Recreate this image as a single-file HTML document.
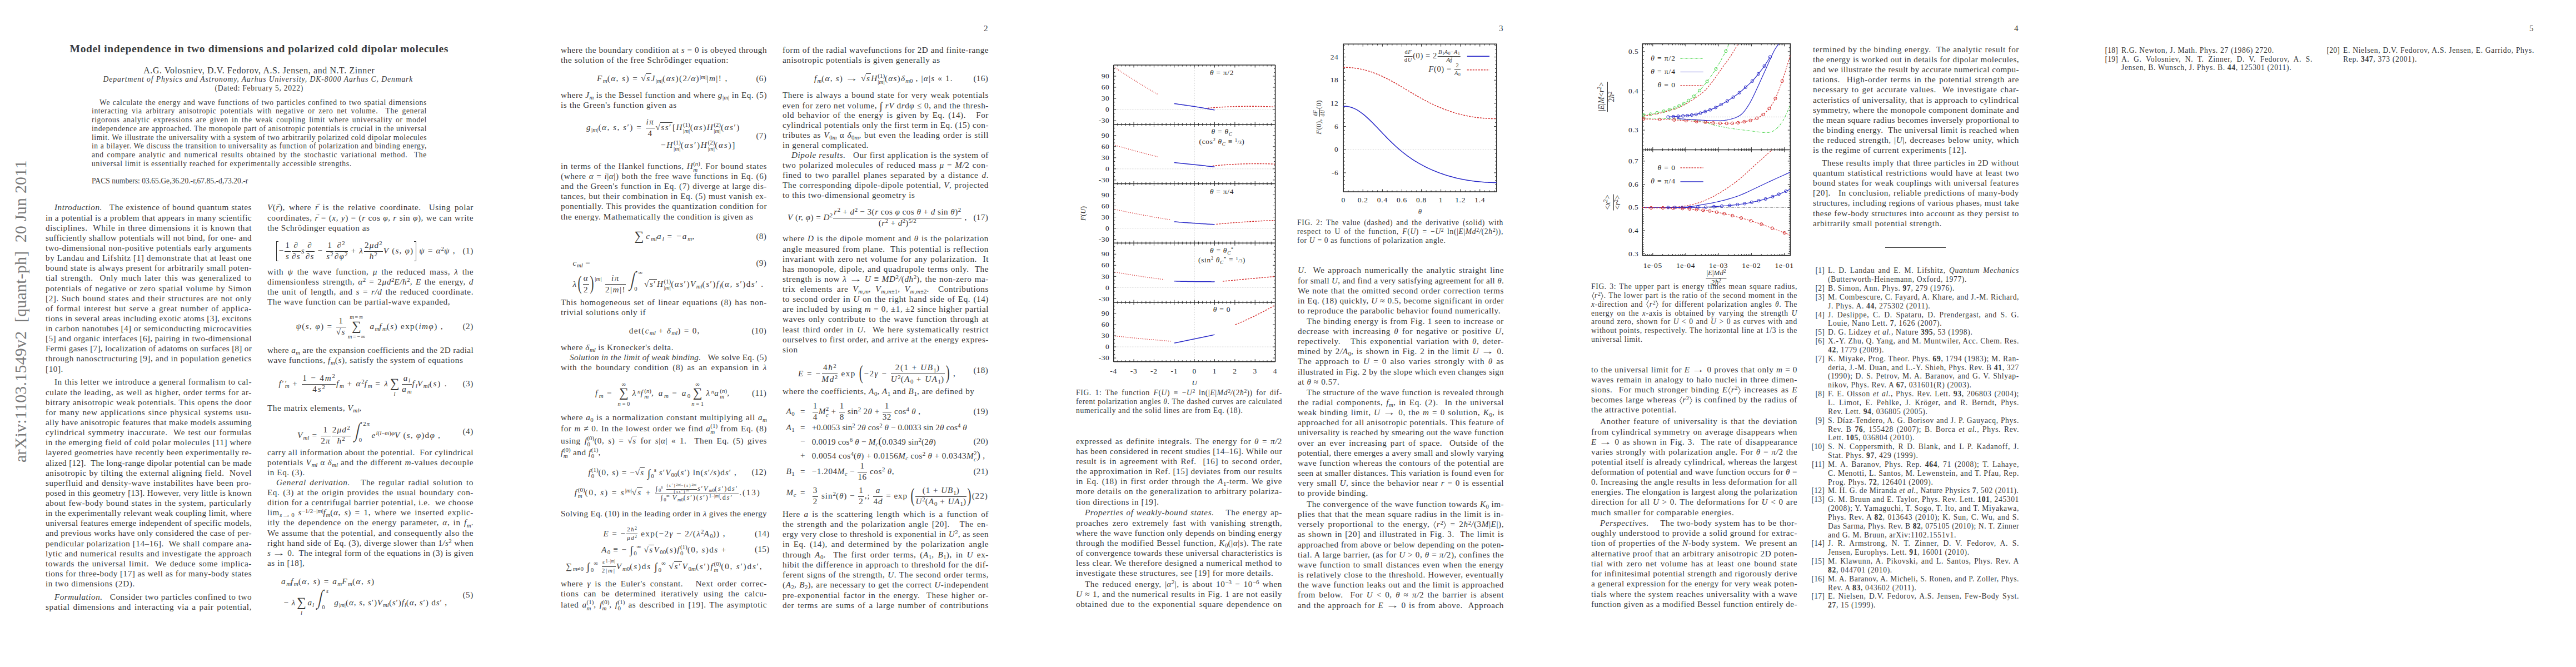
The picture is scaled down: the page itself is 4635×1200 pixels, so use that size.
<!DOCTYPE html><html><head><meta charset='utf-8'><style>*{margin:0;padding:0}
html,body{width:4635px;height:1200px;background:#fff;overflow:hidden}
body{position:relative;font-family:"Liberation Serif",serif;color:#383838}
.t{position:absolute;line-height:0;white-space:nowrap;font-size:15.2px}
.s{font-size:13.6px}
.j{text-align:justify;text-align-last:justify}
sub,sup{font-size:72%;line-height:0;position:relative;vertical-align:baseline;letter-spacing:0}
sub{top:0.28em}
sup{top:-0.42em}
svg{position:absolute;overflow:visible}
.fr{display:inline-block;vertical-align:calc(-0.6375em - 0.5px);text-align:center;line-height:0.92;margin:-40px 1px}
.fr>span{display:block}
.fr>span.n{border-bottom:1px solid #333;padding:0 1px 0.26em 1px}
.fr>span.d{padding-top:0.09em}
.op{display:inline-block;line-height:0;margin:0 2px;text-align:center;vertical-align:baseline}
.op .lt,.op .lb{display:block;position:relative;font-size:70%;line-height:0;text-align:center;white-space:nowrap}
.op .lt{top:-1.69em}.op .lb{top:1.64em}
.op .sy{display:block;font-size:155%;position:relative;top:-0.143em;line-height:0}
.brk{display:inline-block;vertical-align:25.8px;width:4px;height:36px;border:1.2px solid #333;margin-top:-40px;margin-bottom:-40px;box-sizing:border-box}
.brk.l{border-right:none;margin-right:1px}
.brk.r{border-left:none;margin-left:1px}
.vec{position:relative;display:inline-block;line-height:0}
.vec::after{content:'→';position:absolute;left:1px;top:-7px;font-size:9px;font-style:normal}
.side{position:absolute;font-size:30px;color:#7a7a7a;transform:rotate(-90deg);transform-origin:0 0;white-space:nowrap;line-height:30px;letter-spacing:0.2px}
.ov{display:inline-block;border-top:1px solid #333;line-height:1.02;margin:-40px 0 -40px -1px;padding:0 1px 0 1px}
.ss{display:inline-block;vertical-align:middle;line-height:1;font-size:72%;margin:-40px 0;position:relative;top:-0.05em;letter-spacing:0}
.ss>span{display:block;text-align:left}
.tf{font-size:72%;vertical-align:calc(-0.54em - 0.5px)}
.bigp{display:inline-block;font-size:230%;line-height:0;position:relative;top:0.165em;transform:scaleX(0.6);margin:0 -2px}
.sm2{font-size:125%;font-style:italic;position:relative;top:0.12em}
.tf2{font-size:60%;vertical-align:calc(-0.47em - 0.5px)}
.sm13{font-size:80%}
.rot{transform:translate(-50%,0) rotate(-90deg);transform-origin:50% 0}
.up2{font-style:normal}

.bi{display:inline-block;position:relative;line-height:0;margin-right:1.0em;margin-left:0.55em}
.bi .bs{display:inline-block;font-size:2.43em;position:relative;top:-0.055em;transform:skewX(-12deg) scaleX(0.62);margin:0 -2px 0 -1px}
.bi .bt,.bi .bb{position:absolute;font-size:70%;line-height:0;white-space:nowrap}
.bi .bt{left:1.25em;top:-1.21em}
.bi .bb{left:0.55em;top:1.55em}

.abw{display:inline-block;position:relative;width:6px;height:0;vertical-align:baseline}
svg.ab{position:absolute;left:0.5px;top:-11.5px}

.ar{display:inline-block;transform:scaleX(1.55);margin:0 3px;line-height:0}
</style></head><body><div class="side" style="left:22px;top:832px">arXiv:1103.1549v2&nbsp; [quant-ph]&nbsp; 20 Jun 2011</div>
<div class="t" style="left:125.6px;top:88.39px;font-size:19.6px;letter-spacing:0.578px;color:#3c3c3c;"><span><b>Model independence in two dimensions and polarized cold dipolar molecules</b></span></div>
<div class="t" style="left:258.3px;top:126.67px;font-size:15.8px;letter-spacing:0.657px;"><span>A.G. Volosniev, D.V. Fedorov, A.S. Jensen, and N.T. Zinner</span></div>
<div class="t s" style="left:185.5px;top:143.41px;letter-spacing:0.927px;"><span><i>Department of Physics and Astronomy, Aarhus University, DK-8000 Aarhus C, Denmark</i></span></div>
<div class="t s" style="left:386.5px;top:158.91px;letter-spacing:0.702px;"><span>(Dated: February 5, 2022)</span></div>
<div class="t s j" style="left:179.0px;top:184.61px;width:589.0px;letter-spacing:0.650px;"><span>We calculate the energy and wave functions of two particles confined to two spatial dimensions</span></div>
<div class="t s j" style="left:165.0px;top:200.35px;width:603.0px;letter-spacing:0.650px;"><span>interacting via arbitrary anisotropic potentials with negative or zero net volume.&nbsp; The general</span></div>
<div class="t s j" style="left:165.0px;top:216.09px;width:603.0px;letter-spacing:0.650px;"><span>rigorous analytic expressions are given in the weak coupling limit where universality or model</span></div>
<div class="t s j" style="left:165.0px;top:231.83px;width:603.0px;letter-spacing:0.564px;"><span>independence are approached. The monopole part of anisotropic potentials is crucial in the universal</span></div>
<div class="t s j" style="left:165.0px;top:247.57px;width:603.0px;letter-spacing:0.562px;"><span>limit. We illustrate the universality with a system of two arbitrarily polarized cold dipolar molecules</span></div>
<div class="t s j" style="left:165.0px;top:263.31px;width:603.0px;letter-spacing:0.594px;"><span>in a bilayer. We discuss the transition to universality as function of polarization and binding energy,</span></div>
<div class="t s j" style="left:165.0px;top:279.05px;width:603.0px;letter-spacing:0.650px;"><span>and compare analytic and numerical results obtained by the stochastic variational method.&nbsp; The</span></div>
<div class="t s" style="left:165.0px;top:294.79px;letter-spacing:0.650px;"><span>universal limit is essentially reached for experimentally accessible strengths.</span></div>
<div class="t s" style="left:165.0px;top:326.41px;letter-spacing:0.008px;"><span>PACS numbers: 03.65.Ge,36.20.-r,67.85.-d,73.20.-r</span></div>
<div class="t j" style="left:98.0px;top:373.47px;width:355.0px;letter-spacing:0.511px;"><span><i>Introduction.</i>&nbsp;&nbsp; The existence of bound quantum states</span></div>
<div class="t j" style="left:82.0px;top:391.60px;width:371.0px;letter-spacing:0.381px;"><span>in a potential is a problem that appears in many scientific</span></div>
<div class="t j" style="left:82.0px;top:409.73px;width:371.0px;letter-spacing:0.570px;"><span>disciplines.&nbsp; While in three dimensions it is known that</span></div>
<div class="t j" style="left:82.0px;top:427.86px;width:371.0px;letter-spacing:0.406px;"><span>sufficiently shallow potentials will not bind, for one- and</span></div>
<div class="t j" style="left:82.0px;top:445.99px;width:371.0px;letter-spacing:0.444px;"><span>two-dimensional non-positive potentials early arguments</span></div>
<div class="t j" style="left:82.0px;top:464.12px;width:371.0px;letter-spacing:0.545px;"><span>by Landau and Lifshitz [1] demonstrate that at least one</span></div>
<div class="t j" style="left:82.0px;top:482.25px;width:371.0px;letter-spacing:0.475px;"><span>bound state is always present for arbitrarily small poten-</span></div>
<div class="t j" style="left:82.0px;top:500.38px;width:371.0px;letter-spacing:0.570px;"><span>tial strength.&nbsp; Only much later this was generalized to</span></div>
<div class="t j" style="left:82.0px;top:518.51px;width:371.0px;letter-spacing:0.570px;"><span>potentials of negative or zero spatial volume by Simon</span></div>
<div class="t j" style="left:82.0px;top:536.64px;width:371.0px;letter-spacing:0.570px;"><span>[2]. Such bound states and their structures are not only</span></div>
<div class="t j" style="left:82.0px;top:554.77px;width:371.0px;letter-spacing:0.570px;"><span>of formal interest but serve a great number of applica-</span></div>
<div class="t j" style="left:82.0px;top:572.90px;width:371.0px;letter-spacing:0.359px;"><span>tions in several areas including exotic atoms [3], excitons</span></div>
<div class="t j" style="left:82.0px;top:591.03px;width:371.0px;letter-spacing:0.439px;"><span>in carbon nanotubes [4] or semiconducting microcavities</span></div>
<div class="t j" style="left:82.0px;top:609.16px;width:371.0px;letter-spacing:0.363px;"><span>[5] and organic interfaces [6], pairing in two-dimensional</span></div>
<div class="t j" style="left:82.0px;top:627.29px;width:371.0px;letter-spacing:0.267px;"><span>Fermi gases [7], localization of adatoms on surfaces [8] or</span></div>
<div class="t j" style="left:82.0px;top:645.42px;width:371.0px;letter-spacing:0.499px;"><span>through nanosctructuring [9], and in population genetics</span></div>
<div class="t" style="left:82.0px;top:663.55px;letter-spacing:0.570px;"><span>[10].</span></div>
<div class="t j" style="left:98.0px;top:687.47px;width:355.0px;letter-spacing:0.555px;"><span>In this letter we introduce a general formalism to cal-</span></div>
<div class="t j" style="left:82.0px;top:705.60px;width:371.0px;letter-spacing:0.570px;"><span>culate the leading, as well as higher, order terms for ar-</span></div>
<div class="t j" style="left:82.0px;top:723.73px;width:371.0px;letter-spacing:0.570px;"><span>bitrary anisotropic weak potentials. This opens the door</span></div>
<div class="t j" style="left:82.0px;top:741.86px;width:371.0px;letter-spacing:0.570px;"><span>for many new applications since physical systems usu-</span></div>
<div class="t j" style="left:82.0px;top:759.99px;width:371.0px;letter-spacing:0.348px;"><span>ally have anisotropic features that make models assuming</span></div>
<div class="t j" style="left:82.0px;top:778.12px;width:371.0px;letter-spacing:0.570px;"><span>cylindrical symmetry inaccurate.&nbsp; We test our formulas</span></div>
<div class="t j" style="left:82.0px;top:796.25px;width:371.0px;letter-spacing:0.484px;"><span>in the emerging field of cold polar molecules [11] where</span></div>
<div class="t j" style="left:82.0px;top:814.38px;width:371.0px;letter-spacing:0.388px;"><span>layered geometries have recently been experimentally re-</span></div>
<div class="t j" style="left:82.0px;top:832.51px;width:371.0px;letter-spacing:0.291px;"><span>alized [12].&nbsp; The long-range dipolar potential can be made</span></div>
<div class="t j" style="left:82.0px;top:850.64px;width:371.0px;letter-spacing:0.570px;"><span>anisotropic by tilting the external aligning field.&nbsp; Novel</span></div>
<div class="t j" style="left:82.0px;top:868.77px;width:371.0px;letter-spacing:0.570px;"><span>superfluid and density-wave instabilites have been pro-</span></div>
<div class="t j" style="left:82.0px;top:886.90px;width:371.0px;letter-spacing:0.259px;"><span>posed in this geometry [13]. However, very little is known</span></div>
<div class="t j" style="left:82.0px;top:905.03px;width:371.0px;letter-spacing:0.570px;"><span>about few-body bound states in the system, particularly</span></div>
<div class="t j" style="left:82.0px;top:923.16px;width:371.0px;letter-spacing:0.321px;"><span>in the experimentally relevant weak coupling limit, where</span></div>
<div class="t j" style="left:82.0px;top:941.29px;width:371.0px;letter-spacing:0.304px;"><span>universal features emerge independent of specific models,</span></div>
<div class="t j" style="left:82.0px;top:959.42px;width:371.0px;letter-spacing:0.384px;"><span>and previous works have only considered the case of per-</span></div>
<div class="t j" style="left:82.0px;top:977.55px;width:371.0px;letter-spacing:0.513px;"><span>pendicular polarization [14–16].&nbsp; We shall compare ana-</span></div>
<div class="t j" style="left:82.0px;top:995.68px;width:371.0px;letter-spacing:0.570px;"><span>lytic and numerical results and investigate the approach</span></div>
<div class="t j" style="left:82.0px;top:1013.81px;width:371.0px;letter-spacing:0.570px;"><span>towards the universal limit.&nbsp; We deduce some implica-</span></div>
<div class="t j" style="left:82.0px;top:1031.94px;width:371.0px;letter-spacing:0.446px;"><span>tions for three-body [17] as well as for many-body states</span></div>
<div class="t" style="left:82.0px;top:1050.07px;letter-spacing:0.570px;"><span>in two dimensions (2D).</span></div>
<div class="t j" style="left:98.0px;top:1073.87px;width:355.0px;letter-spacing:0.495px;"><span><i>Formulation.</i>&nbsp;&nbsp; Consider two particles confined to two</span></div>
<div class="t j" style="left:82.0px;top:1091.97px;width:371.0px;letter-spacing:0.570px;"><span>spatial dimensions and interacting via a pair potential,</span></div>
<div class="t j" style="left:481.0px;top:373.47px;width:371.0px;letter-spacing:0.570px;"><span><i>V</i>(<i class=vec>r</i>), where <i class=vec>r</i> is the relative coordinate.&nbsp; Using polar</span></div>
<div class="t j" style="left:481.0px;top:391.60px;width:371.0px;letter-spacing:0.570px;"><span>coordinates, <i class=vec>r</i> = (<i>x, y</i>) = (<i>r</i> cos <i>φ, r</i> sin <i>φ</i>), we can write</span></div>
<div class="t" style="left:481.0px;top:409.73px;letter-spacing:0.570px;"><span>the Schrödinger equation as</span></div>
<div class="t eq" style="left:496.5px;top:450.87px;letter-spacing:1.167px;"><span><span class="brk l" style="height:36px"></span>−<span class="fr "><span class="n">1</span><span class="d"><i>s</i></span></span><span class="fr "><span class="n">∂</span><span class="d">∂<i>s</i></span></span><i>s</i><span class="fr "><span class="n">∂</span><span class="d">∂<i>s</i></span></span> − <span class="fr "><span class="n">1</span><span class="d"><i>s</i><sup>2</sup></span></span><span class="fr "><span class="n">∂<sup>2</sup></span><span class="d">∂<i>φ</i><sup>2</sup></span></span> + <i>λ</i><span class="fr "><span class="n">2<i>μd</i><sup>2</sup></span><span class="d"><i>ħ</i><sup>2</sup></span></span><i>V</i> (<i>s, φ</i>)<span class="brk r" style="height:36px"></span> <i>ψ</i> = <i>α</i><sup>2</sup><i>ψ</i> ,</span></div>
<div class="t" style="left:832.4px;top:451.27px;letter-spacing:0.570px;"><span>(1)</span></div>
<div class="t j" style="left:481.0px;top:488.87px;width:371.0px;letter-spacing:0.570px;"><span>with <i>ψ</i> the wave function, <i>μ</i> the reduced mass, <i>λ</i> the</span></div>
<div class="t j" style="left:481.0px;top:507.00px;width:371.0px;letter-spacing:0.570px;"><span>dimensionless strength, <i>α</i><sup>2</sup> = 2<i>μd</i><sup>2</sup><i>E/ħ</i><sup>2</sup>, <i>E</i> the energy, <i>d</i></span></div>
<div class="t j" style="left:481.0px;top:525.13px;width:371.0px;letter-spacing:0.570px;"><span>the unit of length, and <i>s</i> = <i>r/d</i> the reduced coordinate.</span></div>
<div class="t" style="left:481.0px;top:543.26px;letter-spacing:0.570px;"><span>The wave function can be partial-wave expanded,</span></div>
<div class="t eq" style="left:532.5px;top:586.87px;letter-spacing:1.353px;"><span><i>ψ</i>(<i>s, φ</i>) = <span class="fr "><span class="n">1</span><span class="d">√<span class="ov"><i>s</i></span></span></span><span class="op "><span class="lt"><i>m</i>=∞</span><span class="sy">∑</span><span class="lb"><i>m</i>=−∞</span></span> <i>a<sub>m</sub>f<sub>m</sub></i>(<i>s</i>) exp(<i>imφ</i>) ,</span></div>
<div class="t" style="left:832.4px;top:586.87px;letter-spacing:0.570px;"><span>(2)</span></div>
<div class="t j" style="left:481.0px;top:629.87px;width:371.0px;letter-spacing:0.367px;"><span>where <i>a<sub>m</sub></i> are the expansion coefficients and the 2D radial</span></div>
<div class="t" style="left:481.0px;top:648.00px;letter-spacing:0.570px;"><span>wave functions, <i>f<sub>m</sub></i>(<i>s</i>), satisfy the system of equations</span></div>
<div class="t eq" style="left:501.5px;top:689.87px;letter-spacing:1.810px;"><span><i>f</i>′′<sub style="margin-left:-5px"><i>m</i></sub> + <span class="fr "><span class="n">1 − 4<i>m</i><sup>2</sup></span><span class="d">4<i>s</i><sup>2</sup></span></span><i>f<sub>m</sub></i> + <i>α</i><sup>2</sup><i>f<sub>m</sub></i> = <i>λ</i><span class="op "><span class="lt">&nbsp;</span><span class="sy">∑</span><span class="lb"><i>l</i></span></span><span class="fr "><span class="n"><i>a<sub>l</sub></i></span><span class="d"><i>a<sub>m</sub></i></span></span><i>f<sub>l</sub>V<sub>ml</sub></i>(<i>s</i>) .</span></div>
<div class="t" style="left:832.4px;top:689.87px;letter-spacing:0.570px;"><span>(3)</span></div>
<div class="t" style="left:481.0px;top:733.87px;letter-spacing:0.570px;"><span>The matrix elements, <i>V<sub>ml</sub></i>,</span></div>
<div class="t eq" style="left:535.0px;top:775.87px;letter-spacing:1.191px;"><span><i>V<sub>ml</sub></i> = <span class="fr "><span class="n">1</span><span class="d">2<i>π</i></span></span><span class="fr "><span class="n">2<i>μd</i><sup>2</sup></span><span class="d"><i>ħ</i><sup>2</sup></span></span><span class="bi"><span class="bs">∫</span><span class="bt">2<i>π</i></span><span class="bb">0</span></span> <i>e</i><sup><i>i</i>(<i>l</i>−<i>m</i>)<i>φ</i></sup><i>V</i> (<i>s, φ</i>)d<i>φ</i> ,</span></div>
<div class="t" style="left:832.4px;top:775.87px;letter-spacing:0.570px;"><span>(4)</span></div>
<div class="t j" style="left:481.0px;top:813.87px;width:371.0px;letter-spacing:0.445px;"><span>carry all information about the potential.&nbsp; For cylindrical</span></div>
<div class="t j" style="left:481.0px;top:832.00px;width:371.0px;letter-spacing:0.570px;"><span>potentials <i>V<sub>ml</sub></i> <span class=up2>α</span> <i>δ<sub>ml</sub></i> and the different <i>m</i>-values decouple</span></div>
<div class="t" style="left:481.0px;top:850.13px;letter-spacing:0.570px;"><span>in Eq. (3).</span></div>
<div class="t j" style="left:497.0px;top:867.87px;width:355.0px;letter-spacing:0.570px;"><span><i>General derivation.</i>&nbsp;&nbsp; The regular radial solution to</span></div>
<div class="t j" style="left:481.0px;top:885.87px;width:371.0px;letter-spacing:0.570px;"><span>Eq. (3) at the origin provides the usual boundary con-</span></div>
<div class="t j" style="left:481.0px;top:904.37px;width:371.0px;letter-spacing:0.570px;"><span>dition for a centrifugal barrier potential, i.e.&nbsp; we choose</span></div>
<div class="t j" style="left:481.0px;top:922.37px;width:371.0px;letter-spacing:0.570px;"><span>lim<sub><i>s</i><span class=ar>→</span>0</sub> <i>s</i><sup>−1/2−|<i>m</i>|</sup><i>f<sub>m</sub></i>(<i>α, s</i>) = 1, where we inserted explic-</span></div>
<div class="t j" style="left:481.0px;top:940.47px;width:371.0px;letter-spacing:0.570px;"><span>itly the dependence on the energy parameter, <i>α</i>, in <i>f<sub>m</sub></i>.</span></div>
<div class="t j" style="left:481.0px;top:958.57px;width:371.0px;letter-spacing:0.570px;"><span>We assume that the potential, and consequently also the</span></div>
<div class="t j" style="left:481.0px;top:976.67px;width:371.0px;letter-spacing:0.475px;"><span>right hand side of Eq. (3), diverge slower than 1<i>/s</i><sup>2</sup> when</span></div>
<div class="t j" style="left:481.0px;top:994.77px;width:371.0px;letter-spacing:0.346px;"><span><i>s</i> <span class=ar>→</span> 0.&nbsp; The integral form of the equations in (3) is given</span></div>
<div class="t" style="left:481.0px;top:1012.87px;letter-spacing:0.570px;"><span>as in [18],</span></div>
<div class="t eq" style="left:506.0px;top:1045.87px;letter-spacing:1.521px;"><span><i>a<sub>m</sub>f<sub>m</sub></i>(<i>α, s</i>) = <i>a<sub>m</sub>F<sub>m</sub></i>(<i>α, s</i>)</span></div>
<div class="t eq" style="left:510.5px;top:1076.87px;letter-spacing:0.841px;"><span>− <i>λ</i><span class="op "><span class="lt">&nbsp;</span><span class="sy">∑</span><span class="lb"><i>l</i></span></span><i>a<sub>l</sub></i><span class="bi"><span class="bs">∫</span><span class="bt"><i>s</i></span><span class="bb">0</span></span> <i>g</i><sub>|<i>m</i>|</sub>(<i>α, s, s</i>′)<i>V<sub>ml</sub></i>(<i>s</i>′)<i>f<sub>l</sub></i>(<i>α, s</i>′) d<i>s</i>′ ,</span></div>
<div class="t" style="left:832.4px;top:1069.87px;letter-spacing:0.570px;"><span>(5)</span></div>
<div class="t" style="left:1778.0px;top:50.87px;transform:translateX(-100%);letter-spacing:0.3px">2</div>
<div class="t j" style="left:1009.0px;top:89.87px;width:371.0px;letter-spacing:0.498px;"><span>where the boundary condition at <i>s</i> = 0 is obeyed through</span></div>
<div class="t" style="left:1009.0px;top:108.00px;letter-spacing:0.570px;"><span>the solution of the free Schrödinger equation:</span></div>
<div class="t eq" style="left:1074.0px;top:141.37px;letter-spacing:1.448px;"><span><i>F<sub>m</sub></i>(<i>α, s</i>) = √<span class="ov"><i>s</i></span><i>J</i><sub>|<i>m</i>|</sub>(<i>αs</i>)(2<i>/α</i>)<sup>|<i>m</i>|</sup>|<i>m</i>|! ,</span></div>
<div class="t" style="left:1379.0px;top:141.37px;transform:translateX(-100%);letter-spacing:0.3px">(6)</div>
<div class="t j" style="left:1009.0px;top:170.57px;width:371.0px;letter-spacing:0.538px;"><span>where <i>J<sub>m</sub></i> is the Bessel function and where <i>g</i><sub>|<i>m</i>|</sub> in Eq. (5)</span></div>
<div class="t" style="left:1009.0px;top:188.87px;letter-spacing:0.570px;"><span>is the Green's function given as</span></div>
<div class="t eq" style="left:1055.0px;top:229.37px;letter-spacing:1.502px;"><span><i>g</i><sub>|<i>m</i>|</sub>(<i>α, s, s</i>′) = <span class="fr "><span class="n"><i>iπ</i></span><span class="d">4</span></span>√<span class="ov"><i>ss</i>′</span>[<i>H</i><span class="ss"><span class="up">(1)</span><span class="dn">|<i>m</i>|</span></span>(<i>αs</i>)<i>H</i><span class="ss"><span class="up">(2)</span><span class="dn">|<i>m</i>|</span></span>(<i>αs</i>′)</span></div>
<div class="t eq" style="left:1189.0px;top:260.57px;letter-spacing:1.739px;"><span>−<i>H</i><span class="ss"><span class="up">(1)</span><span class="dn">|<i>m</i>|</span></span>(<i>αs</i>′)<i>H</i><span class="ss"><span class="up">(2)</span><span class="dn">|<i>m</i>|</span></span>(<i>αs</i>)]</span></div>
<div class="t" style="left:1379.0px;top:243.87px;transform:translateX(-100%);letter-spacing:0.3px">(7)</div>
<div class="t j" style="left:1009.0px;top:298.87px;width:371.0px;letter-spacing:0.570px;"><span>in terms of the Hankel functions, <i>H</i><span class='ss'><span class='up'>(<i>n</i>)</span><span class='dn'><i>m</i></span></span>. For bound states</span></div>
<div class="t j" style="left:1009.0px;top:317.00px;width:371.0px;letter-spacing:0.570px;"><span>(where <i>α</i> = <i>i</i>|<i>α</i>|) both the free wave functions in Eq. (6)</span></div>
<div class="t j" style="left:1009.0px;top:335.13px;width:371.0px;letter-spacing:0.570px;"><span>and the Green's function in Eq. (7) diverge at large dis-</span></div>
<div class="t j" style="left:1009.0px;top:353.26px;width:371.0px;letter-spacing:0.570px;"><span>tances, but their combination in Eq. (5) must vanish ex-</span></div>
<div class="t j" style="left:1009.0px;top:371.39px;width:371.0px;letter-spacing:0.497px;"><span>ponentially. This provides the quantization condition for</span></div>
<div class="t" style="left:1009.0px;top:389.52px;letter-spacing:0.570px;"><span>the energy. Mathematically the condition is given as</span></div>
<div class="t eq" style="left:1139.5px;top:424.87px;letter-spacing:2.045px;"><span><span class="op "><span class="lt">&nbsp;</span><span class="sy">∑</span><span class="lb">&nbsp;</span></span><i>c<sub>ml</sub>a<sub>l</sub></i> = −<i>a<sub>m</sub></i>,</span></div>
<div class="t" style="left:1379.0px;top:424.87px;transform:translateX(-100%);letter-spacing:0.3px">(8)</div>
<div class="t eq" style="left:1030.6px;top:473.37px;letter-spacing:0.570px;"><span><i>c<sub>ml</sub></i> =</span></div>
<div class="t" style="left:1379.0px;top:473.37px;transform:translateX(-100%);letter-spacing:0.3px">(9)</div>
<div class="t eq" style="left:1030.6px;top:503.57px;letter-spacing:1.465px;"><span><i>λ</i><span class="bigp">(</span><span class="fr "><span class="n"><i>α</i></span><span class="d">2</span></span><span class="bigp">)</span><sup style="top:-1.0em">|<i>m</i>|</sup> <span class="fr "><span class="n"><i>iπ</i></span><span class="d">2|<i>m</i>|!</span></span><span class="bi"><span class="bs">∫</span><span class="bt">∞</span><span class="bb">0</span></span>√<span class="ov"><i>s</i>′</span><i>H</i><span class="ss"><span class="up">(1)</span><span class="dn">|<i>m</i>|</span></span>(<i>αs</i>′)<i>V<sub>ml</sub></i>(<i>s</i>′)<i>f<sub>l</sub></i>(<i>α, s</i>′)d<i>s</i>′ .</span></div>
<div class="t j" style="left:1009.0px;top:543.87px;width:371.0px;letter-spacing:0.570px;"><span>This homogeneous set of linear equations (8) has non-</span></div>
<div class="t" style="left:1009.0px;top:562.00px;letter-spacing:0.570px;"><span>trivial solutions only if</span></div>
<div class="t eq" style="left:1131.8px;top:594.87px;letter-spacing:1.319px;"><span>det(<i>c<sub>ml</sub></i> + <i>δ<sub>ml</sub></i>) = 0,</span></div>
<div class="t" style="left:1379.0px;top:594.87px;transform:translateX(-100%);letter-spacing:0.3px">(10)</div>
<div class="t" style="left:1009.0px;top:624.87px;letter-spacing:0.570px;"><span>where <i>δ<sub>ml</sub></i> is Kronecker's delta.</span></div>
<div class="t j" style="left:1025.0px;top:642.87px;width:355.0px;letter-spacing:0.287px;"><span><i>Solution in the limit of weak binding.</i>&nbsp;&nbsp; We solve Eq. (5)</span></div>
<div class="t j" style="left:1009.0px;top:661.00px;width:371.0px;letter-spacing:0.570px;"><span>with the boundary condition (8) as an expansion in <i>λ</i></span></div>
<div class="t eq" style="left:1071.0px;top:707.47px;letter-spacing:2.559px;"><span><i>f<sub>m</sub></i> = <span class="op "><span class="lt">∞</span><span class="sy">∑</span><span class="lb"><i>n</i>=0</span></span><i>λ<sup>n</sup>f</i><span class="ss"><span class="up">(<i>n</i>)</span><span class="dn"><i>m</i></span></span>, <i>a<sub>m</sub></i> = <i>a</i><sub>0</sub><span class="op "><span class="lt">∞</span><span class="sy">∑</span><span class="lb"><i>n</i>=1</span></span><i>λ<sup>n</sup>a</i><span class="ss"><span class="up">(<i>n</i>)</span><span class="dn"><i>m</i></span></span>,</span></div>
<div class="t" style="left:1379.0px;top:707.47px;transform:translateX(-100%);letter-spacing:0.3px">(11)</div>
<div class="t j" style="left:1009.0px;top:751.07px;width:371.0px;letter-spacing:0.570px;"><span>where <i>a</i><sub>0</sub> is a normalization constant multiplying all <i>a<sub>m</sub></i></span></div>
<div class="t j" style="left:1009.0px;top:771.27px;width:371.0px;letter-spacing:0.570px;"><span>for <i>m</i> ≠ 0. In the lowest order we find <i>a</i><span class="ss"><span class="up">(1)</span><span class="dn"><i>m</i></span></span> from Eq. (8)</span></div>
<div class="t j" style="left:1009.0px;top:792.87px;width:371.0px;letter-spacing:0.570px;"><span>using <i>f</i><span class="ss"><span class="up">(0)</span><span class="dn">0</span></span>(0<i>, s</i>) = √<span class="ov"><i>s</i></span> for <i>s</i>|<i>α</i>| « 1.&nbsp; Then Eq. (5) gives</span></div>
<div class="t" style="left:1009.0px;top:814.07px;letter-spacing:0.570px;"><span><i>f</i><span class="ss"><span class="up">(0)</span><span class="dn"><i>m</i></span></span> and <i>f</i><span class="ss"><span class="up">(1)</span><span class="dn">0</span></span>,</span></div>
<div class="t eq" style="left:1058.5px;top:849.37px;letter-spacing:1.033px;"><span><i>f</i><span class="ss"><span class="up">(1)</span><span class="dn">0</span></span>(0<i>, s</i>) = −√<span class="ov"><i>s</i></span> <span class="sm2">∫</span><sub style="top:0.45em">0</sub><sup style="top:-0.6em">s</sup> <i>s</i>′<i>V</i><sub>00</sub>(<i>s</i>′) ln(<i>s</i>′<i>/s</i>)d<i>s</i>′ ,</span></div>
<div class="t" style="left:1379.0px;top:849.37px;transform:translateX(-100%);letter-spacing:0.3px">(12)</div>
<div class="t eq" style="left:1033.7px;top:885.87px;letter-spacing:1.877px;"><span><i>f</i><span class="ss"><span class="up">(0)</span><span class="dn"><i>m</i></span></span>(0<i>, s</i>) = <i>s</i><sup>|<i>m</i>|</sup>√<span class="ov"><i>s</i></span> + <span class="fr sm13"><span class="n">∫<sub>0</sub><sup><i>s</i></sup> <span class="fr tf2"><span class="n">(<i>s</i>′)<sup>2|<i>m</i>|</sup>−(<i>s</i>)<sup>2|<i>m</i>|</sup></span><span class="d">(<i>ss</i>′)<sup>|<i>m</i>|</sup></span></span><i>s</i>′<i>V</i><sub><i>m</i>0</sub>(<i>s</i>′)d<i>s</i>′</span><span class="d">∫<sub>0</sub><sup>∞</sup> <i>V</i><sub><i>m</i>0</sub>(<i>s</i>′)(<i>s</i>′)<sup>1−|<i>m</i>|</sup>.d<i>s</i>′</span></span>.(13)</span></div>
<div class="t j" style="left:1009.0px;top:923.57px;width:371.0px;letter-spacing:0.302px;"><span>Solving Eq. (10) in the leading order in <i>λ</i> gives the energy</span></div>
<div class="t eq" style="left:1085.5px;top:959.57px;letter-spacing:1.368px;"><span><i>E</i> = −<span class="fr tf"><span class="n">2<i>ħ</i><sup>2</sup></span><span class="d"><i>μd</i><sup>2</sup></span></span> exp(−2<i>γ</i> − 2<i>/</i>(<i>λ</i><sup>2</sup><i>A</i><sub>0</sub>)) ,</span></div>
<div class="t" style="left:1384.6px;top:959.57px;transform:translateX(-100%);letter-spacing:0.3px">(14)</div>
<div class="t eq" style="left:1082.0px;top:987.87px;letter-spacing:1.376px;"><span><i>A</i><sub>0</sub> ≡ − <span class="sm2">∫</span><sub style="top:0.45em">0</sub><sup style="top:-0.6em">∞</sup> √<span class="ov"><i>s</i></span><i>V</i><sub>00</sub>(<i>s</i>)<i>f</i><span class="ss"><span class="up">(1)</span><span class="dn">0</span></span>(0<i>, s</i>)d<i>s</i> +</span></div>
<div class="t" style="left:1384.6px;top:987.87px;transform:translateX(-100%);letter-spacing:0.3px">(15)</div>
<div class="t eq" style="left:1018.0px;top:1017.87px;letter-spacing:1.808px;"><span>∑<sub><i>m</i>≠0</sub> <span class="sm2">∫</span><sub style="top:0.45em">0</sub><sup style="top:-0.6em">∞</sup> <span class="fr tf"><span class="n"><i>s</i><sup>1−|<i>m</i>|</sup></span><span class="d">2|<i>m</i>|</span></span><i>V</i><sub><i>m</i>0</sub>(<i>s</i>)d<i>s</i> <span class="sm2">∫</span><sub style="top:0.45em">0</sub><sup style="top:-0.6em">∞</sup> √<span class="ov"><i>s</i>′</span><i>V</i><sub>0<i>m</i></sub>(<i>s</i>′)<i>f</i><span class="ss"><span class="up">(0)</span><span class="dn"><i>m</i></span></span>(0<i>, s</i>′)d<i>s</i>′,</span></div>
<div class="t j" style="left:1009.0px;top:1049.57px;width:371.0px;letter-spacing:0.570px;"><span>where <i>γ</i> is the Euler's constant.&nbsp;&nbsp; Next order correc-</span></div>
<div class="t j" style="left:1009.0px;top:1067.87px;width:371.0px;letter-spacing:0.570px;"><span>tions can be determined iteratively using the calcu-</span></div>
<div class="t j" style="left:1009.0px;top:1087.87px;width:371.0px;letter-spacing:0.570px;"><span>lated <i>a</i><span class="ss"><span class="up">(1)</span><span class="dn"><i>m</i></span></span>, <i>f</i><span class="ss"><span class="up">(0)</span><span class="dn"><i>m</i></span></span>, <i>f</i><span class="ss"><span class="up">(1)</span><span class="dn">0</span></span> as described in [19]. The asymptotic</span></div>
<div class="t j" style="left:1408.0px;top:89.87px;width:371.0px;letter-spacing:0.477px;"><span>form of the radial wavefunctions for 2D and finite-range</span></div>
<div class="t" style="left:1408.0px;top:108.00px;letter-spacing:0.570px;"><span>anisotropic potentials is given generally as</span></div>
<div class="t eq" style="left:1465.0px;top:141.37px;letter-spacing:1.193px;"><span><i>f<sub>m</sub></i>(<i>α, s</i>) <span class=ar>→</span> √<span class="ov"><i>s</i></span><i>H</i><span class="ss"><span class="up">(1)</span><span class="dn">|<i>m</i>|</span></span>(<i>αs</i>)<i>δ</i><sub><i>m</i>0</sub> , |<i>α</i>|<i>s</i> « 1.</span></div>
<div class="t" style="left:1778.0px;top:141.37px;transform:translateX(-100%);letter-spacing:0.3px">(16)</div>
<div class="t j" style="left:1408.0px;top:170.57px;width:371.0px;letter-spacing:0.570px;"><span>There is always a bound state for very weak potentials</span></div>
<div class="t j" style="left:1408.0px;top:188.70px;width:371.0px;letter-spacing:0.570px;"><span>even for zero net volume, <span class='sm2'>∫</span> <i>rV</i> d<i>r</i>d<i>φ</i> ≤ 0, and the thresh-</span></div>
<div class="t j" style="left:1408.0px;top:206.83px;width:371.0px;letter-spacing:0.570px;"><span>old behavior of the energy is given by Eq. (14).&nbsp;&nbsp; For</span></div>
<div class="t j" style="left:1408.0px;top:224.96px;width:371.0px;letter-spacing:0.495px;"><span>cylindrical potentials only the first term in Eq. (15) con-</span></div>
<div class="t j" style="left:1408.0px;top:243.09px;width:371.0px;letter-spacing:0.570px;"><span>tributes as <i>V</i><sub>0<i>m</i></sub> <span class=up2>α</span> <i>δ</i><sub>0<i>m</i></sub>, but even the leading order is still</span></div>
<div class="t" style="left:1408.0px;top:261.22px;letter-spacing:0.570px;"><span>in general complicated.</span></div>
<div class="t j" style="left:1424.0px;top:278.87px;width:355.0px;letter-spacing:0.570px;"><span><i>Dipole results.</i>&nbsp;&nbsp; Our first application is the system of</span></div>
<div class="t j" style="left:1408.0px;top:297.00px;width:371.0px;letter-spacing:0.570px;"><span>two polarized molecules of reduced mass <i>μ</i> = <i>M/</i>2 con-</span></div>
<div class="t j" style="left:1408.0px;top:315.13px;width:371.0px;letter-spacing:0.570px;"><span>fined to two parallel planes separated by a distance <i>d</i>.</span></div>
<div class="t j" style="left:1408.0px;top:333.26px;width:371.0px;letter-spacing:0.570px;"><span>The corresponding dipole-dipole potential, <i>V</i>, projected</span></div>
<div class="t" style="left:1408.0px;top:351.39px;letter-spacing:0.570px;"><span>to this two-dimensional geometry is</span></div>
<div class="t eq" style="left:1417.0px;top:390.87px;letter-spacing:0.438px;"><span><i>V</i> (<i>r, φ</i>) = <i>D</i><sup>2</sup><span class="fr "><span class="n"><i>r</i><sup>2</sup> + <i>d</i><sup>2</sup> − 3(<i>r</i> cos <i>φ</i> cos <i>θ</i> + <i>d</i> sin <i>θ</i>)<sup>2</sup></span><span class="d">(<i>r</i><sup>2</sup> + <i>d</i><sup>2</sup>)<sup>5/2</sup></span></span> ,</span></div>
<div class="t" style="left:1778.0px;top:390.87px;transform:translateX(-100%);letter-spacing:0.3px">(17)</div>
<div class="t j" style="left:1408.0px;top:429.37px;width:371.0px;letter-spacing:0.570px;"><span>where <i>D</i> is the dipole moment and <i>θ</i> is the polarization</span></div>
<div class="t j" style="left:1408.0px;top:447.50px;width:371.0px;letter-spacing:0.570px;"><span>angle measured from plane.&nbsp; This potential is reflection</span></div>
<div class="t j" style="left:1408.0px;top:465.63px;width:371.0px;letter-spacing:0.570px;"><span>invariant with zero net volume for any polarization.&nbsp; It</span></div>
<div class="t j" style="left:1408.0px;top:483.76px;width:371.0px;letter-spacing:0.570px;"><span>has monopole, dipole, and quadrupole terms only.&nbsp; The</span></div>
<div class="t j" style="left:1408.0px;top:501.89px;width:371.0px;letter-spacing:0.570px;"><span>strength is now <i>λ</i> <span class=ar>→</span> <i>U</i> ≡ <i>MD</i><sup>2</sup><i>/</i>(<i>dħ</i><sup>2</sup>), the non-zero ma-</span></div>
<div class="t j" style="left:1408.0px;top:520.02px;width:371.0px;letter-spacing:0.570px;"><span>trix elements are <i>V</i><sub><i>m,m</i></sub>, <i>V</i><sub><i>m,m</i>±1</sub>, <i>V</i><sub><i>m,m</i>±2</sub>.&nbsp; Contributions</span></div>
<div class="t j" style="left:1408.0px;top:538.15px;width:371.0px;letter-spacing:0.570px;"><span>to second order in <i>U</i> on the right hand side of Eq. (14)</span></div>
<div class="t j" style="left:1408.0px;top:556.28px;width:371.0px;letter-spacing:0.570px;"><span>are included by using <i>m</i> = 0<i>,</i> ±1<i>,</i> ±2 since higher partial</span></div>
<div class="t j" style="left:1408.0px;top:574.41px;width:371.0px;letter-spacing:0.570px;"><span>waves only contribute to the wave function through at</span></div>
<div class="t j" style="left:1408.0px;top:592.54px;width:371.0px;letter-spacing:0.570px;"><span>least third order in <i>U</i>.&nbsp; We here systematically restrict</span></div>
<div class="t j" style="left:1408.0px;top:610.67px;width:371.0px;letter-spacing:0.570px;"><span>ourselves to first order, and arrive at the energy expres-</span></div>
<div class="t" style="left:1408.0px;top:628.80px;letter-spacing:0.570px;"><span>sion</span></div>
<div class="t eq" style="left:1436.0px;top:665.57px;letter-spacing:1.502px;"><span><i>E</i> = −<span class="fr "><span class="n">4<i>ħ</i><sup>2</sup></span><span class="d"><i>Md</i><sup>2</sup></span></span> exp <span class="bigp">(</span>−2<i>γ</i> − <span class="fr "><span class="n">2(1 + <i>UB</i><sub>1</sub>)</span><span class="d"><i>U</i><sup>2</sup>(<i>A</i><sub>0</sub> + <i>UA</i><sub>1</sub>)</span></span><span class="bigp">)</span> ,</span></div>
<div class="t" style="left:1778.0px;top:665.57px;transform:translateX(-100%);letter-spacing:0.3px">(18)</div>
<div class="t" style="left:1408.0px;top:703.87px;letter-spacing:0.570px;"><span>where the coefficients, <i>A</i><sub>0</sub><i>, A</i><sub>1</sub> and <i>B</i><sub>1</sub>, are defined by</span></div>
<div class="t eq" style="left:1414.4px;top:739.87px;letter-spacing:0.570px;"><span><i>A</i><sub>0</sub></span></div>
<div class="t eq" style="left:1440.0px;top:739.87px;letter-spacing:0.570px;"><span>=</span></div>
<div class="t eq" style="left:1460.7px;top:739.87px;letter-spacing:0.414px;"><span><span class="fr "><span class="n">1</span><span class="d">4</span></span><i>M</i><span class="ss"><span class="up">2</span><span class="dn"><i>c</i></span></span> + <span class="fr "><span class="n">1</span><span class="d">8</span></span> sin<sup>2</sup> 2<i>θ</i> + <span class="fr "><span class="n">1</span><span class="d">32</span></span> cos<sup>4</sup> <i>θ</i> ,</span></div>
<div class="t" style="left:1778.0px;top:739.87px;transform:translateX(-100%);letter-spacing:0.3px">(19)</div>
<div class="t eq" style="left:1414.4px;top:768.87px;letter-spacing:0.570px;"><span><i>A</i><sub>1</sub></span></div>
<div class="t eq" style="left:1440.0px;top:768.87px;letter-spacing:0.570px;"><span>=</span></div>
<div class="t eq" style="left:1460.7px;top:768.87px;letter-spacing:0.071px;"><span>+0.0053 sin<sup>2</sup> 2<i>θ</i> cos<sup>2</sup> <i>θ</i> − 0.0033 sin 2<i>θ</i> cos<sup>4</sup> <i>θ</i></span></div>
<div class="t eq" style="left:1440.0px;top:793.87px;letter-spacing:0.570px;"><span>−</span></div>
<div class="t eq" style="left:1460.7px;top:793.87px;letter-spacing:0.222px;"><span>0.0019 cos<sup>6</sup> <i>θ</i> − <i>M<sub>c</sub></i><span style="font-size:125%">(</span>0.0349 sin<sup>2</sup>(2<i>θ</i>)</span></div>
<div class="t" style="left:1778.0px;top:793.87px;transform:translateX(-100%);letter-spacing:0.3px">(20)</div>
<div class="t eq" style="left:1440.0px;top:818.57px;letter-spacing:0.570px;"><span>+</span></div>
<div class="t eq" style="left:1460.7px;top:818.57px;letter-spacing:0.399px;"><span>0.0054 cos<sup>4</sup>(<i>θ</i>) + 0.0156<i>M<sub>c</sub></i> cos<sup>2</sup> <i>θ</i> + 0.0343<i>M</i><span class="ss"><span class="up">2</span><span class="dn"><i>c</i></span></span><span style="font-size:125%">)</span> ,</span></div>
<div class="t eq" style="left:1414.4px;top:847.87px;letter-spacing:0.570px;"><span><i>B</i><sub>1</sub></span></div>
<div class="t eq" style="left:1440.0px;top:847.87px;letter-spacing:0.570px;"><span>=</span></div>
<div class="t eq" style="left:1460.7px;top:847.87px;letter-spacing:0.536px;"><span>−1.204<i>M<sub>c</sub></i> − <span class="fr "><span class="n">1</span><span class="d">16</span></span> cos<sup>2</sup> <i>θ</i>,</span></div>
<div class="t" style="left:1778.0px;top:847.87px;transform:translateX(-100%);letter-spacing:0.3px">(21)</div>
<div class="t eq" style="left:1414.4px;top:885.87px;letter-spacing:0.570px;"><span><i>M<sub>c</sub></i></span></div>
<div class="t eq" style="left:1440.0px;top:885.87px;letter-spacing:0.570px;"><span>=</span></div>
<div class="t eq" style="left:1460.7px;top:885.87px;letter-spacing:0.930px;"><span><span class="fr "><span class="n">3</span><span class="d">2</span></span> sin<sup>2</sup>(<i>θ</i>) − <span class="fr "><span class="n">1</span><span class="d">2</span></span>,; <span class="fr "><span class="n"><i>a</i></span><span class="d">4<i>d</i></span></span> = exp <span class="bigp">(</span><span class="fr "><span class="n">(1 + <i>UB</i><sub>1</sub>)</span><span class="d"><i>U</i><sup>2</sup>(<i>A</i><sub>0</sub> + <i>UA</i><sub>1</sub>)</span></span><span class="bigp">)</span>(22)</span></div>
<div class="t j" style="left:1408.0px;top:924.57px;width:371.0px;letter-spacing:0.570px;"><span>Here <i>a</i> is the scattering length which is a function of</span></div>
<div class="t j" style="left:1408.0px;top:942.82px;width:371.0px;letter-spacing:0.570px;"><span>the strength and the polarization angle [20].&nbsp;&nbsp; The en-</span></div>
<div class="t j" style="left:1408.0px;top:961.07px;width:371.0px;letter-spacing:0.460px;"><span>ergy very close to threshold is exponential in <i>U</i><sup>2</sup>, as seen</span></div>
<div class="t j" style="left:1408.0px;top:979.32px;width:371.0px;letter-spacing:0.570px;"><span>in Eq. (14), and determined by the polarization angle</span></div>
<div class="t j" style="left:1408.0px;top:997.57px;width:371.0px;letter-spacing:0.570px;"><span>through <i>A</i><sub>0</sub>.&nbsp; The first order terms, (<i>A</i><sub>1</sub><i>, B</i><sub>1</sub>), in <i>U</i> ex-</span></div>
<div class="t j" style="left:1408.0px;top:1015.82px;width:371.0px;letter-spacing:0.570px;"><span>hibit the difference in approach to threshold for the dif-</span></div>
<div class="t j" style="left:1408.0px;top:1034.07px;width:371.0px;letter-spacing:0.570px;"><span>ferent signs of the strength, <i>U</i>. The second order terms,</span></div>
<div class="t j" style="left:1408.0px;top:1052.32px;width:371.0px;letter-spacing:0.570px;"><span>(<i>A</i><sub>2</sub><i>, B</i><sub>2</sub>), are necessary to get the correct <i>U</i>-independent</span></div>
<div class="t j" style="left:1408.0px;top:1070.57px;width:371.0px;letter-spacing:0.570px;"><span>pre-exponential factor in the energy.&nbsp; These higher or-</span></div>
<div class="t j" style="left:1408.0px;top:1088.82px;width:371.0px;letter-spacing:0.570px;"><span>der terms are sums of a large number of contributions</span></div>
<div class="t" style="left:2705.0px;top:50.87px;transform:translateX(-100%);letter-spacing:0.3px">3</div>
<svg style="left:0;top:0" width="4635" height="1200" viewBox="0 0 4635 1200"><line x1="2003.7" y1="197.06" x2="2294.6" y2="197.06" stroke="#b0b0b0" stroke-width="0.8" stroke-dasharray="1,2"/><line x1="2149.15" y1="117.0" x2="2149.15" y2="223.75" stroke="#b0b0b0" stroke-width="0.8" stroke-dasharray="1,2"/><line x1="2003.7" y1="217.08" x2="2008.2" y2="217.08" stroke="#2a2a2a" stroke-width="1"/><line x1="2294.6" y1="217.08" x2="2290.1" y2="217.08" stroke="#2a2a2a" stroke-width="1"/><text x="1996.20" y="221.28" text-anchor="end" style="font-size:13.5px;font-family:'Liberation Serif',serif;letter-spacing:0.5px;" fill="#222">-30</text><line x1="2003.7" y1="210.41" x2="2006.2" y2="210.41" stroke="#2a2a2a" stroke-width="1"/><line x1="2294.6" y1="210.41" x2="2292.1" y2="210.41" stroke="#2a2a2a" stroke-width="1"/><line x1="2003.7" y1="203.73" x2="2006.2" y2="203.73" stroke="#2a2a2a" stroke-width="1"/><line x1="2294.6" y1="203.73" x2="2292.1" y2="203.73" stroke="#2a2a2a" stroke-width="1"/><line x1="2003.7" y1="197.06" x2="2008.2" y2="197.06" stroke="#2a2a2a" stroke-width="1"/><line x1="2294.6" y1="197.06" x2="2290.1" y2="197.06" stroke="#2a2a2a" stroke-width="1"/><text x="1996.20" y="201.26" text-anchor="end" style="font-size:13.5px;font-family:'Liberation Serif',serif;letter-spacing:0.5px;" fill="#222">0</text><line x1="2003.7" y1="190.39" x2="2006.2" y2="190.39" stroke="#2a2a2a" stroke-width="1"/><line x1="2294.6" y1="190.39" x2="2292.1" y2="190.39" stroke="#2a2a2a" stroke-width="1"/><line x1="2003.7" y1="183.72" x2="2006.2" y2="183.72" stroke="#2a2a2a" stroke-width="1"/><line x1="2294.6" y1="183.72" x2="2292.1" y2="183.72" stroke="#2a2a2a" stroke-width="1"/><line x1="2003.7" y1="177.05" x2="2008.2" y2="177.05" stroke="#2a2a2a" stroke-width="1"/><line x1="2294.6" y1="177.05" x2="2290.1" y2="177.05" stroke="#2a2a2a" stroke-width="1"/><text x="1996.20" y="181.25" text-anchor="end" style="font-size:13.5px;font-family:'Liberation Serif',serif;letter-spacing:0.5px;" fill="#222">30</text><line x1="2003.7" y1="170.38" x2="2006.2" y2="170.38" stroke="#2a2a2a" stroke-width="1"/><line x1="2294.6" y1="170.38" x2="2292.1" y2="170.38" stroke="#2a2a2a" stroke-width="1"/><line x1="2003.7" y1="163.70" x2="2006.2" y2="163.70" stroke="#2a2a2a" stroke-width="1"/><line x1="2294.6" y1="163.70" x2="2292.1" y2="163.70" stroke="#2a2a2a" stroke-width="1"/><line x1="2003.7" y1="157.03" x2="2008.2" y2="157.03" stroke="#2a2a2a" stroke-width="1"/><line x1="2294.6" y1="157.03" x2="2290.1" y2="157.03" stroke="#2a2a2a" stroke-width="1"/><text x="1996.20" y="161.23" text-anchor="end" style="font-size:13.5px;font-family:'Liberation Serif',serif;letter-spacing:0.5px;" fill="#222">60</text><line x1="2003.7" y1="150.36" x2="2006.2" y2="150.36" stroke="#2a2a2a" stroke-width="1"/><line x1="2294.6" y1="150.36" x2="2292.1" y2="150.36" stroke="#2a2a2a" stroke-width="1"/><line x1="2003.7" y1="143.69" x2="2006.2" y2="143.69" stroke="#2a2a2a" stroke-width="1"/><line x1="2294.6" y1="143.69" x2="2292.1" y2="143.69" stroke="#2a2a2a" stroke-width="1"/><line x1="2003.7" y1="137.02" x2="2008.2" y2="137.02" stroke="#2a2a2a" stroke-width="1"/><line x1="2294.6" y1="137.02" x2="2290.1" y2="137.02" stroke="#2a2a2a" stroke-width="1"/><text x="1996.20" y="141.22" text-anchor="end" style="font-size:13.5px;font-family:'Liberation Serif',serif;letter-spacing:0.5px;" fill="#222">90</text><line x1="2003.7" y1="130.34" x2="2006.2" y2="130.34" stroke="#2a2a2a" stroke-width="1"/><line x1="2294.6" y1="130.34" x2="2292.1" y2="130.34" stroke="#2a2a2a" stroke-width="1"/><line x1="2003.7" y1="123.67" x2="2006.2" y2="123.67" stroke="#2a2a2a" stroke-width="1"/><line x1="2294.6" y1="123.67" x2="2292.1" y2="123.67" stroke="#2a2a2a" stroke-width="1"/><path d="M2003.70,120.00 L2006.34,121.77 L2008.98,123.53 L2011.63,125.28 L2014.27,127.02 L2016.91,128.76 L2019.55,130.48 L2022.20,132.20 L2024.84,133.91 L2027.48,135.62 L2030.12,137.31 L2032.77,139.00 L2035.41,140.68 L2038.05,142.35 L2040.69,144.02 L2043.34,145.67 L2045.98,147.32 L2048.62,148.96 L2051.26,150.60 L2053.90,152.22 L2056.55,153.84 L2059.19,155.45 L2061.83,157.05 L2064.47,158.64 L2067.12,160.23 L2069.76,161.80 L2072.40,163.37 L2075.04,164.94 L2077.69,166.49 L2080.33,168.04 L2082.97,169.57" fill="none" stroke="#d42a2a" stroke-width="1.4" stroke-dasharray="1.2,2.2"/><path d="M2173.15,194.53 L2177.20,194.19 L2181.25,193.87 L2185.29,193.57 L2189.34,193.28 L2193.39,193.02 L2197.44,192.77 L2201.49,192.55 L2205.54,192.34 L2209.58,192.15 L2213.63,191.97 L2217.68,191.82 L2221.73,191.68 L2225.78,191.57 L2229.83,191.47 L2233.87,191.39 L2237.92,191.33 L2241.97,191.28 L2246.02,191.26 L2250.07,191.25 L2254.12,191.26 L2258.16,191.29 L2262.21,191.34 L2266.26,191.41 L2270.31,191.49 L2274.36,191.60 L2278.41,191.72 L2282.45,191.86 L2286.50,192.02 L2290.55,192.20 L2294.60,192.39" fill="none" stroke="#d42a2a" stroke-width="1.4" stroke-dasharray="3,2"/><path d="M2112.79,186.41 L2115.21,186.75 L2117.64,187.08 L2120.06,187.42 L2122.48,187.77 L2124.91,188.11 L2127.33,188.46 L2129.76,188.81 L2132.18,189.16 L2134.61,189.52 L2137.03,189.88 L2139.45,190.24 L2141.88,190.60 L2144.30,190.97 L2146.73,191.35 L2149.15,191.72 L2151.57,192.11 L2154.00,192.49 L2156.42,192.88 L2158.85,193.28 L2161.27,193.68 L2163.70,194.09 L2166.12,194.50 L2168.54,194.91 L2170.97,195.34 L2173.39,195.77 L2175.82,196.20 L2178.24,196.64 L2180.66,197.09 L2183.09,197.55 L2185.51,198.02" fill="none" stroke="#2828c8" stroke-width="1.5"/><line x1="2003.7" y1="303.81" x2="2294.6" y2="303.81" stroke="#b0b0b0" stroke-width="0.8" stroke-dasharray="1,2"/><line x1="2149.15" y1="223.75" x2="2149.15" y2="330.5" stroke="#b0b0b0" stroke-width="0.8" stroke-dasharray="1,2"/><line x1="2003.7" y1="323.83" x2="2008.2" y2="323.83" stroke="#2a2a2a" stroke-width="1"/><line x1="2294.6" y1="323.83" x2="2290.1" y2="323.83" stroke="#2a2a2a" stroke-width="1"/><text x="1996.20" y="328.03" text-anchor="end" style="font-size:13.5px;font-family:'Liberation Serif',serif;letter-spacing:0.5px;" fill="#222">-30</text><line x1="2003.7" y1="317.16" x2="2006.2" y2="317.16" stroke="#2a2a2a" stroke-width="1"/><line x1="2294.6" y1="317.16" x2="2292.1" y2="317.16" stroke="#2a2a2a" stroke-width="1"/><line x1="2003.7" y1="310.48" x2="2006.2" y2="310.48" stroke="#2a2a2a" stroke-width="1"/><line x1="2294.6" y1="310.48" x2="2292.1" y2="310.48" stroke="#2a2a2a" stroke-width="1"/><line x1="2003.7" y1="303.81" x2="2008.2" y2="303.81" stroke="#2a2a2a" stroke-width="1"/><line x1="2294.6" y1="303.81" x2="2290.1" y2="303.81" stroke="#2a2a2a" stroke-width="1"/><text x="1996.20" y="308.01" text-anchor="end" style="font-size:13.5px;font-family:'Liberation Serif',serif;letter-spacing:0.5px;" fill="#222">0</text><line x1="2003.7" y1="297.14" x2="2006.2" y2="297.14" stroke="#2a2a2a" stroke-width="1"/><line x1="2294.6" y1="297.14" x2="2292.1" y2="297.14" stroke="#2a2a2a" stroke-width="1"/><line x1="2003.7" y1="290.47" x2="2006.2" y2="290.47" stroke="#2a2a2a" stroke-width="1"/><line x1="2294.6" y1="290.47" x2="2292.1" y2="290.47" stroke="#2a2a2a" stroke-width="1"/><line x1="2003.7" y1="283.80" x2="2008.2" y2="283.80" stroke="#2a2a2a" stroke-width="1"/><line x1="2294.6" y1="283.80" x2="2290.1" y2="283.80" stroke="#2a2a2a" stroke-width="1"/><text x="1996.20" y="288.00" text-anchor="end" style="font-size:13.5px;font-family:'Liberation Serif',serif;letter-spacing:0.5px;" fill="#222">30</text><line x1="2003.7" y1="277.12" x2="2006.2" y2="277.12" stroke="#2a2a2a" stroke-width="1"/><line x1="2294.6" y1="277.12" x2="2292.1" y2="277.12" stroke="#2a2a2a" stroke-width="1"/><line x1="2003.7" y1="270.45" x2="2006.2" y2="270.45" stroke="#2a2a2a" stroke-width="1"/><line x1="2294.6" y1="270.45" x2="2292.1" y2="270.45" stroke="#2a2a2a" stroke-width="1"/><line x1="2003.7" y1="263.78" x2="2008.2" y2="263.78" stroke="#2a2a2a" stroke-width="1"/><line x1="2294.6" y1="263.78" x2="2290.1" y2="263.78" stroke="#2a2a2a" stroke-width="1"/><text x="1996.20" y="267.98" text-anchor="end" style="font-size:13.5px;font-family:'Liberation Serif',serif;letter-spacing:0.5px;" fill="#222">60</text><line x1="2003.7" y1="257.11" x2="2006.2" y2="257.11" stroke="#2a2a2a" stroke-width="1"/><line x1="2294.6" y1="257.11" x2="2292.1" y2="257.11" stroke="#2a2a2a" stroke-width="1"/><line x1="2003.7" y1="250.44" x2="2006.2" y2="250.44" stroke="#2a2a2a" stroke-width="1"/><line x1="2294.6" y1="250.44" x2="2292.1" y2="250.44" stroke="#2a2a2a" stroke-width="1"/><line x1="2003.7" y1="243.77" x2="2008.2" y2="243.77" stroke="#2a2a2a" stroke-width="1"/><line x1="2294.6" y1="243.77" x2="2290.1" y2="243.77" stroke="#2a2a2a" stroke-width="1"/><text x="1996.20" y="247.97" text-anchor="end" style="font-size:13.5px;font-family:'Liberation Serif',serif;letter-spacing:0.5px;" fill="#222">90</text><line x1="2003.7" y1="237.09" x2="2006.2" y2="237.09" stroke="#2a2a2a" stroke-width="1"/><line x1="2294.6" y1="237.09" x2="2292.1" y2="237.09" stroke="#2a2a2a" stroke-width="1"/><line x1="2003.7" y1="230.42" x2="2006.2" y2="230.42" stroke="#2a2a2a" stroke-width="1"/><line x1="2294.6" y1="230.42" x2="2292.1" y2="230.42" stroke="#2a2a2a" stroke-width="1"/><path d="M2003.70,260.58 L2006.34,261.34 L2008.98,262.11 L2011.63,262.87 L2014.27,263.62 L2016.91,264.37 L2019.55,265.12 L2022.20,265.86 L2024.84,266.60 L2027.48,267.34 L2030.12,268.08 L2032.77,268.81 L2035.41,269.53 L2038.05,270.25 L2040.69,270.97 L2043.34,271.69 L2045.98,272.40 L2048.62,273.11 L2051.26,273.81 L2053.90,274.52 L2056.55,275.21 L2059.19,275.91 L2061.83,276.60 L2064.47,277.29 L2067.12,277.97 L2069.76,278.65 L2072.40,279.33 L2075.04,280.00 L2077.69,280.67 L2080.33,281.33 L2082.97,282.00" fill="none" stroke="#d42a2a" stroke-width="1.4" stroke-dasharray="1.2,2.2"/><path d="M2181.88,298.48 L2185.63,298.11 L2189.39,297.76 L2193.15,297.44 L2196.91,297.12 L2200.66,296.83 L2204.42,296.55 L2208.18,296.29 L2211.94,296.05 L2215.69,295.83 L2219.45,295.62 L2223.21,295.44 L2226.97,295.27 L2230.72,295.11 L2234.48,294.98 L2238.24,294.86 L2242.00,294.76 L2245.75,294.68 L2249.51,294.61 L2253.27,294.56 L2257.03,294.53 L2260.78,294.52 L2264.54,294.53 L2268.30,294.55 L2272.06,294.59 L2275.81,294.65 L2279.57,294.73 L2283.33,294.82 L2287.09,294.93 L2290.84,295.06 L2294.60,295.21" fill="none" stroke="#d42a2a" stroke-width="1.4" stroke-dasharray="3,2"/><path d="M2112.79,292.53 L2115.21,292.78 L2117.64,293.02 L2120.06,293.27 L2122.48,293.52 L2124.91,293.77 L2127.33,294.01 L2129.76,294.26 L2132.18,294.51 L2134.61,294.76 L2137.03,295.01 L2139.45,295.26 L2141.88,295.52 L2144.30,295.77 L2146.73,296.02 L2149.15,296.28 L2151.57,296.53 L2154.00,296.79 L2156.42,297.05 L2158.85,297.31 L2161.27,297.57 L2163.70,297.83 L2166.12,298.10 L2168.54,298.37 L2170.97,298.63 L2173.39,298.91 L2175.82,299.18 L2178.24,299.45 L2180.66,299.73 L2183.09,300.01 L2185.51,300.30" fill="none" stroke="#2828c8" stroke-width="1.5"/><line x1="2003.7" y1="410.56" x2="2294.6" y2="410.56" stroke="#b0b0b0" stroke-width="0.8" stroke-dasharray="1,2"/><line x1="2149.15" y1="330.5" x2="2149.15" y2="437.25" stroke="#b0b0b0" stroke-width="0.8" stroke-dasharray="1,2"/><line x1="2003.7" y1="430.58" x2="2008.2" y2="430.58" stroke="#2a2a2a" stroke-width="1"/><line x1="2294.6" y1="430.58" x2="2290.1" y2="430.58" stroke="#2a2a2a" stroke-width="1"/><text x="1996.20" y="434.78" text-anchor="end" style="font-size:13.5px;font-family:'Liberation Serif',serif;letter-spacing:0.5px;" fill="#222">-30</text><line x1="2003.7" y1="423.91" x2="2006.2" y2="423.91" stroke="#2a2a2a" stroke-width="1"/><line x1="2294.6" y1="423.91" x2="2292.1" y2="423.91" stroke="#2a2a2a" stroke-width="1"/><line x1="2003.7" y1="417.23" x2="2006.2" y2="417.23" stroke="#2a2a2a" stroke-width="1"/><line x1="2294.6" y1="417.23" x2="2292.1" y2="417.23" stroke="#2a2a2a" stroke-width="1"/><line x1="2003.7" y1="410.56" x2="2008.2" y2="410.56" stroke="#2a2a2a" stroke-width="1"/><line x1="2294.6" y1="410.56" x2="2290.1" y2="410.56" stroke="#2a2a2a" stroke-width="1"/><text x="1996.20" y="414.76" text-anchor="end" style="font-size:13.5px;font-family:'Liberation Serif',serif;letter-spacing:0.5px;" fill="#222">0</text><line x1="2003.7" y1="403.89" x2="2006.2" y2="403.89" stroke="#2a2a2a" stroke-width="1"/><line x1="2294.6" y1="403.89" x2="2292.1" y2="403.89" stroke="#2a2a2a" stroke-width="1"/><line x1="2003.7" y1="397.22" x2="2006.2" y2="397.22" stroke="#2a2a2a" stroke-width="1"/><line x1="2294.6" y1="397.22" x2="2292.1" y2="397.22" stroke="#2a2a2a" stroke-width="1"/><line x1="2003.7" y1="390.55" x2="2008.2" y2="390.55" stroke="#2a2a2a" stroke-width="1"/><line x1="2294.6" y1="390.55" x2="2290.1" y2="390.55" stroke="#2a2a2a" stroke-width="1"/><text x="1996.20" y="394.75" text-anchor="end" style="font-size:13.5px;font-family:'Liberation Serif',serif;letter-spacing:0.5px;" fill="#222">30</text><line x1="2003.7" y1="383.88" x2="2006.2" y2="383.88" stroke="#2a2a2a" stroke-width="1"/><line x1="2294.6" y1="383.88" x2="2292.1" y2="383.88" stroke="#2a2a2a" stroke-width="1"/><line x1="2003.7" y1="377.20" x2="2006.2" y2="377.20" stroke="#2a2a2a" stroke-width="1"/><line x1="2294.6" y1="377.20" x2="2292.1" y2="377.20" stroke="#2a2a2a" stroke-width="1"/><line x1="2003.7" y1="370.53" x2="2008.2" y2="370.53" stroke="#2a2a2a" stroke-width="1"/><line x1="2294.6" y1="370.53" x2="2290.1" y2="370.53" stroke="#2a2a2a" stroke-width="1"/><text x="1996.20" y="374.73" text-anchor="end" style="font-size:13.5px;font-family:'Liberation Serif',serif;letter-spacing:0.5px;" fill="#222">60</text><line x1="2003.7" y1="363.86" x2="2006.2" y2="363.86" stroke="#2a2a2a" stroke-width="1"/><line x1="2294.6" y1="363.86" x2="2292.1" y2="363.86" stroke="#2a2a2a" stroke-width="1"/><line x1="2003.7" y1="357.19" x2="2006.2" y2="357.19" stroke="#2a2a2a" stroke-width="1"/><line x1="2294.6" y1="357.19" x2="2292.1" y2="357.19" stroke="#2a2a2a" stroke-width="1"/><line x1="2003.7" y1="350.52" x2="2008.2" y2="350.52" stroke="#2a2a2a" stroke-width="1"/><line x1="2294.6" y1="350.52" x2="2290.1" y2="350.52" stroke="#2a2a2a" stroke-width="1"/><text x="1996.20" y="354.72" text-anchor="end" style="font-size:13.5px;font-family:'Liberation Serif',serif;letter-spacing:0.5px;" fill="#222">90</text><line x1="2003.7" y1="343.84" x2="2006.2" y2="343.84" stroke="#2a2a2a" stroke-width="1"/><line x1="2294.6" y1="343.84" x2="2292.1" y2="343.84" stroke="#2a2a2a" stroke-width="1"/><line x1="2003.7" y1="337.17" x2="2006.2" y2="337.17" stroke="#2a2a2a" stroke-width="1"/><line x1="2294.6" y1="337.17" x2="2292.1" y2="337.17" stroke="#2a2a2a" stroke-width="1"/><path d="M2003.70,376.20 L2007.09,376.94 L2010.49,377.67 L2013.88,378.39 L2017.28,379.11 L2020.67,379.82 L2024.06,380.52 L2027.46,381.22 L2030.85,381.91 L2034.24,382.59 L2037.64,383.27 L2041.03,383.94 L2044.43,384.60 L2047.82,385.25 L2051.21,385.90 L2054.61,386.54 L2058.00,387.18 L2061.40,387.81 L2064.79,388.43 L2068.18,389.04 L2071.58,389.65 L2074.97,390.25 L2078.36,390.84 L2081.76,391.43 L2085.15,392.01 L2088.55,392.59 L2091.94,393.15 L2095.33,393.71 L2098.73,394.27 L2102.12,394.81 L2105.51,395.35" fill="none" stroke="#d42a2a" stroke-width="1.4" stroke-dasharray="1.2,2.2"/><path d="M2188.42,403.36 L2191.96,403.02 L2195.50,402.70 L2199.04,402.38 L2202.58,402.07 L2206.12,401.76 L2209.66,401.47 L2213.20,401.18 L2216.74,400.89 L2220.28,400.62 L2223.81,400.35 L2227.35,400.09 L2230.89,399.84 L2234.43,399.59 L2237.97,399.36 L2241.51,399.13 L2245.05,398.90 L2248.59,398.69 L2252.13,398.48 L2255.67,398.28 L2259.21,398.08 L2262.75,397.90 L2266.29,397.72 L2269.83,397.55 L2273.36,397.38 L2276.90,397.23 L2280.44,397.08 L2283.98,396.93 L2287.52,396.80 L2291.06,396.67 L2294.60,396.55" fill="none" stroke="#d42a2a" stroke-width="1.4" stroke-dasharray="3,2"/><path d="M2112.79,398.93 L2115.21,399.11 L2117.64,399.30 L2120.06,399.49 L2122.48,399.67 L2124.91,399.85 L2127.33,400.03 L2129.76,400.21 L2132.18,400.38 L2134.61,400.56 L2137.03,400.73 L2139.45,400.90 L2141.88,401.07 L2144.30,401.24 L2146.73,401.41 L2149.15,401.57 L2151.57,401.74 L2154.00,401.90 L2156.42,402.06 L2158.85,402.22 L2161.27,402.38 L2163.70,402.54 L2166.12,402.69 L2168.54,402.85 L2170.97,403.00 L2173.39,403.15 L2175.82,403.30 L2178.24,403.45 L2180.66,403.60 L2183.09,403.74 L2185.51,403.89" fill="none" stroke="#2828c8" stroke-width="1.5"/><line x1="2003.7" y1="517.31" x2="2294.6" y2="517.31" stroke="#b0b0b0" stroke-width="0.8" stroke-dasharray="1,2"/><line x1="2149.15" y1="437.25" x2="2149.15" y2="544.0" stroke="#b0b0b0" stroke-width="0.8" stroke-dasharray="1,2"/><line x1="2003.7" y1="537.33" x2="2008.2" y2="537.33" stroke="#2a2a2a" stroke-width="1"/><line x1="2294.6" y1="537.33" x2="2290.1" y2="537.33" stroke="#2a2a2a" stroke-width="1"/><text x="1996.20" y="541.53" text-anchor="end" style="font-size:13.5px;font-family:'Liberation Serif',serif;letter-spacing:0.5px;" fill="#222">-30</text><line x1="2003.7" y1="530.66" x2="2006.2" y2="530.66" stroke="#2a2a2a" stroke-width="1"/><line x1="2294.6" y1="530.66" x2="2292.1" y2="530.66" stroke="#2a2a2a" stroke-width="1"/><line x1="2003.7" y1="523.98" x2="2006.2" y2="523.98" stroke="#2a2a2a" stroke-width="1"/><line x1="2294.6" y1="523.98" x2="2292.1" y2="523.98" stroke="#2a2a2a" stroke-width="1"/><line x1="2003.7" y1="517.31" x2="2008.2" y2="517.31" stroke="#2a2a2a" stroke-width="1"/><line x1="2294.6" y1="517.31" x2="2290.1" y2="517.31" stroke="#2a2a2a" stroke-width="1"/><text x="1996.20" y="521.51" text-anchor="end" style="font-size:13.5px;font-family:'Liberation Serif',serif;letter-spacing:0.5px;" fill="#222">0</text><line x1="2003.7" y1="510.64" x2="2006.2" y2="510.64" stroke="#2a2a2a" stroke-width="1"/><line x1="2294.6" y1="510.64" x2="2292.1" y2="510.64" stroke="#2a2a2a" stroke-width="1"/><line x1="2003.7" y1="503.97" x2="2006.2" y2="503.97" stroke="#2a2a2a" stroke-width="1"/><line x1="2294.6" y1="503.97" x2="2292.1" y2="503.97" stroke="#2a2a2a" stroke-width="1"/><line x1="2003.7" y1="497.30" x2="2008.2" y2="497.30" stroke="#2a2a2a" stroke-width="1"/><line x1="2294.6" y1="497.30" x2="2290.1" y2="497.30" stroke="#2a2a2a" stroke-width="1"/><text x="1996.20" y="501.50" text-anchor="end" style="font-size:13.5px;font-family:'Liberation Serif',serif;letter-spacing:0.5px;" fill="#222">30</text><line x1="2003.7" y1="490.62" x2="2006.2" y2="490.62" stroke="#2a2a2a" stroke-width="1"/><line x1="2294.6" y1="490.62" x2="2292.1" y2="490.62" stroke="#2a2a2a" stroke-width="1"/><line x1="2003.7" y1="483.95" x2="2006.2" y2="483.95" stroke="#2a2a2a" stroke-width="1"/><line x1="2294.6" y1="483.95" x2="2292.1" y2="483.95" stroke="#2a2a2a" stroke-width="1"/><line x1="2003.7" y1="477.28" x2="2008.2" y2="477.28" stroke="#2a2a2a" stroke-width="1"/><line x1="2294.6" y1="477.28" x2="2290.1" y2="477.28" stroke="#2a2a2a" stroke-width="1"/><text x="1996.20" y="481.48" text-anchor="end" style="font-size:13.5px;font-family:'Liberation Serif',serif;letter-spacing:0.5px;" fill="#222">60</text><line x1="2003.7" y1="470.61" x2="2006.2" y2="470.61" stroke="#2a2a2a" stroke-width="1"/><line x1="2294.6" y1="470.61" x2="2292.1" y2="470.61" stroke="#2a2a2a" stroke-width="1"/><line x1="2003.7" y1="463.94" x2="2006.2" y2="463.94" stroke="#2a2a2a" stroke-width="1"/><line x1="2294.6" y1="463.94" x2="2292.1" y2="463.94" stroke="#2a2a2a" stroke-width="1"/><line x1="2003.7" y1="457.27" x2="2008.2" y2="457.27" stroke="#2a2a2a" stroke-width="1"/><line x1="2294.6" y1="457.27" x2="2290.1" y2="457.27" stroke="#2a2a2a" stroke-width="1"/><text x="1996.20" y="461.47" text-anchor="end" style="font-size:13.5px;font-family:'Liberation Serif',serif;letter-spacing:0.5px;" fill="#222">90</text><line x1="2003.7" y1="450.59" x2="2006.2" y2="450.59" stroke="#2a2a2a" stroke-width="1"/><line x1="2294.6" y1="450.59" x2="2292.1" y2="450.59" stroke="#2a2a2a" stroke-width="1"/><line x1="2003.7" y1="443.92" x2="2006.2" y2="443.92" stroke="#2a2a2a" stroke-width="1"/><line x1="2294.6" y1="443.92" x2="2292.1" y2="443.92" stroke="#2a2a2a" stroke-width="1"/><path d="M2003.70,489.09 L2006.73,489.63 L2009.76,490.17 L2012.79,490.71 L2015.82,491.23 L2018.85,491.75 L2021.88,492.27 L2024.91,492.77 L2027.94,493.28 L2030.97,493.77 L2034.00,494.26 L2037.03,494.75 L2040.06,495.23 L2043.09,495.70 L2046.12,496.17 L2049.15,496.63 L2052.18,497.08 L2055.21,497.53 L2058.24,497.98 L2061.27,498.41 L2064.30,498.85 L2067.33,499.27 L2070.36,499.69 L2073.39,500.10 L2076.43,500.51 L2079.46,500.91 L2082.49,501.31 L2085.52,501.70 L2088.55,502.08 L2091.58,502.46 L2094.61,502.83" fill="none" stroke="#d42a2a" stroke-width="1.4" stroke-dasharray="1.2,2.2"/><path d="M2200.06,506.10 L2203.21,505.80 L2206.36,505.49 L2209.51,505.19 L2212.66,504.89 L2215.81,504.58 L2218.97,504.28 L2222.12,503.98 L2225.27,503.69 L2228.42,503.39 L2231.57,503.09 L2234.72,502.80 L2237.87,502.51 L2241.03,502.21 L2244.18,501.92 L2247.33,501.63 L2250.48,501.35 L2253.63,501.06 L2256.78,500.77 L2259.93,500.49 L2263.09,500.20 L2266.24,499.92 L2269.39,499.64 L2272.54,499.36 L2275.69,499.08 L2278.84,498.80 L2281.99,498.53 L2285.15,498.25 L2288.30,497.98 L2291.45,497.70 L2294.60,497.43" fill="none" stroke="#d42a2a" stroke-width="1.4" stroke-dasharray="3,2"/><path d="M2112.79,505.78 L2115.21,505.85 L2117.64,505.93 L2120.06,506.00 L2122.48,506.07 L2124.91,506.13 L2127.33,506.20 L2129.76,506.26 L2132.18,506.31 L2134.61,506.37 L2137.03,506.42 L2139.45,506.47 L2141.88,506.52 L2144.30,506.56 L2146.73,506.60 L2149.15,506.64 L2151.57,506.67 L2154.00,506.70 L2156.42,506.73 L2158.85,506.76 L2161.27,506.79 L2163.70,506.81 L2166.12,506.82 L2168.54,506.84 L2170.97,506.85 L2173.39,506.86 L2175.82,506.87 L2178.24,506.87 L2180.66,506.88 L2183.09,506.88 L2185.51,506.87" fill="none" stroke="#2828c8" stroke-width="1.5"/><line x1="2003.7" y1="624.06" x2="2294.6" y2="624.06" stroke="#b0b0b0" stroke-width="0.8" stroke-dasharray="1,2"/><line x1="2149.15" y1="544.0" x2="2149.15" y2="650.75" stroke="#b0b0b0" stroke-width="0.8" stroke-dasharray="1,2"/><line x1="2003.7" y1="644.08" x2="2008.2" y2="644.08" stroke="#2a2a2a" stroke-width="1"/><line x1="2294.6" y1="644.08" x2="2290.1" y2="644.08" stroke="#2a2a2a" stroke-width="1"/><text x="1996.20" y="648.28" text-anchor="end" style="font-size:13.5px;font-family:'Liberation Serif',serif;letter-spacing:0.5px;" fill="#222">-30</text><line x1="2003.7" y1="637.41" x2="2006.2" y2="637.41" stroke="#2a2a2a" stroke-width="1"/><line x1="2294.6" y1="637.41" x2="2292.1" y2="637.41" stroke="#2a2a2a" stroke-width="1"/><line x1="2003.7" y1="630.73" x2="2006.2" y2="630.73" stroke="#2a2a2a" stroke-width="1"/><line x1="2294.6" y1="630.73" x2="2292.1" y2="630.73" stroke="#2a2a2a" stroke-width="1"/><line x1="2003.7" y1="624.06" x2="2008.2" y2="624.06" stroke="#2a2a2a" stroke-width="1"/><line x1="2294.6" y1="624.06" x2="2290.1" y2="624.06" stroke="#2a2a2a" stroke-width="1"/><text x="1996.20" y="628.26" text-anchor="end" style="font-size:13.5px;font-family:'Liberation Serif',serif;letter-spacing:0.5px;" fill="#222">0</text><line x1="2003.7" y1="617.39" x2="2006.2" y2="617.39" stroke="#2a2a2a" stroke-width="1"/><line x1="2294.6" y1="617.39" x2="2292.1" y2="617.39" stroke="#2a2a2a" stroke-width="1"/><line x1="2003.7" y1="610.72" x2="2006.2" y2="610.72" stroke="#2a2a2a" stroke-width="1"/><line x1="2294.6" y1="610.72" x2="2292.1" y2="610.72" stroke="#2a2a2a" stroke-width="1"/><line x1="2003.7" y1="604.05" x2="2008.2" y2="604.05" stroke="#2a2a2a" stroke-width="1"/><line x1="2294.6" y1="604.05" x2="2290.1" y2="604.05" stroke="#2a2a2a" stroke-width="1"/><text x="1996.20" y="608.25" text-anchor="end" style="font-size:13.5px;font-family:'Liberation Serif',serif;letter-spacing:0.5px;" fill="#222">30</text><line x1="2003.7" y1="597.38" x2="2006.2" y2="597.38" stroke="#2a2a2a" stroke-width="1"/><line x1="2294.6" y1="597.38" x2="2292.1" y2="597.38" stroke="#2a2a2a" stroke-width="1"/><line x1="2003.7" y1="590.70" x2="2006.2" y2="590.70" stroke="#2a2a2a" stroke-width="1"/><line x1="2294.6" y1="590.70" x2="2292.1" y2="590.70" stroke="#2a2a2a" stroke-width="1"/><line x1="2003.7" y1="584.03" x2="2008.2" y2="584.03" stroke="#2a2a2a" stroke-width="1"/><line x1="2294.6" y1="584.03" x2="2290.1" y2="584.03" stroke="#2a2a2a" stroke-width="1"/><text x="1996.20" y="588.23" text-anchor="end" style="font-size:13.5px;font-family:'Liberation Serif',serif;letter-spacing:0.5px;" fill="#222">60</text><line x1="2003.7" y1="577.36" x2="2006.2" y2="577.36" stroke="#2a2a2a" stroke-width="1"/><line x1="2294.6" y1="577.36" x2="2292.1" y2="577.36" stroke="#2a2a2a" stroke-width="1"/><line x1="2003.7" y1="570.69" x2="2006.2" y2="570.69" stroke="#2a2a2a" stroke-width="1"/><line x1="2294.6" y1="570.69" x2="2292.1" y2="570.69" stroke="#2a2a2a" stroke-width="1"/><line x1="2003.7" y1="564.02" x2="2008.2" y2="564.02" stroke="#2a2a2a" stroke-width="1"/><line x1="2294.6" y1="564.02" x2="2290.1" y2="564.02" stroke="#2a2a2a" stroke-width="1"/><text x="1996.20" y="568.22" text-anchor="end" style="font-size:13.5px;font-family:'Liberation Serif',serif;letter-spacing:0.5px;" fill="#222">90</text><line x1="2003.7" y1="557.34" x2="2006.2" y2="557.34" stroke="#2a2a2a" stroke-width="1"/><line x1="2294.6" y1="557.34" x2="2292.1" y2="557.34" stroke="#2a2a2a" stroke-width="1"/><line x1="2003.7" y1="550.67" x2="2006.2" y2="550.67" stroke="#2a2a2a" stroke-width="1"/><line x1="2294.6" y1="550.67" x2="2292.1" y2="550.67" stroke="#2a2a2a" stroke-width="1"/><path d="M2003.70,604.18 L2007.15,604.56 L2010.61,604.93 L2014.06,605.31 L2017.52,605.67 L2020.97,606.04 L2024.43,606.40 L2027.88,606.75 L2031.34,607.11 L2034.79,607.45 L2038.24,607.80 L2041.70,608.14 L2045.15,608.48 L2048.61,608.81 L2052.06,609.14 L2055.52,609.47 L2058.97,609.79 L2062.43,610.11 L2065.88,610.43 L2069.33,610.74 L2072.79,611.05 L2076.24,611.35 L2079.70,611.65 L2083.15,611.95 L2086.61,612.24 L2090.06,612.53 L2093.52,612.82 L2096.97,613.10 L2100.42,613.38 L2103.88,613.65 L2107.33,613.92" fill="none" stroke="#d42a2a" stroke-width="1.4" stroke-dasharray="1.2,2.2"/><path d="M2222.60,584.23 L2225.00,583.22 L2227.40,582.20 L2229.80,581.16 L2232.20,580.12 L2234.60,579.06 L2237.00,577.99 L2239.40,576.91 L2241.80,575.82 L2244.20,574.71 L2246.60,573.60 L2249.00,572.47 L2251.40,571.33 L2253.80,570.18 L2256.20,569.02 L2258.60,567.84 L2261.00,566.65 L2263.40,565.45 L2265.80,564.24 L2268.20,563.02 L2270.60,561.79 L2273.00,560.54 L2275.40,559.29 L2277.80,558.02 L2280.20,556.74 L2282.60,555.44 L2285.00,554.14 L2287.40,552.82 L2289.80,551.49 L2292.20,550.16 L2294.60,548.80" fill="none" stroke="#d42a2a" stroke-width="1.4" stroke-dasharray="3,2"/><path d="M2112.79,617.12 L2115.21,616.64 L2117.64,616.17 L2120.06,615.69 L2122.48,615.21 L2124.91,614.73 L2127.33,614.25 L2129.76,613.77 L2132.18,613.28 L2134.61,612.79 L2137.03,612.31 L2139.45,611.81 L2141.88,611.32 L2144.30,610.83 L2146.73,610.33 L2149.15,609.83 L2151.57,609.33 L2154.00,608.83 L2156.42,608.32 L2158.85,607.81 L2161.27,607.31 L2163.70,606.80 L2166.12,606.28 L2168.54,605.77 L2170.97,605.25 L2173.39,604.74 L2175.82,604.22 L2178.24,603.69 L2180.66,603.17 L2183.09,602.64 L2185.51,602.12" fill="none" stroke="#2828c8" stroke-width="1.5"/><line x1="2003.70" y1="117.0" x2="2003.70" y2="121.5" stroke="#2a2a2a" stroke-width="1"/><line x1="2010.97" y1="117.0" x2="2010.97" y2="119.5" stroke="#2a2a2a" stroke-width="1"/><line x1="2018.25" y1="117.0" x2="2018.25" y2="119.5" stroke="#2a2a2a" stroke-width="1"/><line x1="2025.52" y1="117.0" x2="2025.52" y2="119.5" stroke="#2a2a2a" stroke-width="1"/><line x1="2032.79" y1="117.0" x2="2032.79" y2="119.5" stroke="#2a2a2a" stroke-width="1"/><line x1="2040.06" y1="117.0" x2="2040.06" y2="121.5" stroke="#2a2a2a" stroke-width="1"/><line x1="2047.34" y1="117.0" x2="2047.34" y2="119.5" stroke="#2a2a2a" stroke-width="1"/><line x1="2054.61" y1="117.0" x2="2054.61" y2="119.5" stroke="#2a2a2a" stroke-width="1"/><line x1="2061.88" y1="117.0" x2="2061.88" y2="119.5" stroke="#2a2a2a" stroke-width="1"/><line x1="2069.15" y1="117.0" x2="2069.15" y2="119.5" stroke="#2a2a2a" stroke-width="1"/><line x1="2076.43" y1="117.0" x2="2076.43" y2="121.5" stroke="#2a2a2a" stroke-width="1"/><line x1="2083.70" y1="117.0" x2="2083.70" y2="119.5" stroke="#2a2a2a" stroke-width="1"/><line x1="2090.97" y1="117.0" x2="2090.97" y2="119.5" stroke="#2a2a2a" stroke-width="1"/><line x1="2098.24" y1="117.0" x2="2098.24" y2="119.5" stroke="#2a2a2a" stroke-width="1"/><line x1="2105.51" y1="117.0" x2="2105.51" y2="119.5" stroke="#2a2a2a" stroke-width="1"/><line x1="2112.79" y1="117.0" x2="2112.79" y2="121.5" stroke="#2a2a2a" stroke-width="1"/><line x1="2120.06" y1="117.0" x2="2120.06" y2="119.5" stroke="#2a2a2a" stroke-width="1"/><line x1="2127.33" y1="117.0" x2="2127.33" y2="119.5" stroke="#2a2a2a" stroke-width="1"/><line x1="2134.61" y1="117.0" x2="2134.61" y2="119.5" stroke="#2a2a2a" stroke-width="1"/><line x1="2141.88" y1="117.0" x2="2141.88" y2="119.5" stroke="#2a2a2a" stroke-width="1"/><line x1="2149.15" y1="117.0" x2="2149.15" y2="121.5" stroke="#2a2a2a" stroke-width="1"/><line x1="2156.42" y1="117.0" x2="2156.42" y2="119.5" stroke="#2a2a2a" stroke-width="1"/><line x1="2163.70" y1="117.0" x2="2163.70" y2="119.5" stroke="#2a2a2a" stroke-width="1"/><line x1="2170.97" y1="117.0" x2="2170.97" y2="119.5" stroke="#2a2a2a" stroke-width="1"/><line x1="2178.24" y1="117.0" x2="2178.24" y2="119.5" stroke="#2a2a2a" stroke-width="1"/><line x1="2185.51" y1="117.0" x2="2185.51" y2="121.5" stroke="#2a2a2a" stroke-width="1"/><line x1="2192.78" y1="117.0" x2="2192.78" y2="119.5" stroke="#2a2a2a" stroke-width="1"/><line x1="2200.06" y1="117.0" x2="2200.06" y2="119.5" stroke="#2a2a2a" stroke-width="1"/><line x1="2207.33" y1="117.0" x2="2207.33" y2="119.5" stroke="#2a2a2a" stroke-width="1"/><line x1="2214.60" y1="117.0" x2="2214.60" y2="119.5" stroke="#2a2a2a" stroke-width="1"/><line x1="2221.88" y1="117.0" x2="2221.88" y2="121.5" stroke="#2a2a2a" stroke-width="1"/><line x1="2229.15" y1="117.0" x2="2229.15" y2="119.5" stroke="#2a2a2a" stroke-width="1"/><line x1="2236.42" y1="117.0" x2="2236.42" y2="119.5" stroke="#2a2a2a" stroke-width="1"/><line x1="2243.69" y1="117.0" x2="2243.69" y2="119.5" stroke="#2a2a2a" stroke-width="1"/><line x1="2250.97" y1="117.0" x2="2250.97" y2="119.5" stroke="#2a2a2a" stroke-width="1"/><line x1="2258.24" y1="117.0" x2="2258.24" y2="121.5" stroke="#2a2a2a" stroke-width="1"/><line x1="2265.51" y1="117.0" x2="2265.51" y2="119.5" stroke="#2a2a2a" stroke-width="1"/><line x1="2272.78" y1="117.0" x2="2272.78" y2="119.5" stroke="#2a2a2a" stroke-width="1"/><line x1="2280.05" y1="117.0" x2="2280.05" y2="119.5" stroke="#2a2a2a" stroke-width="1"/><line x1="2287.33" y1="117.0" x2="2287.33" y2="119.5" stroke="#2a2a2a" stroke-width="1"/><line x1="2294.60" y1="117.0" x2="2294.60" y2="121.5" stroke="#2a2a2a" stroke-width="1"/><line x1="2003.7" y1="117.0" x2="2294.6" y2="117.0" stroke="#2a2a2a" stroke-width="1.5"/><line x1="2003.70" y1="223.75" x2="2003.70" y2="219.25" stroke="#2a2a2a" stroke-width="1"/><line x1="2003.70" y1="223.75" x2="2003.70" y2="228.25" stroke="#2a2a2a" stroke-width="1"/><line x1="2010.97" y1="223.75" x2="2010.97" y2="221.25" stroke="#2a2a2a" stroke-width="1"/><line x1="2010.97" y1="223.75" x2="2010.97" y2="226.25" stroke="#2a2a2a" stroke-width="1"/><line x1="2018.25" y1="223.75" x2="2018.25" y2="221.25" stroke="#2a2a2a" stroke-width="1"/><line x1="2018.25" y1="223.75" x2="2018.25" y2="226.25" stroke="#2a2a2a" stroke-width="1"/><line x1="2025.52" y1="223.75" x2="2025.52" y2="221.25" stroke="#2a2a2a" stroke-width="1"/><line x1="2025.52" y1="223.75" x2="2025.52" y2="226.25" stroke="#2a2a2a" stroke-width="1"/><line x1="2032.79" y1="223.75" x2="2032.79" y2="221.25" stroke="#2a2a2a" stroke-width="1"/><line x1="2032.79" y1="223.75" x2="2032.79" y2="226.25" stroke="#2a2a2a" stroke-width="1"/><line x1="2040.06" y1="223.75" x2="2040.06" y2="219.25" stroke="#2a2a2a" stroke-width="1"/><line x1="2040.06" y1="223.75" x2="2040.06" y2="228.25" stroke="#2a2a2a" stroke-width="1"/><line x1="2047.34" y1="223.75" x2="2047.34" y2="221.25" stroke="#2a2a2a" stroke-width="1"/><line x1="2047.34" y1="223.75" x2="2047.34" y2="226.25" stroke="#2a2a2a" stroke-width="1"/><line x1="2054.61" y1="223.75" x2="2054.61" y2="221.25" stroke="#2a2a2a" stroke-width="1"/><line x1="2054.61" y1="223.75" x2="2054.61" y2="226.25" stroke="#2a2a2a" stroke-width="1"/><line x1="2061.88" y1="223.75" x2="2061.88" y2="221.25" stroke="#2a2a2a" stroke-width="1"/><line x1="2061.88" y1="223.75" x2="2061.88" y2="226.25" stroke="#2a2a2a" stroke-width="1"/><line x1="2069.15" y1="223.75" x2="2069.15" y2="221.25" stroke="#2a2a2a" stroke-width="1"/><line x1="2069.15" y1="223.75" x2="2069.15" y2="226.25" stroke="#2a2a2a" stroke-width="1"/><line x1="2076.43" y1="223.75" x2="2076.43" y2="219.25" stroke="#2a2a2a" stroke-width="1"/><line x1="2076.43" y1="223.75" x2="2076.43" y2="228.25" stroke="#2a2a2a" stroke-width="1"/><line x1="2083.70" y1="223.75" x2="2083.70" y2="221.25" stroke="#2a2a2a" stroke-width="1"/><line x1="2083.70" y1="223.75" x2="2083.70" y2="226.25" stroke="#2a2a2a" stroke-width="1"/><line x1="2090.97" y1="223.75" x2="2090.97" y2="221.25" stroke="#2a2a2a" stroke-width="1"/><line x1="2090.97" y1="223.75" x2="2090.97" y2="226.25" stroke="#2a2a2a" stroke-width="1"/><line x1="2098.24" y1="223.75" x2="2098.24" y2="221.25" stroke="#2a2a2a" stroke-width="1"/><line x1="2098.24" y1="223.75" x2="2098.24" y2="226.25" stroke="#2a2a2a" stroke-width="1"/><line x1="2105.51" y1="223.75" x2="2105.51" y2="221.25" stroke="#2a2a2a" stroke-width="1"/><line x1="2105.51" y1="223.75" x2="2105.51" y2="226.25" stroke="#2a2a2a" stroke-width="1"/><line x1="2112.79" y1="223.75" x2="2112.79" y2="219.25" stroke="#2a2a2a" stroke-width="1"/><line x1="2112.79" y1="223.75" x2="2112.79" y2="228.25" stroke="#2a2a2a" stroke-width="1"/><line x1="2120.06" y1="223.75" x2="2120.06" y2="221.25" stroke="#2a2a2a" stroke-width="1"/><line x1="2120.06" y1="223.75" x2="2120.06" y2="226.25" stroke="#2a2a2a" stroke-width="1"/><line x1="2127.33" y1="223.75" x2="2127.33" y2="221.25" stroke="#2a2a2a" stroke-width="1"/><line x1="2127.33" y1="223.75" x2="2127.33" y2="226.25" stroke="#2a2a2a" stroke-width="1"/><line x1="2134.61" y1="223.75" x2="2134.61" y2="221.25" stroke="#2a2a2a" stroke-width="1"/><line x1="2134.61" y1="223.75" x2="2134.61" y2="226.25" stroke="#2a2a2a" stroke-width="1"/><line x1="2141.88" y1="223.75" x2="2141.88" y2="221.25" stroke="#2a2a2a" stroke-width="1"/><line x1="2141.88" y1="223.75" x2="2141.88" y2="226.25" stroke="#2a2a2a" stroke-width="1"/><line x1="2149.15" y1="223.75" x2="2149.15" y2="219.25" stroke="#2a2a2a" stroke-width="1"/><line x1="2149.15" y1="223.75" x2="2149.15" y2="228.25" stroke="#2a2a2a" stroke-width="1"/><line x1="2156.42" y1="223.75" x2="2156.42" y2="221.25" stroke="#2a2a2a" stroke-width="1"/><line x1="2156.42" y1="223.75" x2="2156.42" y2="226.25" stroke="#2a2a2a" stroke-width="1"/><line x1="2163.70" y1="223.75" x2="2163.70" y2="221.25" stroke="#2a2a2a" stroke-width="1"/><line x1="2163.70" y1="223.75" x2="2163.70" y2="226.25" stroke="#2a2a2a" stroke-width="1"/><line x1="2170.97" y1="223.75" x2="2170.97" y2="221.25" stroke="#2a2a2a" stroke-width="1"/><line x1="2170.97" y1="223.75" x2="2170.97" y2="226.25" stroke="#2a2a2a" stroke-width="1"/><line x1="2178.24" y1="223.75" x2="2178.24" y2="221.25" stroke="#2a2a2a" stroke-width="1"/><line x1="2178.24" y1="223.75" x2="2178.24" y2="226.25" stroke="#2a2a2a" stroke-width="1"/><line x1="2185.51" y1="223.75" x2="2185.51" y2="219.25" stroke="#2a2a2a" stroke-width="1"/><line x1="2185.51" y1="223.75" x2="2185.51" y2="228.25" stroke="#2a2a2a" stroke-width="1"/><line x1="2192.78" y1="223.75" x2="2192.78" y2="221.25" stroke="#2a2a2a" stroke-width="1"/><line x1="2192.78" y1="223.75" x2="2192.78" y2="226.25" stroke="#2a2a2a" stroke-width="1"/><line x1="2200.06" y1="223.75" x2="2200.06" y2="221.25" stroke="#2a2a2a" stroke-width="1"/><line x1="2200.06" y1="223.75" x2="2200.06" y2="226.25" stroke="#2a2a2a" stroke-width="1"/><line x1="2207.33" y1="223.75" x2="2207.33" y2="221.25" stroke="#2a2a2a" stroke-width="1"/><line x1="2207.33" y1="223.75" x2="2207.33" y2="226.25" stroke="#2a2a2a" stroke-width="1"/><line x1="2214.60" y1="223.75" x2="2214.60" y2="221.25" stroke="#2a2a2a" stroke-width="1"/><line x1="2214.60" y1="223.75" x2="2214.60" y2="226.25" stroke="#2a2a2a" stroke-width="1"/><line x1="2221.88" y1="223.75" x2="2221.88" y2="219.25" stroke="#2a2a2a" stroke-width="1"/><line x1="2221.88" y1="223.75" x2="2221.88" y2="228.25" stroke="#2a2a2a" stroke-width="1"/><line x1="2229.15" y1="223.75" x2="2229.15" y2="221.25" stroke="#2a2a2a" stroke-width="1"/><line x1="2229.15" y1="223.75" x2="2229.15" y2="226.25" stroke="#2a2a2a" stroke-width="1"/><line x1="2236.42" y1="223.75" x2="2236.42" y2="221.25" stroke="#2a2a2a" stroke-width="1"/><line x1="2236.42" y1="223.75" x2="2236.42" y2="226.25" stroke="#2a2a2a" stroke-width="1"/><line x1="2243.69" y1="223.75" x2="2243.69" y2="221.25" stroke="#2a2a2a" stroke-width="1"/><line x1="2243.69" y1="223.75" x2="2243.69" y2="226.25" stroke="#2a2a2a" stroke-width="1"/><line x1="2250.97" y1="223.75" x2="2250.97" y2="221.25" stroke="#2a2a2a" stroke-width="1"/><line x1="2250.97" y1="223.75" x2="2250.97" y2="226.25" stroke="#2a2a2a" stroke-width="1"/><line x1="2258.24" y1="223.75" x2="2258.24" y2="219.25" stroke="#2a2a2a" stroke-width="1"/><line x1="2258.24" y1="223.75" x2="2258.24" y2="228.25" stroke="#2a2a2a" stroke-width="1"/><line x1="2265.51" y1="223.75" x2="2265.51" y2="221.25" stroke="#2a2a2a" stroke-width="1"/><line x1="2265.51" y1="223.75" x2="2265.51" y2="226.25" stroke="#2a2a2a" stroke-width="1"/><line x1="2272.78" y1="223.75" x2="2272.78" y2="221.25" stroke="#2a2a2a" stroke-width="1"/><line x1="2272.78" y1="223.75" x2="2272.78" y2="226.25" stroke="#2a2a2a" stroke-width="1"/><line x1="2280.05" y1="223.75" x2="2280.05" y2="221.25" stroke="#2a2a2a" stroke-width="1"/><line x1="2280.05" y1="223.75" x2="2280.05" y2="226.25" stroke="#2a2a2a" stroke-width="1"/><line x1="2287.33" y1="223.75" x2="2287.33" y2="221.25" stroke="#2a2a2a" stroke-width="1"/><line x1="2287.33" y1="223.75" x2="2287.33" y2="226.25" stroke="#2a2a2a" stroke-width="1"/><line x1="2294.60" y1="223.75" x2="2294.60" y2="219.25" stroke="#2a2a2a" stroke-width="1"/><line x1="2294.60" y1="223.75" x2="2294.60" y2="228.25" stroke="#2a2a2a" stroke-width="1"/><line x1="2003.7" y1="223.75" x2="2294.6" y2="223.75" stroke="#2a2a2a" stroke-width="1.5"/><line x1="2003.70" y1="330.5" x2="2003.70" y2="326.0" stroke="#2a2a2a" stroke-width="1"/><line x1="2003.70" y1="330.5" x2="2003.70" y2="335.0" stroke="#2a2a2a" stroke-width="1"/><line x1="2010.97" y1="330.5" x2="2010.97" y2="328.0" stroke="#2a2a2a" stroke-width="1"/><line x1="2010.97" y1="330.5" x2="2010.97" y2="333.0" stroke="#2a2a2a" stroke-width="1"/><line x1="2018.25" y1="330.5" x2="2018.25" y2="328.0" stroke="#2a2a2a" stroke-width="1"/><line x1="2018.25" y1="330.5" x2="2018.25" y2="333.0" stroke="#2a2a2a" stroke-width="1"/><line x1="2025.52" y1="330.5" x2="2025.52" y2="328.0" stroke="#2a2a2a" stroke-width="1"/><line x1="2025.52" y1="330.5" x2="2025.52" y2="333.0" stroke="#2a2a2a" stroke-width="1"/><line x1="2032.79" y1="330.5" x2="2032.79" y2="328.0" stroke="#2a2a2a" stroke-width="1"/><line x1="2032.79" y1="330.5" x2="2032.79" y2="333.0" stroke="#2a2a2a" stroke-width="1"/><line x1="2040.06" y1="330.5" x2="2040.06" y2="326.0" stroke="#2a2a2a" stroke-width="1"/><line x1="2040.06" y1="330.5" x2="2040.06" y2="335.0" stroke="#2a2a2a" stroke-width="1"/><line x1="2047.34" y1="330.5" x2="2047.34" y2="328.0" stroke="#2a2a2a" stroke-width="1"/><line x1="2047.34" y1="330.5" x2="2047.34" y2="333.0" stroke="#2a2a2a" stroke-width="1"/><line x1="2054.61" y1="330.5" x2="2054.61" y2="328.0" stroke="#2a2a2a" stroke-width="1"/><line x1="2054.61" y1="330.5" x2="2054.61" y2="333.0" stroke="#2a2a2a" stroke-width="1"/><line x1="2061.88" y1="330.5" x2="2061.88" y2="328.0" stroke="#2a2a2a" stroke-width="1"/><line x1="2061.88" y1="330.5" x2="2061.88" y2="333.0" stroke="#2a2a2a" stroke-width="1"/><line x1="2069.15" y1="330.5" x2="2069.15" y2="328.0" stroke="#2a2a2a" stroke-width="1"/><line x1="2069.15" y1="330.5" x2="2069.15" y2="333.0" stroke="#2a2a2a" stroke-width="1"/><line x1="2076.43" y1="330.5" x2="2076.43" y2="326.0" stroke="#2a2a2a" stroke-width="1"/><line x1="2076.43" y1="330.5" x2="2076.43" y2="335.0" stroke="#2a2a2a" stroke-width="1"/><line x1="2083.70" y1="330.5" x2="2083.70" y2="328.0" stroke="#2a2a2a" stroke-width="1"/><line x1="2083.70" y1="330.5" x2="2083.70" y2="333.0" stroke="#2a2a2a" stroke-width="1"/><line x1="2090.97" y1="330.5" x2="2090.97" y2="328.0" stroke="#2a2a2a" stroke-width="1"/><line x1="2090.97" y1="330.5" x2="2090.97" y2="333.0" stroke="#2a2a2a" stroke-width="1"/><line x1="2098.24" y1="330.5" x2="2098.24" y2="328.0" stroke="#2a2a2a" stroke-width="1"/><line x1="2098.24" y1="330.5" x2="2098.24" y2="333.0" stroke="#2a2a2a" stroke-width="1"/><line x1="2105.51" y1="330.5" x2="2105.51" y2="328.0" stroke="#2a2a2a" stroke-width="1"/><line x1="2105.51" y1="330.5" x2="2105.51" y2="333.0" stroke="#2a2a2a" stroke-width="1"/><line x1="2112.79" y1="330.5" x2="2112.79" y2="326.0" stroke="#2a2a2a" stroke-width="1"/><line x1="2112.79" y1="330.5" x2="2112.79" y2="335.0" stroke="#2a2a2a" stroke-width="1"/><line x1="2120.06" y1="330.5" x2="2120.06" y2="328.0" stroke="#2a2a2a" stroke-width="1"/><line x1="2120.06" y1="330.5" x2="2120.06" y2="333.0" stroke="#2a2a2a" stroke-width="1"/><line x1="2127.33" y1="330.5" x2="2127.33" y2="328.0" stroke="#2a2a2a" stroke-width="1"/><line x1="2127.33" y1="330.5" x2="2127.33" y2="333.0" stroke="#2a2a2a" stroke-width="1"/><line x1="2134.61" y1="330.5" x2="2134.61" y2="328.0" stroke="#2a2a2a" stroke-width="1"/><line x1="2134.61" y1="330.5" x2="2134.61" y2="333.0" stroke="#2a2a2a" stroke-width="1"/><line x1="2141.88" y1="330.5" x2="2141.88" y2="328.0" stroke="#2a2a2a" stroke-width="1"/><line x1="2141.88" y1="330.5" x2="2141.88" y2="333.0" stroke="#2a2a2a" stroke-width="1"/><line x1="2149.15" y1="330.5" x2="2149.15" y2="326.0" stroke="#2a2a2a" stroke-width="1"/><line x1="2149.15" y1="330.5" x2="2149.15" y2="335.0" stroke="#2a2a2a" stroke-width="1"/><line x1="2156.42" y1="330.5" x2="2156.42" y2="328.0" stroke="#2a2a2a" stroke-width="1"/><line x1="2156.42" y1="330.5" x2="2156.42" y2="333.0" stroke="#2a2a2a" stroke-width="1"/><line x1="2163.70" y1="330.5" x2="2163.70" y2="328.0" stroke="#2a2a2a" stroke-width="1"/><line x1="2163.70" y1="330.5" x2="2163.70" y2="333.0" stroke="#2a2a2a" stroke-width="1"/><line x1="2170.97" y1="330.5" x2="2170.97" y2="328.0" stroke="#2a2a2a" stroke-width="1"/><line x1="2170.97" y1="330.5" x2="2170.97" y2="333.0" stroke="#2a2a2a" stroke-width="1"/><line x1="2178.24" y1="330.5" x2="2178.24" y2="328.0" stroke="#2a2a2a" stroke-width="1"/><line x1="2178.24" y1="330.5" x2="2178.24" y2="333.0" stroke="#2a2a2a" stroke-width="1"/><line x1="2185.51" y1="330.5" x2="2185.51" y2="326.0" stroke="#2a2a2a" stroke-width="1"/><line x1="2185.51" y1="330.5" x2="2185.51" y2="335.0" stroke="#2a2a2a" stroke-width="1"/><line x1="2192.78" y1="330.5" x2="2192.78" y2="328.0" stroke="#2a2a2a" stroke-width="1"/><line x1="2192.78" y1="330.5" x2="2192.78" y2="333.0" stroke="#2a2a2a" stroke-width="1"/><line x1="2200.06" y1="330.5" x2="2200.06" y2="328.0" stroke="#2a2a2a" stroke-width="1"/><line x1="2200.06" y1="330.5" x2="2200.06" y2="333.0" stroke="#2a2a2a" stroke-width="1"/><line x1="2207.33" y1="330.5" x2="2207.33" y2="328.0" stroke="#2a2a2a" stroke-width="1"/><line x1="2207.33" y1="330.5" x2="2207.33" y2="333.0" stroke="#2a2a2a" stroke-width="1"/><line x1="2214.60" y1="330.5" x2="2214.60" y2="328.0" stroke="#2a2a2a" stroke-width="1"/><line x1="2214.60" y1="330.5" x2="2214.60" y2="333.0" stroke="#2a2a2a" stroke-width="1"/><line x1="2221.88" y1="330.5" x2="2221.88" y2="326.0" stroke="#2a2a2a" stroke-width="1"/><line x1="2221.88" y1="330.5" x2="2221.88" y2="335.0" stroke="#2a2a2a" stroke-width="1"/><line x1="2229.15" y1="330.5" x2="2229.15" y2="328.0" stroke="#2a2a2a" stroke-width="1"/><line x1="2229.15" y1="330.5" x2="2229.15" y2="333.0" stroke="#2a2a2a" stroke-width="1"/><line x1="2236.42" y1="330.5" x2="2236.42" y2="328.0" stroke="#2a2a2a" stroke-width="1"/><line x1="2236.42" y1="330.5" x2="2236.42" y2="333.0" stroke="#2a2a2a" stroke-width="1"/><line x1="2243.69" y1="330.5" x2="2243.69" y2="328.0" stroke="#2a2a2a" stroke-width="1"/><line x1="2243.69" y1="330.5" x2="2243.69" y2="333.0" stroke="#2a2a2a" stroke-width="1"/><line x1="2250.97" y1="330.5" x2="2250.97" y2="328.0" stroke="#2a2a2a" stroke-width="1"/><line x1="2250.97" y1="330.5" x2="2250.97" y2="333.0" stroke="#2a2a2a" stroke-width="1"/><line x1="2258.24" y1="330.5" x2="2258.24" y2="326.0" stroke="#2a2a2a" stroke-width="1"/><line x1="2258.24" y1="330.5" x2="2258.24" y2="335.0" stroke="#2a2a2a" stroke-width="1"/><line x1="2265.51" y1="330.5" x2="2265.51" y2="328.0" stroke="#2a2a2a" stroke-width="1"/><line x1="2265.51" y1="330.5" x2="2265.51" y2="333.0" stroke="#2a2a2a" stroke-width="1"/><line x1="2272.78" y1="330.5" x2="2272.78" y2="328.0" stroke="#2a2a2a" stroke-width="1"/><line x1="2272.78" y1="330.5" x2="2272.78" y2="333.0" stroke="#2a2a2a" stroke-width="1"/><line x1="2280.05" y1="330.5" x2="2280.05" y2="328.0" stroke="#2a2a2a" stroke-width="1"/><line x1="2280.05" y1="330.5" x2="2280.05" y2="333.0" stroke="#2a2a2a" stroke-width="1"/><line x1="2287.33" y1="330.5" x2="2287.33" y2="328.0" stroke="#2a2a2a" stroke-width="1"/><line x1="2287.33" y1="330.5" x2="2287.33" y2="333.0" stroke="#2a2a2a" stroke-width="1"/><line x1="2294.60" y1="330.5" x2="2294.60" y2="326.0" stroke="#2a2a2a" stroke-width="1"/><line x1="2294.60" y1="330.5" x2="2294.60" y2="335.0" stroke="#2a2a2a" stroke-width="1"/><line x1="2003.7" y1="330.5" x2="2294.6" y2="330.5" stroke="#2a2a2a" stroke-width="1.5"/><line x1="2003.70" y1="437.25" x2="2003.70" y2="432.75" stroke="#2a2a2a" stroke-width="1"/><line x1="2003.70" y1="437.25" x2="2003.70" y2="441.75" stroke="#2a2a2a" stroke-width="1"/><line x1="2010.97" y1="437.25" x2="2010.97" y2="434.75" stroke="#2a2a2a" stroke-width="1"/><line x1="2010.97" y1="437.25" x2="2010.97" y2="439.75" stroke="#2a2a2a" stroke-width="1"/><line x1="2018.25" y1="437.25" x2="2018.25" y2="434.75" stroke="#2a2a2a" stroke-width="1"/><line x1="2018.25" y1="437.25" x2="2018.25" y2="439.75" stroke="#2a2a2a" stroke-width="1"/><line x1="2025.52" y1="437.25" x2="2025.52" y2="434.75" stroke="#2a2a2a" stroke-width="1"/><line x1="2025.52" y1="437.25" x2="2025.52" y2="439.75" stroke="#2a2a2a" stroke-width="1"/><line x1="2032.79" y1="437.25" x2="2032.79" y2="434.75" stroke="#2a2a2a" stroke-width="1"/><line x1="2032.79" y1="437.25" x2="2032.79" y2="439.75" stroke="#2a2a2a" stroke-width="1"/><line x1="2040.06" y1="437.25" x2="2040.06" y2="432.75" stroke="#2a2a2a" stroke-width="1"/><line x1="2040.06" y1="437.25" x2="2040.06" y2="441.75" stroke="#2a2a2a" stroke-width="1"/><line x1="2047.34" y1="437.25" x2="2047.34" y2="434.75" stroke="#2a2a2a" stroke-width="1"/><line x1="2047.34" y1="437.25" x2="2047.34" y2="439.75" stroke="#2a2a2a" stroke-width="1"/><line x1="2054.61" y1="437.25" x2="2054.61" y2="434.75" stroke="#2a2a2a" stroke-width="1"/><line x1="2054.61" y1="437.25" x2="2054.61" y2="439.75" stroke="#2a2a2a" stroke-width="1"/><line x1="2061.88" y1="437.25" x2="2061.88" y2="434.75" stroke="#2a2a2a" stroke-width="1"/><line x1="2061.88" y1="437.25" x2="2061.88" y2="439.75" stroke="#2a2a2a" stroke-width="1"/><line x1="2069.15" y1="437.25" x2="2069.15" y2="434.75" stroke="#2a2a2a" stroke-width="1"/><line x1="2069.15" y1="437.25" x2="2069.15" y2="439.75" stroke="#2a2a2a" stroke-width="1"/><line x1="2076.43" y1="437.25" x2="2076.43" y2="432.75" stroke="#2a2a2a" stroke-width="1"/><line x1="2076.43" y1="437.25" x2="2076.43" y2="441.75" stroke="#2a2a2a" stroke-width="1"/><line x1="2083.70" y1="437.25" x2="2083.70" y2="434.75" stroke="#2a2a2a" stroke-width="1"/><line x1="2083.70" y1="437.25" x2="2083.70" y2="439.75" stroke="#2a2a2a" stroke-width="1"/><line x1="2090.97" y1="437.25" x2="2090.97" y2="434.75" stroke="#2a2a2a" stroke-width="1"/><line x1="2090.97" y1="437.25" x2="2090.97" y2="439.75" stroke="#2a2a2a" stroke-width="1"/><line x1="2098.24" y1="437.25" x2="2098.24" y2="434.75" stroke="#2a2a2a" stroke-width="1"/><line x1="2098.24" y1="437.25" x2="2098.24" y2="439.75" stroke="#2a2a2a" stroke-width="1"/><line x1="2105.51" y1="437.25" x2="2105.51" y2="434.75" stroke="#2a2a2a" stroke-width="1"/><line x1="2105.51" y1="437.25" x2="2105.51" y2="439.75" stroke="#2a2a2a" stroke-width="1"/><line x1="2112.79" y1="437.25" x2="2112.79" y2="432.75" stroke="#2a2a2a" stroke-width="1"/><line x1="2112.79" y1="437.25" x2="2112.79" y2="441.75" stroke="#2a2a2a" stroke-width="1"/><line x1="2120.06" y1="437.25" x2="2120.06" y2="434.75" stroke="#2a2a2a" stroke-width="1"/><line x1="2120.06" y1="437.25" x2="2120.06" y2="439.75" stroke="#2a2a2a" stroke-width="1"/><line x1="2127.33" y1="437.25" x2="2127.33" y2="434.75" stroke="#2a2a2a" stroke-width="1"/><line x1="2127.33" y1="437.25" x2="2127.33" y2="439.75" stroke="#2a2a2a" stroke-width="1"/><line x1="2134.61" y1="437.25" x2="2134.61" y2="434.75" stroke="#2a2a2a" stroke-width="1"/><line x1="2134.61" y1="437.25" x2="2134.61" y2="439.75" stroke="#2a2a2a" stroke-width="1"/><line x1="2141.88" y1="437.25" x2="2141.88" y2="434.75" stroke="#2a2a2a" stroke-width="1"/><line x1="2141.88" y1="437.25" x2="2141.88" y2="439.75" stroke="#2a2a2a" stroke-width="1"/><line x1="2149.15" y1="437.25" x2="2149.15" y2="432.75" stroke="#2a2a2a" stroke-width="1"/><line x1="2149.15" y1="437.25" x2="2149.15" y2="441.75" stroke="#2a2a2a" stroke-width="1"/><line x1="2156.42" y1="437.25" x2="2156.42" y2="434.75" stroke="#2a2a2a" stroke-width="1"/><line x1="2156.42" y1="437.25" x2="2156.42" y2="439.75" stroke="#2a2a2a" stroke-width="1"/><line x1="2163.70" y1="437.25" x2="2163.70" y2="434.75" stroke="#2a2a2a" stroke-width="1"/><line x1="2163.70" y1="437.25" x2="2163.70" y2="439.75" stroke="#2a2a2a" stroke-width="1"/><line x1="2170.97" y1="437.25" x2="2170.97" y2="434.75" stroke="#2a2a2a" stroke-width="1"/><line x1="2170.97" y1="437.25" x2="2170.97" y2="439.75" stroke="#2a2a2a" stroke-width="1"/><line x1="2178.24" y1="437.25" x2="2178.24" y2="434.75" stroke="#2a2a2a" stroke-width="1"/><line x1="2178.24" y1="437.25" x2="2178.24" y2="439.75" stroke="#2a2a2a" stroke-width="1"/><line x1="2185.51" y1="437.25" x2="2185.51" y2="432.75" stroke="#2a2a2a" stroke-width="1"/><line x1="2185.51" y1="437.25" x2="2185.51" y2="441.75" stroke="#2a2a2a" stroke-width="1"/><line x1="2192.78" y1="437.25" x2="2192.78" y2="434.75" stroke="#2a2a2a" stroke-width="1"/><line x1="2192.78" y1="437.25" x2="2192.78" y2="439.75" stroke="#2a2a2a" stroke-width="1"/><line x1="2200.06" y1="437.25" x2="2200.06" y2="434.75" stroke="#2a2a2a" stroke-width="1"/><line x1="2200.06" y1="437.25" x2="2200.06" y2="439.75" stroke="#2a2a2a" stroke-width="1"/><line x1="2207.33" y1="437.25" x2="2207.33" y2="434.75" stroke="#2a2a2a" stroke-width="1"/><line x1="2207.33" y1="437.25" x2="2207.33" y2="439.75" stroke="#2a2a2a" stroke-width="1"/><line x1="2214.60" y1="437.25" x2="2214.60" y2="434.75" stroke="#2a2a2a" stroke-width="1"/><line x1="2214.60" y1="437.25" x2="2214.60" y2="439.75" stroke="#2a2a2a" stroke-width="1"/><line x1="2221.88" y1="437.25" x2="2221.88" y2="432.75" stroke="#2a2a2a" stroke-width="1"/><line x1="2221.88" y1="437.25" x2="2221.88" y2="441.75" stroke="#2a2a2a" stroke-width="1"/><line x1="2229.15" y1="437.25" x2="2229.15" y2="434.75" stroke="#2a2a2a" stroke-width="1"/><line x1="2229.15" y1="437.25" x2="2229.15" y2="439.75" stroke="#2a2a2a" stroke-width="1"/><line x1="2236.42" y1="437.25" x2="2236.42" y2="434.75" stroke="#2a2a2a" stroke-width="1"/><line x1="2236.42" y1="437.25" x2="2236.42" y2="439.75" stroke="#2a2a2a" stroke-width="1"/><line x1="2243.69" y1="437.25" x2="2243.69" y2="434.75" stroke="#2a2a2a" stroke-width="1"/><line x1="2243.69" y1="437.25" x2="2243.69" y2="439.75" stroke="#2a2a2a" stroke-width="1"/><line x1="2250.97" y1="437.25" x2="2250.97" y2="434.75" stroke="#2a2a2a" stroke-width="1"/><line x1="2250.97" y1="437.25" x2="2250.97" y2="439.75" stroke="#2a2a2a" stroke-width="1"/><line x1="2258.24" y1="437.25" x2="2258.24" y2="432.75" stroke="#2a2a2a" stroke-width="1"/><line x1="2258.24" y1="437.25" x2="2258.24" y2="441.75" stroke="#2a2a2a" stroke-width="1"/><line x1="2265.51" y1="437.25" x2="2265.51" y2="434.75" stroke="#2a2a2a" stroke-width="1"/><line x1="2265.51" y1="437.25" x2="2265.51" y2="439.75" stroke="#2a2a2a" stroke-width="1"/><line x1="2272.78" y1="437.25" x2="2272.78" y2="434.75" stroke="#2a2a2a" stroke-width="1"/><line x1="2272.78" y1="437.25" x2="2272.78" y2="439.75" stroke="#2a2a2a" stroke-width="1"/><line x1="2280.05" y1="437.25" x2="2280.05" y2="434.75" stroke="#2a2a2a" stroke-width="1"/><line x1="2280.05" y1="437.25" x2="2280.05" y2="439.75" stroke="#2a2a2a" stroke-width="1"/><line x1="2287.33" y1="437.25" x2="2287.33" y2="434.75" stroke="#2a2a2a" stroke-width="1"/><line x1="2287.33" y1="437.25" x2="2287.33" y2="439.75" stroke="#2a2a2a" stroke-width="1"/><line x1="2294.60" y1="437.25" x2="2294.60" y2="432.75" stroke="#2a2a2a" stroke-width="1"/><line x1="2294.60" y1="437.25" x2="2294.60" y2="441.75" stroke="#2a2a2a" stroke-width="1"/><line x1="2003.7" y1="437.25" x2="2294.6" y2="437.25" stroke="#2a2a2a" stroke-width="1.5"/><line x1="2003.70" y1="544.0" x2="2003.70" y2="539.5" stroke="#2a2a2a" stroke-width="1"/><line x1="2003.70" y1="544.0" x2="2003.70" y2="548.5" stroke="#2a2a2a" stroke-width="1"/><line x1="2010.97" y1="544.0" x2="2010.97" y2="541.5" stroke="#2a2a2a" stroke-width="1"/><line x1="2010.97" y1="544.0" x2="2010.97" y2="546.5" stroke="#2a2a2a" stroke-width="1"/><line x1="2018.25" y1="544.0" x2="2018.25" y2="541.5" stroke="#2a2a2a" stroke-width="1"/><line x1="2018.25" y1="544.0" x2="2018.25" y2="546.5" stroke="#2a2a2a" stroke-width="1"/><line x1="2025.52" y1="544.0" x2="2025.52" y2="541.5" stroke="#2a2a2a" stroke-width="1"/><line x1="2025.52" y1="544.0" x2="2025.52" y2="546.5" stroke="#2a2a2a" stroke-width="1"/><line x1="2032.79" y1="544.0" x2="2032.79" y2="541.5" stroke="#2a2a2a" stroke-width="1"/><line x1="2032.79" y1="544.0" x2="2032.79" y2="546.5" stroke="#2a2a2a" stroke-width="1"/><line x1="2040.06" y1="544.0" x2="2040.06" y2="539.5" stroke="#2a2a2a" stroke-width="1"/><line x1="2040.06" y1="544.0" x2="2040.06" y2="548.5" stroke="#2a2a2a" stroke-width="1"/><line x1="2047.34" y1="544.0" x2="2047.34" y2="541.5" stroke="#2a2a2a" stroke-width="1"/><line x1="2047.34" y1="544.0" x2="2047.34" y2="546.5" stroke="#2a2a2a" stroke-width="1"/><line x1="2054.61" y1="544.0" x2="2054.61" y2="541.5" stroke="#2a2a2a" stroke-width="1"/><line x1="2054.61" y1="544.0" x2="2054.61" y2="546.5" stroke="#2a2a2a" stroke-width="1"/><line x1="2061.88" y1="544.0" x2="2061.88" y2="541.5" stroke="#2a2a2a" stroke-width="1"/><line x1="2061.88" y1="544.0" x2="2061.88" y2="546.5" stroke="#2a2a2a" stroke-width="1"/><line x1="2069.15" y1="544.0" x2="2069.15" y2="541.5" stroke="#2a2a2a" stroke-width="1"/><line x1="2069.15" y1="544.0" x2="2069.15" y2="546.5" stroke="#2a2a2a" stroke-width="1"/><line x1="2076.43" y1="544.0" x2="2076.43" y2="539.5" stroke="#2a2a2a" stroke-width="1"/><line x1="2076.43" y1="544.0" x2="2076.43" y2="548.5" stroke="#2a2a2a" stroke-width="1"/><line x1="2083.70" y1="544.0" x2="2083.70" y2="541.5" stroke="#2a2a2a" stroke-width="1"/><line x1="2083.70" y1="544.0" x2="2083.70" y2="546.5" stroke="#2a2a2a" stroke-width="1"/><line x1="2090.97" y1="544.0" x2="2090.97" y2="541.5" stroke="#2a2a2a" stroke-width="1"/><line x1="2090.97" y1="544.0" x2="2090.97" y2="546.5" stroke="#2a2a2a" stroke-width="1"/><line x1="2098.24" y1="544.0" x2="2098.24" y2="541.5" stroke="#2a2a2a" stroke-width="1"/><line x1="2098.24" y1="544.0" x2="2098.24" y2="546.5" stroke="#2a2a2a" stroke-width="1"/><line x1="2105.51" y1="544.0" x2="2105.51" y2="541.5" stroke="#2a2a2a" stroke-width="1"/><line x1="2105.51" y1="544.0" x2="2105.51" y2="546.5" stroke="#2a2a2a" stroke-width="1"/><line x1="2112.79" y1="544.0" x2="2112.79" y2="539.5" stroke="#2a2a2a" stroke-width="1"/><line x1="2112.79" y1="544.0" x2="2112.79" y2="548.5" stroke="#2a2a2a" stroke-width="1"/><line x1="2120.06" y1="544.0" x2="2120.06" y2="541.5" stroke="#2a2a2a" stroke-width="1"/><line x1="2120.06" y1="544.0" x2="2120.06" y2="546.5" stroke="#2a2a2a" stroke-width="1"/><line x1="2127.33" y1="544.0" x2="2127.33" y2="541.5" stroke="#2a2a2a" stroke-width="1"/><line x1="2127.33" y1="544.0" x2="2127.33" y2="546.5" stroke="#2a2a2a" stroke-width="1"/><line x1="2134.61" y1="544.0" x2="2134.61" y2="541.5" stroke="#2a2a2a" stroke-width="1"/><line x1="2134.61" y1="544.0" x2="2134.61" y2="546.5" stroke="#2a2a2a" stroke-width="1"/><line x1="2141.88" y1="544.0" x2="2141.88" y2="541.5" stroke="#2a2a2a" stroke-width="1"/><line x1="2141.88" y1="544.0" x2="2141.88" y2="546.5" stroke="#2a2a2a" stroke-width="1"/><line x1="2149.15" y1="544.0" x2="2149.15" y2="539.5" stroke="#2a2a2a" stroke-width="1"/><line x1="2149.15" y1="544.0" x2="2149.15" y2="548.5" stroke="#2a2a2a" stroke-width="1"/><line x1="2156.42" y1="544.0" x2="2156.42" y2="541.5" stroke="#2a2a2a" stroke-width="1"/><line x1="2156.42" y1="544.0" x2="2156.42" y2="546.5" stroke="#2a2a2a" stroke-width="1"/><line x1="2163.70" y1="544.0" x2="2163.70" y2="541.5" stroke="#2a2a2a" stroke-width="1"/><line x1="2163.70" y1="544.0" x2="2163.70" y2="546.5" stroke="#2a2a2a" stroke-width="1"/><line x1="2170.97" y1="544.0" x2="2170.97" y2="541.5" stroke="#2a2a2a" stroke-width="1"/><line x1="2170.97" y1="544.0" x2="2170.97" y2="546.5" stroke="#2a2a2a" stroke-width="1"/><line x1="2178.24" y1="544.0" x2="2178.24" y2="541.5" stroke="#2a2a2a" stroke-width="1"/><line x1="2178.24" y1="544.0" x2="2178.24" y2="546.5" stroke="#2a2a2a" stroke-width="1"/><line x1="2185.51" y1="544.0" x2="2185.51" y2="539.5" stroke="#2a2a2a" stroke-width="1"/><line x1="2185.51" y1="544.0" x2="2185.51" y2="548.5" stroke="#2a2a2a" stroke-width="1"/><line x1="2192.78" y1="544.0" x2="2192.78" y2="541.5" stroke="#2a2a2a" stroke-width="1"/><line x1="2192.78" y1="544.0" x2="2192.78" y2="546.5" stroke="#2a2a2a" stroke-width="1"/><line x1="2200.06" y1="544.0" x2="2200.06" y2="541.5" stroke="#2a2a2a" stroke-width="1"/><line x1="2200.06" y1="544.0" x2="2200.06" y2="546.5" stroke="#2a2a2a" stroke-width="1"/><line x1="2207.33" y1="544.0" x2="2207.33" y2="541.5" stroke="#2a2a2a" stroke-width="1"/><line x1="2207.33" y1="544.0" x2="2207.33" y2="546.5" stroke="#2a2a2a" stroke-width="1"/><line x1="2214.60" y1="544.0" x2="2214.60" y2="541.5" stroke="#2a2a2a" stroke-width="1"/><line x1="2214.60" y1="544.0" x2="2214.60" y2="546.5" stroke="#2a2a2a" stroke-width="1"/><line x1="2221.88" y1="544.0" x2="2221.88" y2="539.5" stroke="#2a2a2a" stroke-width="1"/><line x1="2221.88" y1="544.0" x2="2221.88" y2="548.5" stroke="#2a2a2a" stroke-width="1"/><line x1="2229.15" y1="544.0" x2="2229.15" y2="541.5" stroke="#2a2a2a" stroke-width="1"/><line x1="2229.15" y1="544.0" x2="2229.15" y2="546.5" stroke="#2a2a2a" stroke-width="1"/><line x1="2236.42" y1="544.0" x2="2236.42" y2="541.5" stroke="#2a2a2a" stroke-width="1"/><line x1="2236.42" y1="544.0" x2="2236.42" y2="546.5" stroke="#2a2a2a" stroke-width="1"/><line x1="2243.69" y1="544.0" x2="2243.69" y2="541.5" stroke="#2a2a2a" stroke-width="1"/><line x1="2243.69" y1="544.0" x2="2243.69" y2="546.5" stroke="#2a2a2a" stroke-width="1"/><line x1="2250.97" y1="544.0" x2="2250.97" y2="541.5" stroke="#2a2a2a" stroke-width="1"/><line x1="2250.97" y1="544.0" x2="2250.97" y2="546.5" stroke="#2a2a2a" stroke-width="1"/><line x1="2258.24" y1="544.0" x2="2258.24" y2="539.5" stroke="#2a2a2a" stroke-width="1"/><line x1="2258.24" y1="544.0" x2="2258.24" y2="548.5" stroke="#2a2a2a" stroke-width="1"/><line x1="2265.51" y1="544.0" x2="2265.51" y2="541.5" stroke="#2a2a2a" stroke-width="1"/><line x1="2265.51" y1="544.0" x2="2265.51" y2="546.5" stroke="#2a2a2a" stroke-width="1"/><line x1="2272.78" y1="544.0" x2="2272.78" y2="541.5" stroke="#2a2a2a" stroke-width="1"/><line x1="2272.78" y1="544.0" x2="2272.78" y2="546.5" stroke="#2a2a2a" stroke-width="1"/><line x1="2280.05" y1="544.0" x2="2280.05" y2="541.5" stroke="#2a2a2a" stroke-width="1"/><line x1="2280.05" y1="544.0" x2="2280.05" y2="546.5" stroke="#2a2a2a" stroke-width="1"/><line x1="2287.33" y1="544.0" x2="2287.33" y2="541.5" stroke="#2a2a2a" stroke-width="1"/><line x1="2287.33" y1="544.0" x2="2287.33" y2="546.5" stroke="#2a2a2a" stroke-width="1"/><line x1="2294.60" y1="544.0" x2="2294.60" y2="539.5" stroke="#2a2a2a" stroke-width="1"/><line x1="2294.60" y1="544.0" x2="2294.60" y2="548.5" stroke="#2a2a2a" stroke-width="1"/><line x1="2003.7" y1="544.0" x2="2294.6" y2="544.0" stroke="#2a2a2a" stroke-width="1.5"/><line x1="2003.70" y1="650.75" x2="2003.70" y2="646.25" stroke="#2a2a2a" stroke-width="1"/><line x1="2010.97" y1="650.75" x2="2010.97" y2="648.25" stroke="#2a2a2a" stroke-width="1"/><line x1="2018.25" y1="650.75" x2="2018.25" y2="648.25" stroke="#2a2a2a" stroke-width="1"/><line x1="2025.52" y1="650.75" x2="2025.52" y2="648.25" stroke="#2a2a2a" stroke-width="1"/><line x1="2032.79" y1="650.75" x2="2032.79" y2="648.25" stroke="#2a2a2a" stroke-width="1"/><line x1="2040.06" y1="650.75" x2="2040.06" y2="646.25" stroke="#2a2a2a" stroke-width="1"/><line x1="2047.34" y1="650.75" x2="2047.34" y2="648.25" stroke="#2a2a2a" stroke-width="1"/><line x1="2054.61" y1="650.75" x2="2054.61" y2="648.25" stroke="#2a2a2a" stroke-width="1"/><line x1="2061.88" y1="650.75" x2="2061.88" y2="648.25" stroke="#2a2a2a" stroke-width="1"/><line x1="2069.15" y1="650.75" x2="2069.15" y2="648.25" stroke="#2a2a2a" stroke-width="1"/><line x1="2076.43" y1="650.75" x2="2076.43" y2="646.25" stroke="#2a2a2a" stroke-width="1"/><line x1="2083.70" y1="650.75" x2="2083.70" y2="648.25" stroke="#2a2a2a" stroke-width="1"/><line x1="2090.97" y1="650.75" x2="2090.97" y2="648.25" stroke="#2a2a2a" stroke-width="1"/><line x1="2098.24" y1="650.75" x2="2098.24" y2="648.25" stroke="#2a2a2a" stroke-width="1"/><line x1="2105.51" y1="650.75" x2="2105.51" y2="648.25" stroke="#2a2a2a" stroke-width="1"/><line x1="2112.79" y1="650.75" x2="2112.79" y2="646.25" stroke="#2a2a2a" stroke-width="1"/><line x1="2120.06" y1="650.75" x2="2120.06" y2="648.25" stroke="#2a2a2a" stroke-width="1"/><line x1="2127.33" y1="650.75" x2="2127.33" y2="648.25" stroke="#2a2a2a" stroke-width="1"/><line x1="2134.61" y1="650.75" x2="2134.61" y2="648.25" stroke="#2a2a2a" stroke-width="1"/><line x1="2141.88" y1="650.75" x2="2141.88" y2="648.25" stroke="#2a2a2a" stroke-width="1"/><line x1="2149.15" y1="650.75" x2="2149.15" y2="646.25" stroke="#2a2a2a" stroke-width="1"/><line x1="2156.42" y1="650.75" x2="2156.42" y2="648.25" stroke="#2a2a2a" stroke-width="1"/><line x1="2163.70" y1="650.75" x2="2163.70" y2="648.25" stroke="#2a2a2a" stroke-width="1"/><line x1="2170.97" y1="650.75" x2="2170.97" y2="648.25" stroke="#2a2a2a" stroke-width="1"/><line x1="2178.24" y1="650.75" x2="2178.24" y2="648.25" stroke="#2a2a2a" stroke-width="1"/><line x1="2185.51" y1="650.75" x2="2185.51" y2="646.25" stroke="#2a2a2a" stroke-width="1"/><line x1="2192.78" y1="650.75" x2="2192.78" y2="648.25" stroke="#2a2a2a" stroke-width="1"/><line x1="2200.06" y1="650.75" x2="2200.06" y2="648.25" stroke="#2a2a2a" stroke-width="1"/><line x1="2207.33" y1="650.75" x2="2207.33" y2="648.25" stroke="#2a2a2a" stroke-width="1"/><line x1="2214.60" y1="650.75" x2="2214.60" y2="648.25" stroke="#2a2a2a" stroke-width="1"/><line x1="2221.88" y1="650.75" x2="2221.88" y2="646.25" stroke="#2a2a2a" stroke-width="1"/><line x1="2229.15" y1="650.75" x2="2229.15" y2="648.25" stroke="#2a2a2a" stroke-width="1"/><line x1="2236.42" y1="650.75" x2="2236.42" y2="648.25" stroke="#2a2a2a" stroke-width="1"/><line x1="2243.69" y1="650.75" x2="2243.69" y2="648.25" stroke="#2a2a2a" stroke-width="1"/><line x1="2250.97" y1="650.75" x2="2250.97" y2="648.25" stroke="#2a2a2a" stroke-width="1"/><line x1="2258.24" y1="650.75" x2="2258.24" y2="646.25" stroke="#2a2a2a" stroke-width="1"/><line x1="2265.51" y1="650.75" x2="2265.51" y2="648.25" stroke="#2a2a2a" stroke-width="1"/><line x1="2272.78" y1="650.75" x2="2272.78" y2="648.25" stroke="#2a2a2a" stroke-width="1"/><line x1="2280.05" y1="650.75" x2="2280.05" y2="648.25" stroke="#2a2a2a" stroke-width="1"/><line x1="2287.33" y1="650.75" x2="2287.33" y2="648.25" stroke="#2a2a2a" stroke-width="1"/><line x1="2294.60" y1="650.75" x2="2294.60" y2="646.25" stroke="#2a2a2a" stroke-width="1"/><line x1="2003.7" y1="650.75" x2="2294.6" y2="650.75" stroke="#2a2a2a" stroke-width="1.5"/><line x1="2003.7" y1="117.0" x2="2003.7" y2="650.75" stroke="#2a2a2a" stroke-width="1.5"/><line x1="2294.6" y1="117.0" x2="2294.6" y2="650.75" stroke="#2a2a2a" stroke-width="1.5"/><text x="2003.70" y="671.50" text-anchor="middle" style="font-size:13.5px;font-family:'Liberation Serif',serif;letter-spacing:0.7px;" fill="#222">-4</text><text x="2040.06" y="671.50" text-anchor="middle" style="font-size:13.5px;font-family:'Liberation Serif',serif;letter-spacing:0.7px;" fill="#222">-3</text><text x="2076.43" y="671.50" text-anchor="middle" style="font-size:13.5px;font-family:'Liberation Serif',serif;letter-spacing:0.7px;" fill="#222">-2</text><text x="2112.79" y="671.50" text-anchor="middle" style="font-size:13.5px;font-family:'Liberation Serif',serif;letter-spacing:0.7px;" fill="#222">-1</text><text x="2149.15" y="671.50" text-anchor="middle" style="font-size:13.5px;font-family:'Liberation Serif',serif;letter-spacing:0.7px;" fill="#222">0</text><text x="2185.51" y="671.50" text-anchor="middle" style="font-size:13.5px;font-family:'Liberation Serif',serif;letter-spacing:0.7px;" fill="#222">1</text><text x="2221.88" y="671.50" text-anchor="middle" style="font-size:13.5px;font-family:'Liberation Serif',serif;letter-spacing:0.7px;" fill="#222">2</text><text x="2258.24" y="671.50" text-anchor="middle" style="font-size:13.5px;font-family:'Liberation Serif',serif;letter-spacing:0.7px;" fill="#222">3</text><text x="2294.60" y="671.50" text-anchor="middle" style="font-size:13.5px;font-family:'Liberation Serif',serif;letter-spacing:0.7px;" fill="#222">4</text><text x="2149.15" y="693.00" text-anchor="middle" style="font-size:13px;font-family:'Liberation Serif',serif;font-style:italic;" fill="#222">U</text><text x="2198.50" y="135.00" text-anchor="middle" style="font-size:13.5px;font-family:'Liberation Serif',serif;letter-spacing:0.7px;" fill="#222"><tspan font-style='italic'>θ</tspan> = π/2</text><text x="2198.50" y="241.00" text-anchor="middle" style="font-size:13.5px;font-family:'Liberation Serif',serif;letter-spacing:0.7px;" fill="#222"><tspan font-style='italic'>θ</tspan> = <tspan font-style='italic'>θ</tspan><tspan font-size='9' dy='2.5' font-style='italic'>C</tspan></text><text x="2198.50" y="259.00" text-anchor="middle" style="font-size:13.5px;font-family:'Liberation Serif',serif;letter-spacing:0.7px;" fill="#222">(cos<tspan font-size='8' dy='-5'>2</tspan><tspan dy='5'> </tspan><tspan font-style='italic'>θ</tspan><tspan font-size='9' dy='2.5' font-style='italic'>C</tspan><tspan dy='-2.5'> ≡ </tspan><tspan font-size='8' dy='-4'>1</tspan><tspan font-size='8' dy='4'>/3</tspan>)</text><text x="2198.50" y="349.00" text-anchor="middle" style="font-size:13.5px;font-family:'Liberation Serif',serif;letter-spacing:0.7px;" fill="#222"><tspan font-style='italic'>θ</tspan> = π/4</text><text x="2198.50" y="455.00" text-anchor="middle" style="font-size:13.5px;font-family:'Liberation Serif',serif;letter-spacing:0.7px;" fill="#222"><tspan font-style='italic'>θ</tspan> = <tspan font-style='italic'>θ</tspan><tspan font-size='9' dy='2.5' font-style='italic'>C</tspan><tspan font-size='9' dy='-7'>*</tspan></text><text x="2198.50" y="472.00" text-anchor="middle" style="font-size:13.5px;font-family:'Liberation Serif',serif;letter-spacing:0.7px;" fill="#222">(sin<tspan font-size='8' dy='-5'>2</tspan><tspan dy='5'> </tspan><tspan font-style='italic'>θ</tspan><tspan font-size='9' dy='2.5' font-style='italic'>C</tspan><tspan font-size='9' dy='-7'>*</tspan><tspan dy='4.5'> ≡ </tspan><tspan font-size='8' dy='-4'>1</tspan><tspan font-size='8' dy='4'>/3</tspan>)</text><text x="2198.50" y="560.50" text-anchor="middle" style="font-size:13.5px;font-family:'Liberation Serif',serif;letter-spacing:0.7px;" fill="#222"><tspan font-style='italic'>θ</tspan> = 0</text><g transform="translate(1953,384) rotate(-90)"><text x="0.00" y="0.00" text-anchor="middle" style="font-size:13px;font-family:'Liberation Serif',serif;" fill="#222"><tspan font-style='italic'>F</tspan>(<tspan font-style='italic'>U</tspan>)</text></g></svg>
<svg style="left:0;top:0" width="4635" height="1200" viewBox="0 0 4635 1200"><line x1="2417.2" y1="269.20" x2="2692.7" y2="269.20" stroke="#b0b0b0" stroke-width="0.8" stroke-dasharray="1,2"/><line x1="2417.2" y1="338.60" x2="2419.7" y2="338.60" stroke="#2a2a2a" stroke-width="1"/><line x1="2692.7" y1="338.60" x2="2690.2" y2="338.60" stroke="#2a2a2a" stroke-width="1"/><line x1="2417.2" y1="331.66" x2="2419.7" y2="331.66" stroke="#2a2a2a" stroke-width="1"/><line x1="2692.7" y1="331.66" x2="2690.2" y2="331.66" stroke="#2a2a2a" stroke-width="1"/><line x1="2417.2" y1="324.72" x2="2419.7" y2="324.72" stroke="#2a2a2a" stroke-width="1"/><line x1="2692.7" y1="324.72" x2="2690.2" y2="324.72" stroke="#2a2a2a" stroke-width="1"/><line x1="2417.2" y1="317.78" x2="2419.7" y2="317.78" stroke="#2a2a2a" stroke-width="1"/><line x1="2692.7" y1="317.78" x2="2690.2" y2="317.78" stroke="#2a2a2a" stroke-width="1"/><line x1="2417.2" y1="310.84" x2="2421.7" y2="310.84" stroke="#2a2a2a" stroke-width="1"/><line x1="2692.7" y1="310.84" x2="2688.2" y2="310.84" stroke="#2a2a2a" stroke-width="1"/><text x="2408.20" y="315.04" text-anchor="end" style="font-size:13.5px;font-family:'Liberation Serif',serif;letter-spacing:0.5px;" fill="#222">-6</text><line x1="2417.2" y1="303.90" x2="2419.7" y2="303.90" stroke="#2a2a2a" stroke-width="1"/><line x1="2692.7" y1="303.90" x2="2690.2" y2="303.90" stroke="#2a2a2a" stroke-width="1"/><line x1="2417.2" y1="296.96" x2="2419.7" y2="296.96" stroke="#2a2a2a" stroke-width="1"/><line x1="2692.7" y1="296.96" x2="2690.2" y2="296.96" stroke="#2a2a2a" stroke-width="1"/><line x1="2417.2" y1="290.02" x2="2419.7" y2="290.02" stroke="#2a2a2a" stroke-width="1"/><line x1="2692.7" y1="290.02" x2="2690.2" y2="290.02" stroke="#2a2a2a" stroke-width="1"/><line x1="2417.2" y1="283.08" x2="2419.7" y2="283.08" stroke="#2a2a2a" stroke-width="1"/><line x1="2692.7" y1="283.08" x2="2690.2" y2="283.08" stroke="#2a2a2a" stroke-width="1"/><line x1="2417.2" y1="276.14" x2="2419.7" y2="276.14" stroke="#2a2a2a" stroke-width="1"/><line x1="2692.7" y1="276.14" x2="2690.2" y2="276.14" stroke="#2a2a2a" stroke-width="1"/><line x1="2417.2" y1="269.20" x2="2421.7" y2="269.20" stroke="#2a2a2a" stroke-width="1"/><line x1="2692.7" y1="269.20" x2="2688.2" y2="269.20" stroke="#2a2a2a" stroke-width="1"/><text x="2408.20" y="273.40" text-anchor="end" style="font-size:13.5px;font-family:'Liberation Serif',serif;letter-spacing:0.5px;" fill="#222">0</text><line x1="2417.2" y1="262.26" x2="2419.7" y2="262.26" stroke="#2a2a2a" stroke-width="1"/><line x1="2692.7" y1="262.26" x2="2690.2" y2="262.26" stroke="#2a2a2a" stroke-width="1"/><line x1="2417.2" y1="255.32" x2="2419.7" y2="255.32" stroke="#2a2a2a" stroke-width="1"/><line x1="2692.7" y1="255.32" x2="2690.2" y2="255.32" stroke="#2a2a2a" stroke-width="1"/><line x1="2417.2" y1="248.38" x2="2419.7" y2="248.38" stroke="#2a2a2a" stroke-width="1"/><line x1="2692.7" y1="248.38" x2="2690.2" y2="248.38" stroke="#2a2a2a" stroke-width="1"/><line x1="2417.2" y1="241.44" x2="2419.7" y2="241.44" stroke="#2a2a2a" stroke-width="1"/><line x1="2692.7" y1="241.44" x2="2690.2" y2="241.44" stroke="#2a2a2a" stroke-width="1"/><line x1="2417.2" y1="234.50" x2="2419.7" y2="234.50" stroke="#2a2a2a" stroke-width="1"/><line x1="2692.7" y1="234.50" x2="2690.2" y2="234.50" stroke="#2a2a2a" stroke-width="1"/><line x1="2417.2" y1="227.56" x2="2421.7" y2="227.56" stroke="#2a2a2a" stroke-width="1"/><line x1="2692.7" y1="227.56" x2="2688.2" y2="227.56" stroke="#2a2a2a" stroke-width="1"/><text x="2408.20" y="231.76" text-anchor="end" style="font-size:13.5px;font-family:'Liberation Serif',serif;letter-spacing:0.5px;" fill="#222">6</text><line x1="2417.2" y1="220.62" x2="2419.7" y2="220.62" stroke="#2a2a2a" stroke-width="1"/><line x1="2692.7" y1="220.62" x2="2690.2" y2="220.62" stroke="#2a2a2a" stroke-width="1"/><line x1="2417.2" y1="213.68" x2="2419.7" y2="213.68" stroke="#2a2a2a" stroke-width="1"/><line x1="2692.7" y1="213.68" x2="2690.2" y2="213.68" stroke="#2a2a2a" stroke-width="1"/><line x1="2417.2" y1="206.74" x2="2419.7" y2="206.74" stroke="#2a2a2a" stroke-width="1"/><line x1="2692.7" y1="206.74" x2="2690.2" y2="206.74" stroke="#2a2a2a" stroke-width="1"/><line x1="2417.2" y1="199.80" x2="2419.7" y2="199.80" stroke="#2a2a2a" stroke-width="1"/><line x1="2692.7" y1="199.80" x2="2690.2" y2="199.80" stroke="#2a2a2a" stroke-width="1"/><line x1="2417.2" y1="192.86" x2="2419.7" y2="192.86" stroke="#2a2a2a" stroke-width="1"/><line x1="2692.7" y1="192.86" x2="2690.2" y2="192.86" stroke="#2a2a2a" stroke-width="1"/><line x1="2417.2" y1="185.92" x2="2421.7" y2="185.92" stroke="#2a2a2a" stroke-width="1"/><line x1="2692.7" y1="185.92" x2="2688.2" y2="185.92" stroke="#2a2a2a" stroke-width="1"/><text x="2408.20" y="190.12" text-anchor="end" style="font-size:13.5px;font-family:'Liberation Serif',serif;letter-spacing:0.5px;" fill="#222">12</text><line x1="2417.2" y1="178.98" x2="2419.7" y2="178.98" stroke="#2a2a2a" stroke-width="1"/><line x1="2692.7" y1="178.98" x2="2690.2" y2="178.98" stroke="#2a2a2a" stroke-width="1"/><line x1="2417.2" y1="172.04" x2="2419.7" y2="172.04" stroke="#2a2a2a" stroke-width="1"/><line x1="2692.7" y1="172.04" x2="2690.2" y2="172.04" stroke="#2a2a2a" stroke-width="1"/><line x1="2417.2" y1="165.10" x2="2419.7" y2="165.10" stroke="#2a2a2a" stroke-width="1"/><line x1="2692.7" y1="165.10" x2="2690.2" y2="165.10" stroke="#2a2a2a" stroke-width="1"/><line x1="2417.2" y1="158.16" x2="2419.7" y2="158.16" stroke="#2a2a2a" stroke-width="1"/><line x1="2692.7" y1="158.16" x2="2690.2" y2="158.16" stroke="#2a2a2a" stroke-width="1"/><line x1="2417.2" y1="151.22" x2="2419.7" y2="151.22" stroke="#2a2a2a" stroke-width="1"/><line x1="2692.7" y1="151.22" x2="2690.2" y2="151.22" stroke="#2a2a2a" stroke-width="1"/><line x1="2417.2" y1="144.28" x2="2421.7" y2="144.28" stroke="#2a2a2a" stroke-width="1"/><line x1="2692.7" y1="144.28" x2="2688.2" y2="144.28" stroke="#2a2a2a" stroke-width="1"/><text x="2408.20" y="148.48" text-anchor="end" style="font-size:13.5px;font-family:'Liberation Serif',serif;letter-spacing:0.5px;" fill="#222">18</text><line x1="2417.2" y1="137.34" x2="2419.7" y2="137.34" stroke="#2a2a2a" stroke-width="1"/><line x1="2692.7" y1="137.34" x2="2690.2" y2="137.34" stroke="#2a2a2a" stroke-width="1"/><line x1="2417.2" y1="130.40" x2="2419.7" y2="130.40" stroke="#2a2a2a" stroke-width="1"/><line x1="2692.7" y1="130.40" x2="2690.2" y2="130.40" stroke="#2a2a2a" stroke-width="1"/><line x1="2417.2" y1="123.46" x2="2419.7" y2="123.46" stroke="#2a2a2a" stroke-width="1"/><line x1="2692.7" y1="123.46" x2="2690.2" y2="123.46" stroke="#2a2a2a" stroke-width="1"/><line x1="2417.2" y1="116.52" x2="2419.7" y2="116.52" stroke="#2a2a2a" stroke-width="1"/><line x1="2692.7" y1="116.52" x2="2690.2" y2="116.52" stroke="#2a2a2a" stroke-width="1"/><line x1="2417.2" y1="109.58" x2="2419.7" y2="109.58" stroke="#2a2a2a" stroke-width="1"/><line x1="2692.7" y1="109.58" x2="2690.2" y2="109.58" stroke="#2a2a2a" stroke-width="1"/><line x1="2417.2" y1="102.64" x2="2421.7" y2="102.64" stroke="#2a2a2a" stroke-width="1"/><line x1="2692.7" y1="102.64" x2="2688.2" y2="102.64" stroke="#2a2a2a" stroke-width="1"/><text x="2408.20" y="106.84" text-anchor="end" style="font-size:13.5px;font-family:'Liberation Serif',serif;letter-spacing:0.5px;" fill="#222">24</text><line x1="2417.2" y1="95.70" x2="2419.7" y2="95.70" stroke="#2a2a2a" stroke-width="1"/><line x1="2692.7" y1="95.70" x2="2690.2" y2="95.70" stroke="#2a2a2a" stroke-width="1"/><line x1="2417.2" y1="88.76" x2="2419.7" y2="88.76" stroke="#2a2a2a" stroke-width="1"/><line x1="2692.7" y1="88.76" x2="2690.2" y2="88.76" stroke="#2a2a2a" stroke-width="1"/><line x1="2417.2" y1="81.82" x2="2419.7" y2="81.82" stroke="#2a2a2a" stroke-width="1"/><line x1="2692.7" y1="81.82" x2="2690.2" y2="81.82" stroke="#2a2a2a" stroke-width="1"/><line x1="2417.20" y1="79.2" x2="2417.20" y2="83.7" stroke="#2a2a2a" stroke-width="1"/><line x1="2417.20" y1="345.0" x2="2417.20" y2="340.5" stroke="#2a2a2a" stroke-width="1"/><text x="2417.20" y="363.50" text-anchor="middle" style="font-size:13.5px;font-family:'Liberation Serif',serif;letter-spacing:0.7px;" fill="#222">0</text><line x1="2425.97" y1="79.2" x2="2425.97" y2="81.7" stroke="#2a2a2a" stroke-width="1"/><line x1="2425.97" y1="345.0" x2="2425.97" y2="342.5" stroke="#2a2a2a" stroke-width="1"/><line x1="2434.74" y1="79.2" x2="2434.74" y2="81.7" stroke="#2a2a2a" stroke-width="1"/><line x1="2434.74" y1="345.0" x2="2434.74" y2="342.5" stroke="#2a2a2a" stroke-width="1"/><line x1="2443.51" y1="79.2" x2="2443.51" y2="81.7" stroke="#2a2a2a" stroke-width="1"/><line x1="2443.51" y1="345.0" x2="2443.51" y2="342.5" stroke="#2a2a2a" stroke-width="1"/><line x1="2452.28" y1="79.2" x2="2452.28" y2="83.7" stroke="#2a2a2a" stroke-width="1"/><line x1="2452.28" y1="345.0" x2="2452.28" y2="340.5" stroke="#2a2a2a" stroke-width="1"/><text x="2452.28" y="363.50" text-anchor="middle" style="font-size:13.5px;font-family:'Liberation Serif',serif;letter-spacing:0.7px;" fill="#222">0.2</text><line x1="2461.05" y1="79.2" x2="2461.05" y2="81.7" stroke="#2a2a2a" stroke-width="1"/><line x1="2461.05" y1="345.0" x2="2461.05" y2="342.5" stroke="#2a2a2a" stroke-width="1"/><line x1="2469.82" y1="79.2" x2="2469.82" y2="81.7" stroke="#2a2a2a" stroke-width="1"/><line x1="2469.82" y1="345.0" x2="2469.82" y2="342.5" stroke="#2a2a2a" stroke-width="1"/><line x1="2478.59" y1="79.2" x2="2478.59" y2="81.7" stroke="#2a2a2a" stroke-width="1"/><line x1="2478.59" y1="345.0" x2="2478.59" y2="342.5" stroke="#2a2a2a" stroke-width="1"/><line x1="2487.36" y1="79.2" x2="2487.36" y2="83.7" stroke="#2a2a2a" stroke-width="1"/><line x1="2487.36" y1="345.0" x2="2487.36" y2="340.5" stroke="#2a2a2a" stroke-width="1"/><text x="2487.36" y="363.50" text-anchor="middle" style="font-size:13.5px;font-family:'Liberation Serif',serif;letter-spacing:0.7px;" fill="#222">0.4</text><line x1="2496.12" y1="79.2" x2="2496.12" y2="81.7" stroke="#2a2a2a" stroke-width="1"/><line x1="2496.12" y1="345.0" x2="2496.12" y2="342.5" stroke="#2a2a2a" stroke-width="1"/><line x1="2504.89" y1="79.2" x2="2504.89" y2="81.7" stroke="#2a2a2a" stroke-width="1"/><line x1="2504.89" y1="345.0" x2="2504.89" y2="342.5" stroke="#2a2a2a" stroke-width="1"/><line x1="2513.66" y1="79.2" x2="2513.66" y2="81.7" stroke="#2a2a2a" stroke-width="1"/><line x1="2513.66" y1="345.0" x2="2513.66" y2="342.5" stroke="#2a2a2a" stroke-width="1"/><line x1="2522.43" y1="79.2" x2="2522.43" y2="83.7" stroke="#2a2a2a" stroke-width="1"/><line x1="2522.43" y1="345.0" x2="2522.43" y2="340.5" stroke="#2a2a2a" stroke-width="1"/><text x="2522.43" y="363.50" text-anchor="middle" style="font-size:13.5px;font-family:'Liberation Serif',serif;letter-spacing:0.7px;" fill="#222">0.6</text><line x1="2531.20" y1="79.2" x2="2531.20" y2="81.7" stroke="#2a2a2a" stroke-width="1"/><line x1="2531.20" y1="345.0" x2="2531.20" y2="342.5" stroke="#2a2a2a" stroke-width="1"/><line x1="2539.97" y1="79.2" x2="2539.97" y2="81.7" stroke="#2a2a2a" stroke-width="1"/><line x1="2539.97" y1="345.0" x2="2539.97" y2="342.5" stroke="#2a2a2a" stroke-width="1"/><line x1="2548.74" y1="79.2" x2="2548.74" y2="81.7" stroke="#2a2a2a" stroke-width="1"/><line x1="2548.74" y1="345.0" x2="2548.74" y2="342.5" stroke="#2a2a2a" stroke-width="1"/><line x1="2557.51" y1="79.2" x2="2557.51" y2="83.7" stroke="#2a2a2a" stroke-width="1"/><line x1="2557.51" y1="345.0" x2="2557.51" y2="340.5" stroke="#2a2a2a" stroke-width="1"/><text x="2557.51" y="363.50" text-anchor="middle" style="font-size:13.5px;font-family:'Liberation Serif',serif;letter-spacing:0.7px;" fill="#222">0.8</text><line x1="2566.28" y1="79.2" x2="2566.28" y2="81.7" stroke="#2a2a2a" stroke-width="1"/><line x1="2566.28" y1="345.0" x2="2566.28" y2="342.5" stroke="#2a2a2a" stroke-width="1"/><line x1="2575.05" y1="79.2" x2="2575.05" y2="81.7" stroke="#2a2a2a" stroke-width="1"/><line x1="2575.05" y1="345.0" x2="2575.05" y2="342.5" stroke="#2a2a2a" stroke-width="1"/><line x1="2583.82" y1="79.2" x2="2583.82" y2="81.7" stroke="#2a2a2a" stroke-width="1"/><line x1="2583.82" y1="345.0" x2="2583.82" y2="342.5" stroke="#2a2a2a" stroke-width="1"/><line x1="2592.59" y1="79.2" x2="2592.59" y2="83.7" stroke="#2a2a2a" stroke-width="1"/><line x1="2592.59" y1="345.0" x2="2592.59" y2="340.5" stroke="#2a2a2a" stroke-width="1"/><text x="2592.59" y="363.50" text-anchor="middle" style="font-size:13.5px;font-family:'Liberation Serif',serif;letter-spacing:0.7px;" fill="#222">1</text><line x1="2601.36" y1="79.2" x2="2601.36" y2="81.7" stroke="#2a2a2a" stroke-width="1"/><line x1="2601.36" y1="345.0" x2="2601.36" y2="342.5" stroke="#2a2a2a" stroke-width="1"/><line x1="2610.13" y1="79.2" x2="2610.13" y2="81.7" stroke="#2a2a2a" stroke-width="1"/><line x1="2610.13" y1="345.0" x2="2610.13" y2="342.5" stroke="#2a2a2a" stroke-width="1"/><line x1="2618.90" y1="79.2" x2="2618.90" y2="81.7" stroke="#2a2a2a" stroke-width="1"/><line x1="2618.90" y1="345.0" x2="2618.90" y2="342.5" stroke="#2a2a2a" stroke-width="1"/><line x1="2627.67" y1="79.2" x2="2627.67" y2="83.7" stroke="#2a2a2a" stroke-width="1"/><line x1="2627.67" y1="345.0" x2="2627.67" y2="340.5" stroke="#2a2a2a" stroke-width="1"/><text x="2627.67" y="363.50" text-anchor="middle" style="font-size:13.5px;font-family:'Liberation Serif',serif;letter-spacing:0.7px;" fill="#222">1.2</text><line x1="2636.44" y1="79.2" x2="2636.44" y2="81.7" stroke="#2a2a2a" stroke-width="1"/><line x1="2636.44" y1="345.0" x2="2636.44" y2="342.5" stroke="#2a2a2a" stroke-width="1"/><line x1="2645.21" y1="79.2" x2="2645.21" y2="81.7" stroke="#2a2a2a" stroke-width="1"/><line x1="2645.21" y1="345.0" x2="2645.21" y2="342.5" stroke="#2a2a2a" stroke-width="1"/><line x1="2653.97" y1="79.2" x2="2653.97" y2="81.7" stroke="#2a2a2a" stroke-width="1"/><line x1="2653.97" y1="345.0" x2="2653.97" y2="342.5" stroke="#2a2a2a" stroke-width="1"/><line x1="2662.74" y1="79.2" x2="2662.74" y2="83.7" stroke="#2a2a2a" stroke-width="1"/><line x1="2662.74" y1="345.0" x2="2662.74" y2="340.5" stroke="#2a2a2a" stroke-width="1"/><text x="2662.74" y="363.50" text-anchor="middle" style="font-size:13.5px;font-family:'Liberation Serif',serif;letter-spacing:0.7px;" fill="#222">1.4</text><line x1="2671.51" y1="79.2" x2="2671.51" y2="81.7" stroke="#2a2a2a" stroke-width="1"/><line x1="2671.51" y1="345.0" x2="2671.51" y2="342.5" stroke="#2a2a2a" stroke-width="1"/><line x1="2680.28" y1="79.2" x2="2680.28" y2="81.7" stroke="#2a2a2a" stroke-width="1"/><line x1="2680.28" y1="345.0" x2="2680.28" y2="342.5" stroke="#2a2a2a" stroke-width="1"/><line x1="2689.05" y1="79.2" x2="2689.05" y2="81.7" stroke="#2a2a2a" stroke-width="1"/><line x1="2689.05" y1="345.0" x2="2689.05" y2="342.5" stroke="#2a2a2a" stroke-width="1"/><rect x="2417.2" y="79.2" width="275.5" height="265.8" fill="none" stroke="#2a2a2a" stroke-width="1.5"/><path d="M2417.20,121.15 L2419.95,121.17 L2422.71,121.24 L2425.46,121.37 L2428.22,121.54 L2430.97,121.76 L2433.73,122.03 L2436.48,122.35 L2439.24,122.72 L2441.99,123.14 L2444.75,123.61 L2447.50,124.13 L2450.26,124.71 L2453.01,125.33 L2455.77,126.01 L2458.52,126.75 L2461.28,127.53 L2464.03,128.37 L2466.79,129.26 L2469.54,130.20 L2472.30,131.19 L2475.05,132.23 L2477.81,133.33 L2480.56,134.47 L2483.32,135.66 L2486.07,136.90 L2488.83,138.18 L2491.59,139.51 L2494.34,140.87 L2497.09,142.28 L2499.85,143.72 L2502.61,145.19 L2505.36,146.70 L2508.11,148.23 L2510.87,149.79 L2513.62,151.37 L2516.38,152.97 L2519.13,154.59 L2521.89,156.22 L2524.64,157.86 L2527.40,159.51 L2530.15,161.16 L2532.91,162.81 L2535.66,164.45 L2538.42,166.10 L2541.17,167.73 L2543.93,169.35 L2546.68,170.96 L2549.44,172.56 L2552.19,174.14 L2554.95,175.69 L2557.70,177.23 L2560.46,178.74 L2563.21,180.22 L2565.97,181.68 L2568.72,183.11 L2571.48,184.51 L2574.23,185.88 L2576.99,187.22 L2579.74,188.53 L2582.50,189.80 L2585.25,191.04 L2588.01,192.25 L2590.76,193.42 L2593.52,194.56 L2596.27,195.66 L2599.03,196.72 L2601.78,197.76 L2604.54,198.75 L2607.30,199.71 L2610.05,200.64 L2612.80,201.53 L2615.56,202.39 L2618.31,203.22 L2621.07,204.01 L2623.82,204.76 L2626.58,205.48 L2629.34,206.17 L2632.09,206.83 L2634.84,207.46 L2637.60,208.05 L2640.35,208.61 L2643.11,209.14 L2645.86,209.64 L2648.62,210.11 L2651.38,210.55 L2654.13,210.96 L2656.88,211.34 L2659.64,211.69 L2662.39,212.01 L2665.15,212.30 L2667.90,212.56 L2670.66,212.80 L2673.41,213.01 L2676.17,213.19 L2678.92,213.34 L2681.68,213.46 L2684.43,213.56 L2687.19,213.63 L2689.94,213.67 L2692.70,213.68" fill="none" stroke="#d42a2a" stroke-width="1.4" stroke-dasharray="3,2"/><path d="M2417.20,191.20 L2419.95,191.14 L2422.71,191.29 L2425.46,191.65 L2428.22,192.21 L2430.97,192.98 L2433.73,193.94 L2436.48,195.10 L2439.24,196.44 L2441.99,197.96 L2444.75,199.66 L2447.50,201.51 L2450.26,203.52 L2453.01,205.66 L2455.77,207.94 L2458.52,210.33 L2461.28,212.83 L2464.03,215.42 L2466.79,218.09 L2469.54,220.83 L2472.30,223.63 L2475.05,226.46 L2477.81,229.33 L2480.56,232.22 L2483.32,235.12 L2486.07,238.02 L2488.83,240.90 L2491.59,243.77 L2494.34,246.61 L2497.09,249.41 L2499.85,252.17 L2502.61,254.89 L2505.36,257.55 L2508.11,260.16 L2510.87,262.70 L2513.62,265.19 L2516.38,267.61 L2519.13,269.97 L2521.89,272.26 L2524.64,274.49 L2527.40,276.65 L2530.15,278.75 L2532.91,280.78 L2535.66,282.75 L2538.42,284.66 L2541.17,286.51 L2543.93,288.30 L2546.68,290.03 L2549.44,291.71 L2552.19,293.34 L2554.95,294.91 L2557.70,296.44 L2560.46,297.92 L2563.21,299.35 L2565.97,300.73 L2568.72,302.07 L2571.48,303.37 L2574.23,304.63 L2576.99,305.84 L2579.74,307.02 L2582.50,308.16 L2585.25,309.26 L2588.01,310.32 L2590.76,311.34 L2593.52,312.33 L2596.27,313.29 L2599.03,314.21 L2601.78,315.10 L2604.54,315.95 L2607.30,316.77 L2610.05,317.56 L2612.80,318.32 L2615.56,319.04 L2618.31,319.74 L2621.07,320.40 L2623.82,321.04 L2626.58,321.64 L2629.34,322.22 L2632.09,322.77 L2634.84,323.29 L2637.60,323.79 L2640.35,324.25 L2643.11,324.69 L2645.86,325.11 L2648.62,325.49 L2651.38,325.86 L2654.13,326.19 L2656.88,326.51 L2659.64,326.79 L2662.39,327.06 L2665.15,327.30 L2667.90,327.51 L2670.66,327.71 L2673.41,327.88 L2676.17,328.02 L2678.92,328.15 L2681.68,328.25 L2684.43,328.33 L2687.19,328.38 L2689.94,328.42 L2692.70,328.43" fill="none" stroke="#2828c8" stroke-width="1.5"/><line x1="2639.8" y1="101.2" x2="2680" y2="101.2" stroke="#2828c8" stroke-width="1.5"/><line x1="2639.8" y1="125.7" x2="2680" y2="125.7" stroke="#d42a2a" stroke-width="1.4" stroke-dasharray="3,2"/></svg>
<div class="t" style="left:2628.7px;top:99.71px;font-size:14.5px;transform:translateX(-100%);letter-spacing:0.6px"><span class="fr tf"><span class="n">d<i>F</i></span><span class="d">d<i>U</i></span></span>(0) = 2<span class="fr tf"><span class="n"><i>B</i><sub>1</sub><i>A</i><sub>0</sub>−<i>A</i><sub>1</sub></span><span class="d"><i>A</i><sup>2</sup><sub style="margin-left:-5px">0</sub></span></span></div>
<div class="t" style="left:2628.7px;top:123.71px;font-size:14.5px;transform:translateX(-100%);letter-spacing:0.6px"><i>F</i>(0) = <span class="fr tf"><span class="n">2</span><span class="d"><i>A</i><sub>0</sub></span></span></div>
<div class="t rot" style="left:2373px;top:211px;font-size:13px;letter-spacing:0.2px"><i>F</i>(0), <span class="fr tf"><span class="n">d<i>F</i></span><span class="d">d<i>U</i></span></span>(0)</div>
<div class="t" style="left:2555px;top:380.61px;font-size:13px;transform:translateX(-50%)"><i>θ</i></div>
<div class="t s j" style="left:1936.0px;top:707.01px;width:371.0px;letter-spacing:0.650px;"><span>FIG. 1: The function <i>F</i>(<i>U</i>) ≡ −<i>U</i><sup>2</sup> ln(|<i>E</i>|<i>Md</i><sup>2</sup><i>/</i>(2<i>ħ</i><sup>2</sup>)) for dif-</span></div>
<div class="t s j" style="left:1936.0px;top:722.91px;width:371.0px;letter-spacing:0.570px;"><span>ferent polarization angles <i>θ</i>. The dashed curves are calculated</span></div>
<div class="t s" style="left:1936.0px;top:738.81px;letter-spacing:0.650px;"><span>numerically and the solid lines are from Eq. (18).</span></div>
<div class="t j" style="left:1936.0px;top:793.77px;width:371.0px;letter-spacing:0.570px;"><span>expressed as definite integrals. The energy for <i>θ</i> = <i>π/</i>2</span></div>
<div class="t j" style="left:1936.0px;top:811.90px;width:371.0px;letter-spacing:0.444px;"><span>has been considered in recent studies [14–16]. While our</span></div>
<div class="t j" style="left:1936.0px;top:830.03px;width:371.0px;letter-spacing:0.570px;"><span>result is in agreement with Ref.&nbsp; [16] to second order,</span></div>
<div class="t j" style="left:1936.0px;top:848.16px;width:371.0px;letter-spacing:0.544px;"><span>the approximation in Ref. [15] deviates from our results</span></div>
<div class="t j" style="left:1936.0px;top:866.29px;width:371.0px;letter-spacing:0.570px;"><span>in Eq. (18) in first order through the <i>A</i><sub>1</sub>-term. We give</span></div>
<div class="t j" style="left:1936.0px;top:884.42px;width:371.0px;letter-spacing:0.570px;"><span>more details on the generalization to arbitrary polariza-</span></div>
<div class="t" style="left:1936.0px;top:902.55px;letter-spacing:0.570px;"><span>tion directions in [19].</span></div>
<div class="t j" style="left:1952.0px;top:922.37px;width:355.0px;letter-spacing:0.570px;"><span><i>Properties of weakly-bound states.</i>&nbsp;&nbsp;&nbsp; The energy ap-</span></div>
<div class="t j" style="left:1936.0px;top:940.50px;width:371.0px;letter-spacing:0.570px;"><span>proaches zero extremely fast with vanishing strength,</span></div>
<div class="t j" style="left:1936.0px;top:958.63px;width:371.0px;letter-spacing:0.405px;"><span>where the wave function only depends on binding energy</span></div>
<div class="t j" style="left:1936.0px;top:976.76px;width:371.0px;letter-spacing:0.570px;"><span>through the modified Bessel function, <i>K</i><sub>0</sub>(|<i>α</i>|<i>s</i>). The rate</span></div>
<div class="t j" style="left:1936.0px;top:994.89px;width:371.0px;letter-spacing:0.459px;"><span>of convergence towards these universal characteristics is</span></div>
<div class="t j" style="left:1936.0px;top:1013.02px;width:371.0px;letter-spacing:0.570px;"><span>less clear. We therefore designed a numerical method to</span></div>
<div class="t" style="left:1936.0px;top:1031.15px;letter-spacing:0.570px;"><span>investigate these structures, see [19] for more details.</span></div>
<div class="t j" style="left:1952.0px;top:1050.87px;width:355.0px;letter-spacing:0.570px;"><span>The reduced energy, |<i>α</i><sup>2</sup>|, is about 10<sup>−3</sup> − 10<sup>−6</sup> when</span></div>
<div class="t j" style="left:1936.0px;top:1069.00px;width:371.0px;letter-spacing:0.570px;"><span><i>U</i> ≈ 1, and the numerical results in Fig. 1 are not easily</span></div>
<div class="t j" style="left:1936.0px;top:1087.13px;width:371.0px;letter-spacing:0.570px;"><span>obtained due to the exponential square dependence on</span></div>
<div class="t s j" style="left:2334.0px;top:401.41px;width:371.0px;letter-spacing:0.650px;"><span>FIG. 2: The value (dashed) and the derivative (solid) with</span></div>
<div class="t s j" style="left:2334.0px;top:417.21px;width:371.0px;letter-spacing:0.650px;"><span>respect to U of the function, <i>F</i>(<i>U</i>) = −<i>U</i><sup>2</sup> ln(|<i>E</i>|<i>Md</i><sup>2</sup><i>/</i>(2<i>ħ</i><sup>2</sup>)),</span></div>
<div class="t s" style="left:2334.0px;top:433.01px;letter-spacing:0.650px;"><span>for <i>U</i> = 0 as functions of polarization angle.</span></div>
<div class="t j" style="left:2335.0px;top:486.47px;width:371.0px;letter-spacing:0.570px;"><span><i>U</i>.&nbsp; We approach numerically the analytic straight line</span></div>
<div class="t j" style="left:2335.0px;top:504.60px;width:371.0px;letter-spacing:0.271px;"><span>for small <i>U</i>, and find a very satisfying agreement for all <i>θ</i>.</span></div>
<div class="t j" style="left:2335.0px;top:522.73px;width:371.0px;letter-spacing:0.570px;"><span>We note that the omitted second order correction terms</span></div>
<div class="t j" style="left:2335.0px;top:540.86px;width:371.0px;letter-spacing:0.501px;"><span>in Eq. (18) quickly, <i>U</i> ≈ 0.5, become significant in order</span></div>
<div class="t" style="left:2335.0px;top:558.99px;letter-spacing:0.570px;"><span>to reproduce the parabolic behavior found numerically.</span></div>
<div class="t j" style="left:2351.0px;top:577.87px;width:355.0px;letter-spacing:0.570px;"><span>The binding energy is from Fig. 1 seen to increase or</span></div>
<div class="t j" style="left:2335.0px;top:596.00px;width:371.0px;letter-spacing:0.570px;"><span>decrease with increasing <i>θ</i> for negative or positive <i>U</i>,</span></div>
<div class="t j" style="left:2335.0px;top:614.13px;width:371.0px;letter-spacing:0.570px;"><span>repectively.&nbsp;&nbsp; This exponential variation with <i>θ</i>, deter-</span></div>
<div class="t j" style="left:2335.0px;top:632.26px;width:371.0px;letter-spacing:0.570px;"><span>mined by 2<i>/A</i><sub>0</sub>, is shown in Fig. 2 in the limit <i>U</i> <span class=ar>→</span> 0.</span></div>
<div class="t j" style="left:2335.0px;top:650.39px;width:371.0px;letter-spacing:0.570px;"><span>The approach to <i>U</i> = 0 also varies strongly with <i>θ</i> as</span></div>
<div class="t j" style="left:2335.0px;top:668.52px;width:371.0px;letter-spacing:0.380px;"><span>illustrated in Fig. 2 by the slope which even changes sign</span></div>
<div class="t" style="left:2335.0px;top:686.65px;letter-spacing:0.570px;"><span>at <i>θ</i> ≈ 0.57.</span></div>
<div class="t j" style="left:2351.0px;top:705.87px;width:355.0px;letter-spacing:0.448px;"><span>The structure of the wave function is revealed through</span></div>
<div class="t j" style="left:2335.0px;top:724.00px;width:371.0px;letter-spacing:0.570px;"><span>the radial components, <i>f<sub>m</sub></i>, in Eq. (2).&nbsp; In the universal</span></div>
<div class="t j" style="left:2335.0px;top:742.13px;width:371.0px;letter-spacing:0.570px;"><span>weak binding limit, <i>U</i> <span class=ar>→</span> 0, the <i>m</i> = 0 solution, <i>K</i><sub>0</sub>, is</span></div>
<div class="t j" style="left:2335.0px;top:760.26px;width:371.0px;letter-spacing:0.494px;"><span>approached for all anisotropic potentials. This feature of</span></div>
<div class="t j" style="left:2335.0px;top:778.39px;width:371.0px;letter-spacing:0.335px;"><span>universality is reached by smearing out the wave function</span></div>
<div class="t j" style="left:2335.0px;top:796.52px;width:371.0px;letter-spacing:0.570px;"><span>over an ever increasing part of space.&nbsp; Outside of the</span></div>
<div class="t j" style="left:2335.0px;top:814.65px;width:371.0px;letter-spacing:0.347px;"><span>potential, there emerges a avery small and slowly varying</span></div>
<div class="t j" style="left:2335.0px;top:832.78px;width:371.0px;letter-spacing:0.570px;"><span>wave function whereas the contours of the potential are</span></div>
<div class="t j" style="left:2335.0px;top:850.91px;width:371.0px;letter-spacing:0.357px;"><span>seen at smaller distances. This variation is found even for</span></div>
<div class="t j" style="left:2335.0px;top:869.04px;width:371.0px;letter-spacing:0.570px;"><span>very small <i>U</i>, since the behavior near <i>r</i> = 0 is essential</span></div>
<div class="t" style="left:2335.0px;top:887.17px;letter-spacing:0.570px;"><span>to provide binding.</span></div>
<div class="t j" style="left:2351.0px;top:906.87px;width:355.0px;letter-spacing:0.500px;"><span>The convergence of the wave function towards <i>K</i><sub>0</sub> im-</span></div>
<div class="t j" style="left:2335.0px;top:925.04px;width:371.0px;letter-spacing:0.570px;"><span>plies that that the mean square radius in the limit is in-</span></div>
<div class="t j" style="left:2335.0px;top:943.21px;width:371.0px;letter-spacing:0.570px;"><span>versely proportional to the energy, <span class="abw"><svg class="ab" width="5" height="15" viewBox="0 0 5 15"><polyline points="4.3,0.5 0.8,7.5 4.3,14.5" fill="none" stroke="#333" stroke-width="0.9"/></svg></span><i>r</i><sup>2</sup><span class="abw"><svg class="ab" width="5" height="15" viewBox="0 0 5 15"><polyline points="0.7,0.5 4.2,7.5 0.7,14.5" fill="none" stroke="#333" stroke-width="0.9"/></svg></span> = 2<i>ħ</i><sup>2</sup><i>/</i>(3<i>M</i>|<i>E</i>|),</span></div>
<div class="t j" style="left:2335.0px;top:961.38px;width:371.0px;letter-spacing:0.570px;"><span>as shown in [20] and illustrated in Fig. 3.&nbsp; The limit is</span></div>
<div class="t j" style="left:2335.0px;top:979.55px;width:371.0px;letter-spacing:0.338px;"><span>approached from above or below depending on the poten-</span></div>
<div class="t j" style="left:2335.0px;top:997.72px;width:371.0px;letter-spacing:0.570px;"><span>tial. A large barrier, (as for <i>U</i> > 0<i>, θ</i> = <i>π/</i>2), confines the</span></div>
<div class="t j" style="left:2335.0px;top:1015.89px;width:371.0px;letter-spacing:0.570px;"><span>wave function to small distances even when the energy</span></div>
<div class="t j" style="left:2335.0px;top:1034.06px;width:371.0px;letter-spacing:0.560px;"><span>is relatively close to the threshold. However, eventually</span></div>
<div class="t j" style="left:2335.0px;top:1052.23px;width:371.0px;letter-spacing:0.570px;"><span>the wave function leaks out and the limit is approached</span></div>
<div class="t j" style="left:2335.0px;top:1070.40px;width:371.0px;letter-spacing:0.570px;"><span>from below.&nbsp; For <i>U</i> < 0<i>, θ</i> ≈ <i>π/</i>2 the barrier is absent</span></div>
<div class="t j" style="left:2335.0px;top:1088.57px;width:371.0px;letter-spacing:0.570px;"><span>and the approach for <i>E</i> <span class=ar>→</span> 0 is from above.&nbsp; Approach</span></div>
<div class="t" style="left:3632.0px;top:50.87px;transform:translateX(-100%);letter-spacing:0.3px">4</div>
<svg style="left:0;top:0" width="4635" height="1200" viewBox="0 0 4635 1200"><line x1="3015.3" y1="210.4" x2="3221.3" y2="210.4" stroke="#999" stroke-width="1" stroke-dasharray="1.5,2.5"/><line x1="2955.3" y1="373.2" x2="3221.3" y2="373.2" stroke="#555" stroke-width="0.8" stroke-dasharray="5,2,1,2"/><line x1="2955.3" y1="262.34" x2="2957.8" y2="262.34" stroke="#2a2a2a" stroke-width="1"/><line x1="3221.3" y1="262.34" x2="3218.8" y2="262.34" stroke="#2a2a2a" stroke-width="1"/><line x1="2955.3" y1="255.28" x2="2957.8" y2="255.28" stroke="#2a2a2a" stroke-width="1"/><line x1="3221.3" y1="255.28" x2="3218.8" y2="255.28" stroke="#2a2a2a" stroke-width="1"/><line x1="2955.3" y1="248.22" x2="2957.8" y2="248.22" stroke="#2a2a2a" stroke-width="1"/><line x1="3221.3" y1="248.22" x2="3218.8" y2="248.22" stroke="#2a2a2a" stroke-width="1"/><line x1="2955.3" y1="241.16" x2="2957.8" y2="241.16" stroke="#2a2a2a" stroke-width="1"/><line x1="3221.3" y1="241.16" x2="3218.8" y2="241.16" stroke="#2a2a2a" stroke-width="1"/><line x1="2955.3" y1="234.10" x2="2959.8" y2="234.10" stroke="#2a2a2a" stroke-width="1"/><line x1="3221.3" y1="234.10" x2="3216.8" y2="234.10" stroke="#2a2a2a" stroke-width="1"/><text x="2948.30" y="238.30" text-anchor="end" style="font-size:13.5px;font-family:'Liberation Serif',serif;letter-spacing:0.5px;" fill="#222">0.3</text><line x1="2955.3" y1="227.04" x2="2957.8" y2="227.04" stroke="#2a2a2a" stroke-width="1"/><line x1="3221.3" y1="227.04" x2="3218.8" y2="227.04" stroke="#2a2a2a" stroke-width="1"/><line x1="2955.3" y1="219.98" x2="2957.8" y2="219.98" stroke="#2a2a2a" stroke-width="1"/><line x1="3221.3" y1="219.98" x2="3218.8" y2="219.98" stroke="#2a2a2a" stroke-width="1"/><line x1="2955.3" y1="212.92" x2="2957.8" y2="212.92" stroke="#2a2a2a" stroke-width="1"/><line x1="3221.3" y1="212.92" x2="3218.8" y2="212.92" stroke="#2a2a2a" stroke-width="1"/><line x1="2955.3" y1="205.86" x2="2957.8" y2="205.86" stroke="#2a2a2a" stroke-width="1"/><line x1="3221.3" y1="205.86" x2="3218.8" y2="205.86" stroke="#2a2a2a" stroke-width="1"/><line x1="2955.3" y1="198.80" x2="2957.8" y2="198.80" stroke="#2a2a2a" stroke-width="1"/><line x1="3221.3" y1="198.80" x2="3218.8" y2="198.80" stroke="#2a2a2a" stroke-width="1"/><line x1="2955.3" y1="191.74" x2="2957.8" y2="191.74" stroke="#2a2a2a" stroke-width="1"/><line x1="3221.3" y1="191.74" x2="3218.8" y2="191.74" stroke="#2a2a2a" stroke-width="1"/><line x1="2955.3" y1="184.68" x2="2957.8" y2="184.68" stroke="#2a2a2a" stroke-width="1"/><line x1="3221.3" y1="184.68" x2="3218.8" y2="184.68" stroke="#2a2a2a" stroke-width="1"/><line x1="2955.3" y1="177.62" x2="2957.8" y2="177.62" stroke="#2a2a2a" stroke-width="1"/><line x1="3221.3" y1="177.62" x2="3218.8" y2="177.62" stroke="#2a2a2a" stroke-width="1"/><line x1="2955.3" y1="170.56" x2="2957.8" y2="170.56" stroke="#2a2a2a" stroke-width="1"/><line x1="3221.3" y1="170.56" x2="3218.8" y2="170.56" stroke="#2a2a2a" stroke-width="1"/><line x1="2955.3" y1="163.50" x2="2959.8" y2="163.50" stroke="#2a2a2a" stroke-width="1"/><line x1="3221.3" y1="163.50" x2="3216.8" y2="163.50" stroke="#2a2a2a" stroke-width="1"/><text x="2948.30" y="167.70" text-anchor="end" style="font-size:13.5px;font-family:'Liberation Serif',serif;letter-spacing:0.5px;" fill="#222">0.4</text><line x1="2955.3" y1="156.44" x2="2957.8" y2="156.44" stroke="#2a2a2a" stroke-width="1"/><line x1="3221.3" y1="156.44" x2="3218.8" y2="156.44" stroke="#2a2a2a" stroke-width="1"/><line x1="2955.3" y1="149.38" x2="2957.8" y2="149.38" stroke="#2a2a2a" stroke-width="1"/><line x1="3221.3" y1="149.38" x2="3218.8" y2="149.38" stroke="#2a2a2a" stroke-width="1"/><line x1="2955.3" y1="142.32" x2="2957.8" y2="142.32" stroke="#2a2a2a" stroke-width="1"/><line x1="3221.3" y1="142.32" x2="3218.8" y2="142.32" stroke="#2a2a2a" stroke-width="1"/><line x1="2955.3" y1="135.26" x2="2957.8" y2="135.26" stroke="#2a2a2a" stroke-width="1"/><line x1="3221.3" y1="135.26" x2="3218.8" y2="135.26" stroke="#2a2a2a" stroke-width="1"/><line x1="2955.3" y1="128.20" x2="2957.8" y2="128.20" stroke="#2a2a2a" stroke-width="1"/><line x1="3221.3" y1="128.20" x2="3218.8" y2="128.20" stroke="#2a2a2a" stroke-width="1"/><line x1="2955.3" y1="121.14" x2="2957.8" y2="121.14" stroke="#2a2a2a" stroke-width="1"/><line x1="3221.3" y1="121.14" x2="3218.8" y2="121.14" stroke="#2a2a2a" stroke-width="1"/><line x1="2955.3" y1="114.08" x2="2957.8" y2="114.08" stroke="#2a2a2a" stroke-width="1"/><line x1="3221.3" y1="114.08" x2="3218.8" y2="114.08" stroke="#2a2a2a" stroke-width="1"/><line x1="2955.3" y1="107.02" x2="2957.8" y2="107.02" stroke="#2a2a2a" stroke-width="1"/><line x1="3221.3" y1="107.02" x2="3218.8" y2="107.02" stroke="#2a2a2a" stroke-width="1"/><line x1="2955.3" y1="99.96" x2="2957.8" y2="99.96" stroke="#2a2a2a" stroke-width="1"/><line x1="3221.3" y1="99.96" x2="3218.8" y2="99.96" stroke="#2a2a2a" stroke-width="1"/><line x1="2955.3" y1="92.90" x2="2959.8" y2="92.90" stroke="#2a2a2a" stroke-width="1"/><line x1="3221.3" y1="92.90" x2="3216.8" y2="92.90" stroke="#2a2a2a" stroke-width="1"/><text x="2948.30" y="97.10" text-anchor="end" style="font-size:13.5px;font-family:'Liberation Serif',serif;letter-spacing:0.5px;" fill="#222">0.5</text><line x1="2955.3" y1="85.84" x2="2957.8" y2="85.84" stroke="#2a2a2a" stroke-width="1"/><line x1="3221.3" y1="85.84" x2="3218.8" y2="85.84" stroke="#2a2a2a" stroke-width="1"/><line x1="2955.3" y1="456.50" x2="2959.8" y2="456.50" stroke="#2a2a2a" stroke-width="1"/><line x1="3221.3" y1="456.50" x2="3216.8" y2="456.50" stroke="#2a2a2a" stroke-width="1"/><text x="2948.30" y="460.70" text-anchor="end" style="font-size:13.5px;font-family:'Liberation Serif',serif;letter-spacing:0.5px;" fill="#222">0.3</text><line x1="2955.3" y1="452.33" x2="2957.8" y2="452.33" stroke="#2a2a2a" stroke-width="1"/><line x1="3221.3" y1="452.33" x2="3218.8" y2="452.33" stroke="#2a2a2a" stroke-width="1"/><line x1="2955.3" y1="448.17" x2="2957.8" y2="448.17" stroke="#2a2a2a" stroke-width="1"/><line x1="3221.3" y1="448.17" x2="3218.8" y2="448.17" stroke="#2a2a2a" stroke-width="1"/><line x1="2955.3" y1="444.00" x2="2957.8" y2="444.00" stroke="#2a2a2a" stroke-width="1"/><line x1="3221.3" y1="444.00" x2="3218.8" y2="444.00" stroke="#2a2a2a" stroke-width="1"/><line x1="2955.3" y1="439.84" x2="2957.8" y2="439.84" stroke="#2a2a2a" stroke-width="1"/><line x1="3221.3" y1="439.84" x2="3218.8" y2="439.84" stroke="#2a2a2a" stroke-width="1"/><line x1="2955.3" y1="435.68" x2="2957.8" y2="435.68" stroke="#2a2a2a" stroke-width="1"/><line x1="3221.3" y1="435.68" x2="3218.8" y2="435.68" stroke="#2a2a2a" stroke-width="1"/><line x1="2955.3" y1="431.51" x2="2957.8" y2="431.51" stroke="#2a2a2a" stroke-width="1"/><line x1="3221.3" y1="431.51" x2="3218.8" y2="431.51" stroke="#2a2a2a" stroke-width="1"/><line x1="2955.3" y1="427.34" x2="2957.8" y2="427.34" stroke="#2a2a2a" stroke-width="1"/><line x1="3221.3" y1="427.34" x2="3218.8" y2="427.34" stroke="#2a2a2a" stroke-width="1"/><line x1="2955.3" y1="423.18" x2="2957.8" y2="423.18" stroke="#2a2a2a" stroke-width="1"/><line x1="3221.3" y1="423.18" x2="3218.8" y2="423.18" stroke="#2a2a2a" stroke-width="1"/><line x1="2955.3" y1="419.01" x2="2957.8" y2="419.01" stroke="#2a2a2a" stroke-width="1"/><line x1="3221.3" y1="419.01" x2="3218.8" y2="419.01" stroke="#2a2a2a" stroke-width="1"/><line x1="2955.3" y1="414.85" x2="2959.8" y2="414.85" stroke="#2a2a2a" stroke-width="1"/><line x1="3221.3" y1="414.85" x2="3216.8" y2="414.85" stroke="#2a2a2a" stroke-width="1"/><text x="2948.30" y="419.05" text-anchor="end" style="font-size:13.5px;font-family:'Liberation Serif',serif;letter-spacing:0.5px;" fill="#222">0.4</text><line x1="2955.3" y1="410.69" x2="2957.8" y2="410.69" stroke="#2a2a2a" stroke-width="1"/><line x1="3221.3" y1="410.69" x2="3218.8" y2="410.69" stroke="#2a2a2a" stroke-width="1"/><line x1="2955.3" y1="406.52" x2="2957.8" y2="406.52" stroke="#2a2a2a" stroke-width="1"/><line x1="3221.3" y1="406.52" x2="3218.8" y2="406.52" stroke="#2a2a2a" stroke-width="1"/><line x1="2955.3" y1="402.36" x2="2957.8" y2="402.36" stroke="#2a2a2a" stroke-width="1"/><line x1="3221.3" y1="402.36" x2="3218.8" y2="402.36" stroke="#2a2a2a" stroke-width="1"/><line x1="2955.3" y1="398.19" x2="2957.8" y2="398.19" stroke="#2a2a2a" stroke-width="1"/><line x1="3221.3" y1="398.19" x2="3218.8" y2="398.19" stroke="#2a2a2a" stroke-width="1"/><line x1="2955.3" y1="394.02" x2="2957.8" y2="394.02" stroke="#2a2a2a" stroke-width="1"/><line x1="3221.3" y1="394.02" x2="3218.8" y2="394.02" stroke="#2a2a2a" stroke-width="1"/><line x1="2955.3" y1="389.86" x2="2957.8" y2="389.86" stroke="#2a2a2a" stroke-width="1"/><line x1="3221.3" y1="389.86" x2="3218.8" y2="389.86" stroke="#2a2a2a" stroke-width="1"/><line x1="2955.3" y1="385.69" x2="2957.8" y2="385.69" stroke="#2a2a2a" stroke-width="1"/><line x1="3221.3" y1="385.69" x2="3218.8" y2="385.69" stroke="#2a2a2a" stroke-width="1"/><line x1="2955.3" y1="381.53" x2="2957.8" y2="381.53" stroke="#2a2a2a" stroke-width="1"/><line x1="3221.3" y1="381.53" x2="3218.8" y2="381.53" stroke="#2a2a2a" stroke-width="1"/><line x1="2955.3" y1="377.37" x2="2957.8" y2="377.37" stroke="#2a2a2a" stroke-width="1"/><line x1="3221.3" y1="377.37" x2="3218.8" y2="377.37" stroke="#2a2a2a" stroke-width="1"/><line x1="2955.3" y1="373.20" x2="2959.8" y2="373.20" stroke="#2a2a2a" stroke-width="1"/><line x1="3221.3" y1="373.20" x2="3216.8" y2="373.20" stroke="#2a2a2a" stroke-width="1"/><text x="2948.30" y="377.40" text-anchor="end" style="font-size:13.5px;font-family:'Liberation Serif',serif;letter-spacing:0.5px;" fill="#222">0.5</text><line x1="2955.3" y1="369.03" x2="2957.8" y2="369.03" stroke="#2a2a2a" stroke-width="1"/><line x1="3221.3" y1="369.03" x2="3218.8" y2="369.03" stroke="#2a2a2a" stroke-width="1"/><line x1="2955.3" y1="364.87" x2="2957.8" y2="364.87" stroke="#2a2a2a" stroke-width="1"/><line x1="3221.3" y1="364.87" x2="3218.8" y2="364.87" stroke="#2a2a2a" stroke-width="1"/><line x1="2955.3" y1="360.70" x2="2957.8" y2="360.70" stroke="#2a2a2a" stroke-width="1"/><line x1="3221.3" y1="360.70" x2="3218.8" y2="360.70" stroke="#2a2a2a" stroke-width="1"/><line x1="2955.3" y1="356.54" x2="2957.8" y2="356.54" stroke="#2a2a2a" stroke-width="1"/><line x1="3221.3" y1="356.54" x2="3218.8" y2="356.54" stroke="#2a2a2a" stroke-width="1"/><line x1="2955.3" y1="352.38" x2="2957.8" y2="352.38" stroke="#2a2a2a" stroke-width="1"/><line x1="3221.3" y1="352.38" x2="3218.8" y2="352.38" stroke="#2a2a2a" stroke-width="1"/><line x1="2955.3" y1="348.21" x2="2957.8" y2="348.21" stroke="#2a2a2a" stroke-width="1"/><line x1="3221.3" y1="348.21" x2="3218.8" y2="348.21" stroke="#2a2a2a" stroke-width="1"/><line x1="2955.3" y1="344.05" x2="2957.8" y2="344.05" stroke="#2a2a2a" stroke-width="1"/><line x1="3221.3" y1="344.05" x2="3218.8" y2="344.05" stroke="#2a2a2a" stroke-width="1"/><line x1="2955.3" y1="339.88" x2="2957.8" y2="339.88" stroke="#2a2a2a" stroke-width="1"/><line x1="3221.3" y1="339.88" x2="3218.8" y2="339.88" stroke="#2a2a2a" stroke-width="1"/><line x1="2955.3" y1="335.72" x2="2957.8" y2="335.72" stroke="#2a2a2a" stroke-width="1"/><line x1="3221.3" y1="335.72" x2="3218.8" y2="335.72" stroke="#2a2a2a" stroke-width="1"/><line x1="2955.3" y1="331.55" x2="2959.8" y2="331.55" stroke="#2a2a2a" stroke-width="1"/><line x1="3221.3" y1="331.55" x2="3216.8" y2="331.55" stroke="#2a2a2a" stroke-width="1"/><text x="2948.30" y="335.75" text-anchor="end" style="font-size:13.5px;font-family:'Liberation Serif',serif;letter-spacing:0.5px;" fill="#222">0.6</text><line x1="2955.3" y1="327.38" x2="2957.8" y2="327.38" stroke="#2a2a2a" stroke-width="1"/><line x1="3221.3" y1="327.38" x2="3218.8" y2="327.38" stroke="#2a2a2a" stroke-width="1"/><line x1="2955.3" y1="323.22" x2="2957.8" y2="323.22" stroke="#2a2a2a" stroke-width="1"/><line x1="3221.3" y1="323.22" x2="3218.8" y2="323.22" stroke="#2a2a2a" stroke-width="1"/><line x1="2955.3" y1="319.06" x2="2957.8" y2="319.06" stroke="#2a2a2a" stroke-width="1"/><line x1="3221.3" y1="319.06" x2="3218.8" y2="319.06" stroke="#2a2a2a" stroke-width="1"/><line x1="2955.3" y1="314.89" x2="2957.8" y2="314.89" stroke="#2a2a2a" stroke-width="1"/><line x1="3221.3" y1="314.89" x2="3218.8" y2="314.89" stroke="#2a2a2a" stroke-width="1"/><line x1="2955.3" y1="310.72" x2="2957.8" y2="310.72" stroke="#2a2a2a" stroke-width="1"/><line x1="3221.3" y1="310.72" x2="3218.8" y2="310.72" stroke="#2a2a2a" stroke-width="1"/><line x1="2955.3" y1="306.56" x2="2957.8" y2="306.56" stroke="#2a2a2a" stroke-width="1"/><line x1="3221.3" y1="306.56" x2="3218.8" y2="306.56" stroke="#2a2a2a" stroke-width="1"/><line x1="2955.3" y1="302.39" x2="2957.8" y2="302.39" stroke="#2a2a2a" stroke-width="1"/><line x1="3221.3" y1="302.39" x2="3218.8" y2="302.39" stroke="#2a2a2a" stroke-width="1"/><line x1="2955.3" y1="298.23" x2="2957.8" y2="298.23" stroke="#2a2a2a" stroke-width="1"/><line x1="3221.3" y1="298.23" x2="3218.8" y2="298.23" stroke="#2a2a2a" stroke-width="1"/><line x1="2955.3" y1="294.06" x2="2957.8" y2="294.06" stroke="#2a2a2a" stroke-width="1"/><line x1="3221.3" y1="294.06" x2="3218.8" y2="294.06" stroke="#2a2a2a" stroke-width="1"/><line x1="2955.3" y1="289.90" x2="2959.8" y2="289.90" stroke="#2a2a2a" stroke-width="1"/><line x1="3221.3" y1="289.90" x2="3216.8" y2="289.90" stroke="#2a2a2a" stroke-width="1"/><text x="2948.30" y="294.10" text-anchor="end" style="font-size:13.5px;font-family:'Liberation Serif',serif;letter-spacing:0.5px;" fill="#222">0.7</text><line x1="2955.3" y1="285.74" x2="2957.8" y2="285.74" stroke="#2a2a2a" stroke-width="1"/><line x1="3221.3" y1="285.74" x2="3218.8" y2="285.74" stroke="#2a2a2a" stroke-width="1"/><line x1="2955.3" y1="281.57" x2="2957.8" y2="281.57" stroke="#2a2a2a" stroke-width="1"/><line x1="3221.3" y1="281.57" x2="3218.8" y2="281.57" stroke="#2a2a2a" stroke-width="1"/><line x1="2955.3" y1="277.40" x2="2957.8" y2="277.40" stroke="#2a2a2a" stroke-width="1"/><line x1="3221.3" y1="277.40" x2="3218.8" y2="277.40" stroke="#2a2a2a" stroke-width="1"/><line x1="2955.3" y1="273.24" x2="2957.8" y2="273.24" stroke="#2a2a2a" stroke-width="1"/><line x1="3221.3" y1="273.24" x2="3218.8" y2="273.24" stroke="#2a2a2a" stroke-width="1"/><line x1="2955.98" y1="78.8" x2="2955.98" y2="81.3" stroke="#2a2a2a" stroke-width="1"/><line x1="2955.98" y1="459.6" x2="2955.98" y2="457.1" stroke="#2a2a2a" stroke-width="1"/><line x1="2955.98" y1="266.9" x2="2955.98" y2="271.9" stroke="#2a2a2a" stroke-width="1"/><line x1="2960.67" y1="78.8" x2="2960.67" y2="81.3" stroke="#2a2a2a" stroke-width="1"/><line x1="2960.67" y1="459.6" x2="2960.67" y2="457.1" stroke="#2a2a2a" stroke-width="1"/><line x1="2960.67" y1="266.9" x2="2960.67" y2="271.9" stroke="#2a2a2a" stroke-width="1"/><line x1="2964.63" y1="78.8" x2="2964.63" y2="81.3" stroke="#2a2a2a" stroke-width="1"/><line x1="2964.63" y1="459.6" x2="2964.63" y2="457.1" stroke="#2a2a2a" stroke-width="1"/><line x1="2964.63" y1="266.9" x2="2964.63" y2="271.9" stroke="#2a2a2a" stroke-width="1"/><line x1="2968.06" y1="78.8" x2="2968.06" y2="81.3" stroke="#2a2a2a" stroke-width="1"/><line x1="2968.06" y1="459.6" x2="2968.06" y2="457.1" stroke="#2a2a2a" stroke-width="1"/><line x1="2968.06" y1="266.9" x2="2968.06" y2="271.9" stroke="#2a2a2a" stroke-width="1"/><line x1="2971.09" y1="78.8" x2="2971.09" y2="81.3" stroke="#2a2a2a" stroke-width="1"/><line x1="2971.09" y1="459.6" x2="2971.09" y2="457.1" stroke="#2a2a2a" stroke-width="1"/><line x1="2971.09" y1="266.9" x2="2971.09" y2="271.9" stroke="#2a2a2a" stroke-width="1"/><line x1="2973.80" y1="78.8" x2="2973.80" y2="83.3" stroke="#2a2a2a" stroke-width="1"/><line x1="2973.80" y1="459.6" x2="2973.80" y2="455.1" stroke="#2a2a2a" stroke-width="1"/><line x1="2973.80" y1="264.9" x2="2973.80" y2="273.9" stroke="#2a2a2a" stroke-width="1"/><line x1="2991.62" y1="78.8" x2="2991.62" y2="81.3" stroke="#2a2a2a" stroke-width="1"/><line x1="2991.62" y1="459.6" x2="2991.62" y2="457.1" stroke="#2a2a2a" stroke-width="1"/><line x1="2991.62" y1="266.9" x2="2991.62" y2="271.9" stroke="#2a2a2a" stroke-width="1"/><line x1="3002.05" y1="78.8" x2="3002.05" y2="81.3" stroke="#2a2a2a" stroke-width="1"/><line x1="3002.05" y1="459.6" x2="3002.05" y2="457.1" stroke="#2a2a2a" stroke-width="1"/><line x1="3002.05" y1="266.9" x2="3002.05" y2="271.9" stroke="#2a2a2a" stroke-width="1"/><line x1="3009.44" y1="78.8" x2="3009.44" y2="81.3" stroke="#2a2a2a" stroke-width="1"/><line x1="3009.44" y1="459.6" x2="3009.44" y2="457.1" stroke="#2a2a2a" stroke-width="1"/><line x1="3009.44" y1="266.9" x2="3009.44" y2="271.9" stroke="#2a2a2a" stroke-width="1"/><line x1="3015.18" y1="78.8" x2="3015.18" y2="81.3" stroke="#2a2a2a" stroke-width="1"/><line x1="3015.18" y1="459.6" x2="3015.18" y2="457.1" stroke="#2a2a2a" stroke-width="1"/><line x1="3015.18" y1="266.9" x2="3015.18" y2="271.9" stroke="#2a2a2a" stroke-width="1"/><line x1="3019.87" y1="78.8" x2="3019.87" y2="81.3" stroke="#2a2a2a" stroke-width="1"/><line x1="3019.87" y1="459.6" x2="3019.87" y2="457.1" stroke="#2a2a2a" stroke-width="1"/><line x1="3019.87" y1="266.9" x2="3019.87" y2="271.9" stroke="#2a2a2a" stroke-width="1"/><line x1="3023.83" y1="78.8" x2="3023.83" y2="81.3" stroke="#2a2a2a" stroke-width="1"/><line x1="3023.83" y1="459.6" x2="3023.83" y2="457.1" stroke="#2a2a2a" stroke-width="1"/><line x1="3023.83" y1="266.9" x2="3023.83" y2="271.9" stroke="#2a2a2a" stroke-width="1"/><line x1="3027.26" y1="78.8" x2="3027.26" y2="81.3" stroke="#2a2a2a" stroke-width="1"/><line x1="3027.26" y1="459.6" x2="3027.26" y2="457.1" stroke="#2a2a2a" stroke-width="1"/><line x1="3027.26" y1="266.9" x2="3027.26" y2="271.9" stroke="#2a2a2a" stroke-width="1"/><line x1="3030.29" y1="78.8" x2="3030.29" y2="81.3" stroke="#2a2a2a" stroke-width="1"/><line x1="3030.29" y1="459.6" x2="3030.29" y2="457.1" stroke="#2a2a2a" stroke-width="1"/><line x1="3030.29" y1="266.9" x2="3030.29" y2="271.9" stroke="#2a2a2a" stroke-width="1"/><line x1="3033.00" y1="78.8" x2="3033.00" y2="83.3" stroke="#2a2a2a" stroke-width="1"/><line x1="3033.00" y1="459.6" x2="3033.00" y2="455.1" stroke="#2a2a2a" stroke-width="1"/><line x1="3033.00" y1="264.9" x2="3033.00" y2="273.9" stroke="#2a2a2a" stroke-width="1"/><line x1="3050.82" y1="78.8" x2="3050.82" y2="81.3" stroke="#2a2a2a" stroke-width="1"/><line x1="3050.82" y1="459.6" x2="3050.82" y2="457.1" stroke="#2a2a2a" stroke-width="1"/><line x1="3050.82" y1="266.9" x2="3050.82" y2="271.9" stroke="#2a2a2a" stroke-width="1"/><line x1="3061.25" y1="78.8" x2="3061.25" y2="81.3" stroke="#2a2a2a" stroke-width="1"/><line x1="3061.25" y1="459.6" x2="3061.25" y2="457.1" stroke="#2a2a2a" stroke-width="1"/><line x1="3061.25" y1="266.9" x2="3061.25" y2="271.9" stroke="#2a2a2a" stroke-width="1"/><line x1="3068.64" y1="78.8" x2="3068.64" y2="81.3" stroke="#2a2a2a" stroke-width="1"/><line x1="3068.64" y1="459.6" x2="3068.64" y2="457.1" stroke="#2a2a2a" stroke-width="1"/><line x1="3068.64" y1="266.9" x2="3068.64" y2="271.9" stroke="#2a2a2a" stroke-width="1"/><line x1="3074.38" y1="78.8" x2="3074.38" y2="81.3" stroke="#2a2a2a" stroke-width="1"/><line x1="3074.38" y1="459.6" x2="3074.38" y2="457.1" stroke="#2a2a2a" stroke-width="1"/><line x1="3074.38" y1="266.9" x2="3074.38" y2="271.9" stroke="#2a2a2a" stroke-width="1"/><line x1="3079.07" y1="78.8" x2="3079.07" y2="81.3" stroke="#2a2a2a" stroke-width="1"/><line x1="3079.07" y1="459.6" x2="3079.07" y2="457.1" stroke="#2a2a2a" stroke-width="1"/><line x1="3079.07" y1="266.9" x2="3079.07" y2="271.9" stroke="#2a2a2a" stroke-width="1"/><line x1="3083.03" y1="78.8" x2="3083.03" y2="81.3" stroke="#2a2a2a" stroke-width="1"/><line x1="3083.03" y1="459.6" x2="3083.03" y2="457.1" stroke="#2a2a2a" stroke-width="1"/><line x1="3083.03" y1="266.9" x2="3083.03" y2="271.9" stroke="#2a2a2a" stroke-width="1"/><line x1="3086.46" y1="78.8" x2="3086.46" y2="81.3" stroke="#2a2a2a" stroke-width="1"/><line x1="3086.46" y1="459.6" x2="3086.46" y2="457.1" stroke="#2a2a2a" stroke-width="1"/><line x1="3086.46" y1="266.9" x2="3086.46" y2="271.9" stroke="#2a2a2a" stroke-width="1"/><line x1="3089.49" y1="78.8" x2="3089.49" y2="81.3" stroke="#2a2a2a" stroke-width="1"/><line x1="3089.49" y1="459.6" x2="3089.49" y2="457.1" stroke="#2a2a2a" stroke-width="1"/><line x1="3089.49" y1="266.9" x2="3089.49" y2="271.9" stroke="#2a2a2a" stroke-width="1"/><line x1="3092.20" y1="78.8" x2="3092.20" y2="83.3" stroke="#2a2a2a" stroke-width="1"/><line x1="3092.20" y1="459.6" x2="3092.20" y2="455.1" stroke="#2a2a2a" stroke-width="1"/><line x1="3092.20" y1="264.9" x2="3092.20" y2="273.9" stroke="#2a2a2a" stroke-width="1"/><line x1="3110.02" y1="78.8" x2="3110.02" y2="81.3" stroke="#2a2a2a" stroke-width="1"/><line x1="3110.02" y1="459.6" x2="3110.02" y2="457.1" stroke="#2a2a2a" stroke-width="1"/><line x1="3110.02" y1="266.9" x2="3110.02" y2="271.9" stroke="#2a2a2a" stroke-width="1"/><line x1="3120.45" y1="78.8" x2="3120.45" y2="81.3" stroke="#2a2a2a" stroke-width="1"/><line x1="3120.45" y1="459.6" x2="3120.45" y2="457.1" stroke="#2a2a2a" stroke-width="1"/><line x1="3120.45" y1="266.9" x2="3120.45" y2="271.9" stroke="#2a2a2a" stroke-width="1"/><line x1="3127.84" y1="78.8" x2="3127.84" y2="81.3" stroke="#2a2a2a" stroke-width="1"/><line x1="3127.84" y1="459.6" x2="3127.84" y2="457.1" stroke="#2a2a2a" stroke-width="1"/><line x1="3127.84" y1="266.9" x2="3127.84" y2="271.9" stroke="#2a2a2a" stroke-width="1"/><line x1="3133.58" y1="78.8" x2="3133.58" y2="81.3" stroke="#2a2a2a" stroke-width="1"/><line x1="3133.58" y1="459.6" x2="3133.58" y2="457.1" stroke="#2a2a2a" stroke-width="1"/><line x1="3133.58" y1="266.9" x2="3133.58" y2="271.9" stroke="#2a2a2a" stroke-width="1"/><line x1="3138.27" y1="78.8" x2="3138.27" y2="81.3" stroke="#2a2a2a" stroke-width="1"/><line x1="3138.27" y1="459.6" x2="3138.27" y2="457.1" stroke="#2a2a2a" stroke-width="1"/><line x1="3138.27" y1="266.9" x2="3138.27" y2="271.9" stroke="#2a2a2a" stroke-width="1"/><line x1="3142.23" y1="78.8" x2="3142.23" y2="81.3" stroke="#2a2a2a" stroke-width="1"/><line x1="3142.23" y1="459.6" x2="3142.23" y2="457.1" stroke="#2a2a2a" stroke-width="1"/><line x1="3142.23" y1="266.9" x2="3142.23" y2="271.9" stroke="#2a2a2a" stroke-width="1"/><line x1="3145.66" y1="78.8" x2="3145.66" y2="81.3" stroke="#2a2a2a" stroke-width="1"/><line x1="3145.66" y1="459.6" x2="3145.66" y2="457.1" stroke="#2a2a2a" stroke-width="1"/><line x1="3145.66" y1="266.9" x2="3145.66" y2="271.9" stroke="#2a2a2a" stroke-width="1"/><line x1="3148.69" y1="78.8" x2="3148.69" y2="81.3" stroke="#2a2a2a" stroke-width="1"/><line x1="3148.69" y1="459.6" x2="3148.69" y2="457.1" stroke="#2a2a2a" stroke-width="1"/><line x1="3148.69" y1="266.9" x2="3148.69" y2="271.9" stroke="#2a2a2a" stroke-width="1"/><line x1="3151.40" y1="78.8" x2="3151.40" y2="83.3" stroke="#2a2a2a" stroke-width="1"/><line x1="3151.40" y1="459.6" x2="3151.40" y2="455.1" stroke="#2a2a2a" stroke-width="1"/><line x1="3151.40" y1="264.9" x2="3151.40" y2="273.9" stroke="#2a2a2a" stroke-width="1"/><line x1="3169.22" y1="78.8" x2="3169.22" y2="81.3" stroke="#2a2a2a" stroke-width="1"/><line x1="3169.22" y1="459.6" x2="3169.22" y2="457.1" stroke="#2a2a2a" stroke-width="1"/><line x1="3169.22" y1="266.9" x2="3169.22" y2="271.9" stroke="#2a2a2a" stroke-width="1"/><line x1="3179.65" y1="78.8" x2="3179.65" y2="81.3" stroke="#2a2a2a" stroke-width="1"/><line x1="3179.65" y1="459.6" x2="3179.65" y2="457.1" stroke="#2a2a2a" stroke-width="1"/><line x1="3179.65" y1="266.9" x2="3179.65" y2="271.9" stroke="#2a2a2a" stroke-width="1"/><line x1="3187.04" y1="78.8" x2="3187.04" y2="81.3" stroke="#2a2a2a" stroke-width="1"/><line x1="3187.04" y1="459.6" x2="3187.04" y2="457.1" stroke="#2a2a2a" stroke-width="1"/><line x1="3187.04" y1="266.9" x2="3187.04" y2="271.9" stroke="#2a2a2a" stroke-width="1"/><line x1="3192.78" y1="78.8" x2="3192.78" y2="81.3" stroke="#2a2a2a" stroke-width="1"/><line x1="3192.78" y1="459.6" x2="3192.78" y2="457.1" stroke="#2a2a2a" stroke-width="1"/><line x1="3192.78" y1="266.9" x2="3192.78" y2="271.9" stroke="#2a2a2a" stroke-width="1"/><line x1="3197.47" y1="78.8" x2="3197.47" y2="81.3" stroke="#2a2a2a" stroke-width="1"/><line x1="3197.47" y1="459.6" x2="3197.47" y2="457.1" stroke="#2a2a2a" stroke-width="1"/><line x1="3197.47" y1="266.9" x2="3197.47" y2="271.9" stroke="#2a2a2a" stroke-width="1"/><line x1="3201.43" y1="78.8" x2="3201.43" y2="81.3" stroke="#2a2a2a" stroke-width="1"/><line x1="3201.43" y1="459.6" x2="3201.43" y2="457.1" stroke="#2a2a2a" stroke-width="1"/><line x1="3201.43" y1="266.9" x2="3201.43" y2="271.9" stroke="#2a2a2a" stroke-width="1"/><line x1="3204.86" y1="78.8" x2="3204.86" y2="81.3" stroke="#2a2a2a" stroke-width="1"/><line x1="3204.86" y1="459.6" x2="3204.86" y2="457.1" stroke="#2a2a2a" stroke-width="1"/><line x1="3204.86" y1="266.9" x2="3204.86" y2="271.9" stroke="#2a2a2a" stroke-width="1"/><line x1="3207.89" y1="78.8" x2="3207.89" y2="81.3" stroke="#2a2a2a" stroke-width="1"/><line x1="3207.89" y1="459.6" x2="3207.89" y2="457.1" stroke="#2a2a2a" stroke-width="1"/><line x1="3207.89" y1="266.9" x2="3207.89" y2="271.9" stroke="#2a2a2a" stroke-width="1"/><line x1="3210.60" y1="78.8" x2="3210.60" y2="83.3" stroke="#2a2a2a" stroke-width="1"/><line x1="3210.60" y1="459.6" x2="3210.60" y2="455.1" stroke="#2a2a2a" stroke-width="1"/><line x1="3210.60" y1="264.9" x2="3210.60" y2="273.9" stroke="#2a2a2a" stroke-width="1"/><text x="2973.80" y="482.00" text-anchor="middle" style="font-size:13.5px;font-family:'Liberation Serif',serif;letter-spacing:0.7px;" fill="#222">1e-05</text><text x="3033.00" y="482.00" text-anchor="middle" style="font-size:13.5px;font-family:'Liberation Serif',serif;letter-spacing:0.7px;" fill="#222">1e-04</text><text x="3092.20" y="482.00" text-anchor="middle" style="font-size:13.5px;font-family:'Liberation Serif',serif;letter-spacing:0.7px;" fill="#222">1e-03</text><text x="3151.40" y="482.00" text-anchor="middle" style="font-size:13.5px;font-family:'Liberation Serif',serif;letter-spacing:0.7px;" fill="#222">1e-02</text><text x="3210.60" y="482.00" text-anchor="middle" style="font-size:13.5px;font-family:'Liberation Serif',serif;letter-spacing:0.7px;" fill="#222">1e-01</text><rect x="2955.3" y="78.8" width="266.0" height="380.8" fill="none" stroke="#2a2a2a" stroke-width="1.5"/><line x1="2955.3" y1="269.4" x2="3221.3" y2="269.4" stroke="#2a2a2a" stroke-width="1.5"/><path d="M2957.32,206.96 L2958.70,206.80 L2960.62,206.59 L2962.89,206.34 L2965.32,206.04 L2967.72,205.73 L2969.91,205.39 L2971.90,205.03 L2973.85,204.63 L2975.78,204.21 L2977.69,203.77 L2979.61,203.32 L2981.56,202.87 L2983.56,202.41 L2985.60,201.94 L2987.64,201.45 L2989.67,200.97 L2991.64,200.50 L2993.53,200.04 L2995.32,199.61 L2997.05,199.20 L2998.72,198.80 L3000.36,198.39 L3001.98,197.97 L3003.60,197.52 L3005.23,197.04 L3006.84,196.54 L3008.44,196.02 L3010.02,195.49 L3011.55,194.94 L3013.05,194.37 L3014.48,193.78 L3015.86,193.17 L3017.20,192.54 L3018.53,191.90 L3019.87,191.25 L3021.23,190.59 L3022.63,189.95 L3024.04,189.31 L3025.47,188.66 L3026.89,187.99 L3028.31,187.28 L3029.74,186.50 L3031.14,185.67 L3032.53,184.80 L3033.93,183.88 L3035.33,182.92 L3036.77,181.90 L3038.24,180.83 L3039.75,179.71 L3041.28,178.56 L3042.84,177.35 L3044.43,176.07 L3046.04,174.72 L3047.68,173.27 L3049.32,171.78 L3050.96,170.24 L3052.62,168.63 L3054.34,166.90 L3056.15,164.99 L3058.07,162.88 L3060.12,160.57 L3062.27,158.09 L3064.51,155.45 L3066.82,152.63 L3069.19,149.66 L3071.61,146.51 L3074.08,143.24 L3076.61,139.86 L3079.21,136.32 L3081.86,132.55 L3084.58,128.52 L3087.36,124.16 L3090.37,119.15 L3093.65,113.47 L3097.00,107.53 L3100.19,101.71 L3103.03,96.41 L3105.30,92.04 L3106.95,88.59 L3108.12,85.74 L3108.94,83.42 L3109.51,81.54 L3109.94,80.04 L3110.34,78.82" fill="none" stroke="#4cd64c" stroke-width="1.1" stroke-dasharray="4,2,1,2"/><circle cx="2957.32" cy="206.96" r="2.6" fill="none" stroke="#4cd64c" stroke-width="1"/><circle cx="2969.91" cy="205.39" r="2.6" fill="none" stroke="#4cd64c" stroke-width="1"/><circle cx="2981.56" cy="202.87" r="2.6" fill="none" stroke="#4cd64c" stroke-width="1"/><circle cx="2993.53" cy="200.04" r="2.6" fill="none" stroke="#4cd64c" stroke-width="1"/><circle cx="3003.60" cy="197.52" r="2.6" fill="none" stroke="#4cd64c" stroke-width="1"/><circle cx="3013.05" cy="194.37" r="2.6" fill="none" stroke="#4cd64c" stroke-width="1"/><circle cx="3021.23" cy="190.59" r="2.6" fill="none" stroke="#4cd64c" stroke-width="1"/><circle cx="3029.74" cy="186.50" r="2.6" fill="none" stroke="#4cd64c" stroke-width="1"/><circle cx="3038.24" cy="180.83" r="2.6" fill="none" stroke="#4cd64c" stroke-width="1"/><circle cx="3047.68" cy="173.27" r="2.6" fill="none" stroke="#4cd64c" stroke-width="1"/><circle cx="3058.07" cy="162.88" r="2.6" fill="none" stroke="#4cd64c" stroke-width="1"/><circle cx="3071.61" cy="146.51" r="2.6" fill="none" stroke="#4cd64c" stroke-width="1"/><circle cx="3087.36" cy="124.16" r="2.6" fill="none" stroke="#4cd64c" stroke-width="1"/><circle cx="3105.30" cy="92.04" r="2.6" fill="none" stroke="#4cd64c" stroke-width="1"/><path d="M2957.32,212.32 L2962.27,212.44 L2969.10,212.59 L2977.19,212.77 L2985.95,212.99 L2994.74,213.26 L3002.97,213.58 L3010.86,213.88 L3018.95,214.16 L3027.08,214.48 L3035.10,214.92 L3042.86,215.54 L3050.20,216.41 L3057.15,217.65 L3063.85,219.22 L3070.27,220.98 L3076.44,222.77 L3082.34,224.44 L3087.98,225.86 L3093.22,227.00 L3098.01,227.99 L3102.55,228.87 L3106.99,229.67 L3111.53,230.44 L3116.32,231.21 L3121.39,231.98 L3126.58,232.70 L3131.87,233.39 L3137.20,234.05 L3142.52,234.69 L3147.81,235.30 L3153.26,235.97 L3158.95,236.71 L3164.63,237.43 L3170.08,238.02 L3175.05,238.39 L3179.29,238.45 L3182.66,238.25 L3185.30,237.87 L3187.46,237.27 L3189.38,236.41 L3191.30,235.24 L3193.46,233.73 L3195.83,231.89 L3198.21,229.76 L3200.59,227.33 L3202.96,224.57 L3205.31,221.47 L3207.63,217.98 L3210.08,213.66 L3212.69,208.42 L3215.29,202.83 L3217.68,197.46 L3219.71,192.88 L3221.17,189.65" fill="none" stroke="#4cd64c" stroke-width="1.1" stroke-dasharray="4,2,1,2"/><path d="M2957.32,208.54 L2959.90,208.15 L2963.50,207.63 L2967.75,207.00 L2972.30,206.30 L2976.81,205.54 L2980.93,204.76 L2984.73,203.93 L2988.51,203.03 L2992.25,202.08 L2995.92,201.10 L2999.50,200.10 L3002.97,199.09 L3006.38,198.08 L3009.74,197.04 L3013.01,195.98 L3016.15,194.92 L3019.12,193.85 L3021.86,192.80 L3024.29,191.79 L3026.41,190.84 L3028.36,189.88 L3030.26,188.88 L3032.25,187.77 L3034.46,186.50 L3036.90,185.06 L3039.47,183.49 L3042.13,181.82 L3044.84,180.06 L3047.54,178.26 L3050.20,176.42 L3052.86,174.56 L3055.57,172.66 L3058.27,170.70 L3060.93,168.68 L3063.50,166.60 L3065.94,164.46 L3068.23,162.26 L3070.38,160.02 L3072.44,157.71 L3074.46,155.33 L3076.48,152.86 L3078.54,150.29 L3080.66,147.57 L3082.80,144.69 L3084.93,141.73 L3087.05,138.74 L3089.13,135.80 L3091.13,132.97 L3093.08,130.22 L3094.98,127.49 L3096.84,124.81 L3098.66,122.19 L3100.43,119.65 L3102.15,117.23 L3103.82,114.98 L3105.42,112.89 L3106.97,110.89 L3108.51,108.90 L3110.04,106.84 L3111.60,104.63 L3113.21,102.21 L3114.86,99.62 L3116.52,96.96 L3118.13,94.33 L3119.65,91.81 L3121.05,89.52 L3122.35,87.36 L3123.61,85.23 L3124.78,83.22 L3125.83,81.43 L3126.69,79.93 L3127.34,78.82" fill="none" stroke="#d42a2a" stroke-width="1.1" stroke-dasharray="3,2"/><path d="M2957.32,213.89 L2960.54,213.99 L2965.04,214.14 L2970.34,214.30 L2976.01,214.49 L2981.58,214.67 L2986.60,214.84 L2991.15,214.99 L2995.63,215.14 L3000.00,215.29 L3004.27,215.44 L3008.41,215.61 L3012.42,215.78 L3016.27,215.97 L3019.97,216.17 L3023.56,216.37 L3027.04,216.59 L3030.46,216.81 L3033.83,217.04 L3037.16,217.29 L3040.43,217.55 L3043.63,217.83 L3046.75,218.10 L3049.78,218.37 L3052.72,218.61 L3055.54,218.84 L3058.26,219.06 L3060.89,219.26 L3063.45,219.47 L3065.97,219.67 L3068.46,219.87 L3070.94,220.09 L3073.37,220.32 L3075.76,220.54 L3078.11,220.76 L3080.40,220.96 L3082.63,221.13 L3084.79,221.28 L3086.88,221.40 L3088.91,221.51 L3090.91,221.60 L3092.91,221.68 L3094.91,221.76 L3096.95,221.84 L3098.99,221.91 L3101.03,221.98 L3103.04,222.03 L3105.00,222.07 L3106.88,222.08 L3108.66,222.07 L3110.36,222.04 L3112.01,222.00 L3113.64,221.94 L3115.28,221.86 L3116.95,221.76 L3118.66,221.65 L3120.37,221.53 L3122.09,221.39 L3123.82,221.23 L3125.57,221.04 L3127.34,220.82 L3129.14,220.56 L3130.97,220.27 L3132.81,219.95 L3134.67,219.62 L3136.52,219.27 L3138.36,218.93 L3140.19,218.60 L3142.00,218.29 L3143.81,217.97 L3145.64,217.61 L3147.49,217.21 L3149.38,216.73 L3151.33,216.18 L3153.34,215.59 L3155.37,214.95 L3157.39,214.25 L3159.40,213.48 L3161.35,212.63 L3163.24,211.73 L3165.09,210.78 L3166.92,209.76 L3168.73,208.64 L3170.54,207.41 L3172.37,206.02 L3174.20,204.52 L3176.04,202.93 L3177.88,201.22 L3179.71,199.35 L3181.55,197.29 L3183.39,195.00 L3185.21,192.56 L3187.01,190.02 L3188.82,187.29 L3190.64,184.27 L3192.50,180.89 L3194.41,177.05 L3196.36,172.79 L3198.33,168.19 L3200.33,163.22 L3202.38,157.86 L3204.50,152.09 L3206.69,145.88 L3209.14,138.54 L3211.89,129.95 L3214.70,120.95 L3217.33,112.38 L3219.57,105.08 L3221.17,99.91" fill="none" stroke="#d42a2a" stroke-width="1.1" stroke-dasharray="3,2"/><circle cx="2957.32" cy="213.89" r="2.6" fill="none" stroke="#d42a2a" stroke-width="1"/><circle cx="2986.60" cy="214.84" r="2.6" fill="none" stroke="#d42a2a" stroke-width="1"/><circle cx="3012.42" cy="215.78" r="2.6" fill="none" stroke="#d42a2a" stroke-width="1"/><circle cx="3033.83" cy="217.04" r="2.6" fill="none" stroke="#d42a2a" stroke-width="1"/><circle cx="3052.72" cy="218.61" r="2.6" fill="none" stroke="#d42a2a" stroke-width="1"/><circle cx="3068.46" cy="219.87" r="2.6" fill="none" stroke="#d42a2a" stroke-width="1"/><circle cx="3082.63" cy="221.13" r="2.6" fill="none" stroke="#d42a2a" stroke-width="1"/><circle cx="3094.91" cy="221.76" r="2.6" fill="none" stroke="#d42a2a" stroke-width="1"/><circle cx="3106.88" cy="222.08" r="2.6" fill="none" stroke="#d42a2a" stroke-width="1"/><circle cx="3116.95" cy="221.76" r="2.6" fill="none" stroke="#d42a2a" stroke-width="1"/><circle cx="3127.34" cy="220.82" r="2.6" fill="none" stroke="#d42a2a" stroke-width="1"/><circle cx="3138.36" cy="218.93" r="2.6" fill="none" stroke="#d42a2a" stroke-width="1"/><circle cx="3149.38" cy="216.73" r="2.6" fill="none" stroke="#d42a2a" stroke-width="1"/><circle cx="3161.35" cy="212.63" r="2.6" fill="none" stroke="#d42a2a" stroke-width="1"/><circle cx="3172.37" cy="206.02" r="2.6" fill="none" stroke="#d42a2a" stroke-width="1"/><circle cx="3183.39" cy="195.00" r="2.6" fill="none" stroke="#d42a2a" stroke-width="1"/><circle cx="3194.41" cy="177.05" r="2.6" fill="none" stroke="#d42a2a" stroke-width="1"/><circle cx="3206.69" cy="145.88" r="2.6" fill="none" stroke="#d42a2a" stroke-width="1"/><path d="M3017.14,213.26 L3019.04,213.40 L3021.69,213.60 L3024.82,213.83 L3028.16,214.08 L3031.46,214.32 L3034.46,214.52 L3037.17,214.70 L3039.82,214.86 L3042.43,215.01 L3045.01,215.16 L3047.60,215.31 L3050.20,215.47 L3052.83,215.63 L3055.45,215.79 L3058.07,215.96 L3060.70,216.12 L3063.32,216.27 L3065.94,216.41 L3068.50,216.55 L3070.96,216.69 L3073.42,216.82 L3075.97,216.94 L3078.70,217.01 L3081.69,217.04 L3085.03,217.06 L3088.68,217.08 L3092.51,217.06 L3096.38,216.97 L3100.16,216.77 L3103.73,216.41 L3107.13,215.90 L3110.49,215.26 L3113.76,214.50 L3116.91,213.65 L3119.87,212.70 L3122.62,211.69 L3125.08,210.67 L3127.28,209.65 L3129.31,208.54 L3131.25,207.26 L3133.19,205.71 L3135.21,203.82 L3137.31,201.57 L3139.41,199.03 L3141.51,196.24 L3143.61,193.20 L3145.71,189.95 L3147.81,186.50 L3149.87,182.87 L3151.89,179.04 L3153.91,174.99 L3155.97,170.70 L3158.12,166.15 L3160.40,161.31 L3162.84,156.08 L3165.42,150.46 L3168.08,144.58 L3170.78,138.57 L3173.49,132.56 L3176.15,126.68 L3178.85,120.65 L3181.65,114.34 L3184.45,108.02 L3187.15,102.00 L3189.67,96.57 L3191.89,92.04 L3193.86,88.44 L3195.67,85.56 L3197.28,83.26 L3198.68,81.45 L3199.83,80.01 L3200.71,78.82" fill="none" stroke="#2828c8" stroke-width="1.2"/><path d="M3001.40,210.43 L3002.43,210.36 L3003.87,210.26 L3005.57,210.15 L3007.39,210.03 L3009.20,209.91 L3010.84,209.80 L3012.35,209.69 L3013.84,209.59 L3015.31,209.48 L3016.77,209.38 L3018.22,209.27 L3019.66,209.17 L3021.10,209.06 L3022.54,208.96 L3023.97,208.85 L3025.39,208.75 L3026.78,208.64 L3028.16,208.54 L3029.51,208.44 L3030.83,208.34 L3032.14,208.24 L3033.43,208.14 L3034.73,208.03 L3036.03,207.91 L3037.34,207.77 L3038.66,207.63 L3039.97,207.48 L3041.28,207.31 L3042.59,207.14 L3043.90,206.96 L3045.22,206.78 L3046.53,206.60 L3047.84,206.41 L3049.15,206.21 L3050.46,205.97 L3051.78,205.71 L3053.08,205.40 L3054.38,205.06 L3055.67,204.70 L3056.98,204.32 L3058.30,203.92 L3059.65,203.50 L3061.02,203.07 L3062.42,202.61 L3063.84,202.14 L3065.27,201.66 L3066.71,201.17 L3068.15,200.67 L3069.59,200.17 L3071.02,199.68 L3072.46,199.17 L3073.92,198.65 L3075.42,198.10 L3076.96,197.52 L3078.57,196.91 L3080.24,196.27 L3081.94,195.61 L3083.66,194.92 L3085.36,194.19 L3087.04,193.43 L3088.67,192.62 L3090.27,191.77 L3091.86,190.89 L3093.47,189.97 L3095.10,189.03 L3096.80,188.07 L3098.57,187.09 L3100.39,186.07 L3102.25,185.02 L3104.12,183.96 L3105.99,182.87 L3107.82,181.78 L3109.62,180.67 L3111.39,179.56 L3113.15,178.43 L3114.92,177.27 L3116.71,176.08 L3118.53,174.85 L3120.38,173.58 L3122.27,172.27 L3124.17,170.93 L3126.08,169.55 L3127.98,168.13 L3129.86,166.66 L3131.71,165.14 L3133.52,163.57 L3135.33,161.96 L3137.15,160.31 L3138.99,158.62 L3140.88,156.90 L3142.83,155.16 L3144.83,153.39 L3146.86,151.59 L3148.89,149.74 L3150.90,147.84 L3152.85,145.88 L3154.74,143.85 L3156.60,141.77 L3158.44,139.62 L3160.25,137.44 L3162.06,135.22 L3163.87,132.97 L3165.67,130.71 L3167.47,128.42 L3169.26,126.10 L3171.04,123.74 L3172.81,121.31 L3174.57,118.80 L3176.44,116.01 L3178.44,112.90 L3180.44,109.73 L3182.28,106.76 L3183.84,104.24 L3184.96,102.43" fill="none" stroke="#2828c8" stroke-width="1.2"/><circle cx="3001.40" cy="210.43" r="2.6" fill="none" stroke="#2828c8" stroke-width="1"/><circle cx="3010.84" cy="209.80" r="2.6" fill="none" stroke="#2828c8" stroke-width="1"/><circle cx="3019.66" cy="209.17" r="2.6" fill="none" stroke="#2828c8" stroke-width="1"/><circle cx="3028.16" cy="208.54" r="2.6" fill="none" stroke="#2828c8" stroke-width="1"/><circle cx="3036.03" cy="207.91" r="2.6" fill="none" stroke="#2828c8" stroke-width="1"/><circle cx="3043.90" cy="206.96" r="2.6" fill="none" stroke="#2828c8" stroke-width="1"/><circle cx="3051.78" cy="205.71" r="2.6" fill="none" stroke="#2828c8" stroke-width="1"/><circle cx="3059.65" cy="203.50" r="2.6" fill="none" stroke="#2828c8" stroke-width="1"/><circle cx="3068.15" cy="200.67" r="2.6" fill="none" stroke="#2828c8" stroke-width="1"/><circle cx="3076.96" cy="197.52" r="2.6" fill="none" stroke="#2828c8" stroke-width="1"/><circle cx="3087.04" cy="193.43" r="2.6" fill="none" stroke="#2828c8" stroke-width="1"/><circle cx="3096.80" cy="188.07" r="2.6" fill="none" stroke="#2828c8" stroke-width="1"/><circle cx="3107.82" cy="181.78" r="2.6" fill="none" stroke="#2828c8" stroke-width="1"/><circle cx="3118.53" cy="174.85" r="2.6" fill="none" stroke="#2828c8" stroke-width="1"/><circle cx="3129.86" cy="166.66" r="2.6" fill="none" stroke="#2828c8" stroke-width="1"/><circle cx="3140.88" cy="156.90" r="2.6" fill="none" stroke="#2828c8" stroke-width="1"/><circle cx="3152.85" cy="145.88" r="2.6" fill="none" stroke="#2828c8" stroke-width="1"/><circle cx="3163.87" cy="132.97" r="2.6" fill="none" stroke="#2828c8" stroke-width="1"/><circle cx="3174.57" cy="118.80" r="2.6" fill="none" stroke="#2828c8" stroke-width="1"/><circle cx="3184.96" cy="102.43" r="2.6" fill="none" stroke="#2828c8" stroke-width="1"/><path d="M2955.11,373.35 L2960.51,373.30 L2968.13,373.26 L2977.07,373.19 L2986.46,373.09 L2995.39,372.94 L3002.97,372.72 L3009.17,372.48 L3014.68,372.25 L3019.74,371.97 L3024.57,371.58 L3029.40,371.01 L3034.46,370.20 L3039.71,369.18 L3044.95,368.01 L3050.20,366.66 L3055.45,365.12 L3060.70,363.36 L3065.94,361.39 L3071.19,359.16 L3076.44,356.70 L3081.69,354.03 L3086.94,351.17 L3092.18,348.16 L3097.43,345.01 L3102.68,341.74 L3107.93,338.32 L3113.17,334.74 L3118.42,331.00 L3123.67,327.08 L3128.92,322.97 L3134.20,318.58 L3139.53,313.88 L3144.86,309.00 L3150.14,304.08 L3155.34,299.25 L3160.40,294.63 L3165.64,289.96 L3171.13,285.07 L3176.54,280.27 L3181.51,275.86 L3185.69,272.15 L3188.74,269.45" fill="none" stroke="#d42a2a" stroke-width="1.1" stroke-dasharray="3,2"/><path d="M2955.11,373.35 L2963.47,373.33 L2975.36,373.35 L2989.28,373.35 L3003.72,373.28 L3017.18,373.09 L3028.16,372.72 L3036.57,372.15 L3043.60,371.41 L3049.65,370.56 L3055.12,369.62 L3060.42,368.65 L3065.94,367.68 L3071.56,366.74 L3076.91,365.79 L3082.08,364.81 L3087.17,363.76 L3092.26,362.63 L3097.43,361.39 L3102.68,360.05 L3107.93,358.64 L3113.17,357.15 L3118.42,355.55 L3123.67,353.82 L3128.92,351.94 L3134.16,349.86 L3139.41,347.59 L3144.66,345.19 L3149.91,342.72 L3155.16,340.22 L3160.40,337.77 L3165.68,335.32 L3170.98,332.83 L3176.28,330.31 L3181.56,327.81 L3186.77,325.35 L3191.89,322.97 L3197.24,320.52 L3202.90,317.96 L3208.50,315.44 L3213.66,313.12 L3218.01,311.17 L3221.17,309.75" fill="none" stroke="#2828c8" stroke-width="1.2"/><path d="M3001.40,373.35 L3002.69,373.35 L3004.45,373.35 L3006.55,373.35 L3008.84,373.35 L3011.16,373.35 L3013.36,373.35 L3015.48,373.35 L3017.64,373.35 L3019.84,373.35 L3022.06,373.35 L3024.31,373.35 L3026.59,373.35 L3028.89,373.35 L3031.24,373.36 L3033.61,373.37 L3036.00,373.37 L3038.38,373.37 L3040.76,373.35 L3043.12,373.32 L3045.48,373.27 L3047.84,373.21 L3050.20,373.15 L3052.56,373.09 L3054.92,373.04 L3057.28,372.99 L3059.62,372.95 L3061.97,372.92 L3064.32,372.87 L3066.70,372.81 L3069.09,372.72 L3071.53,372.60 L3074.00,372.45 L3076.49,372.29 L3078.98,372.11 L3081.45,371.94 L3083.89,371.78 L3086.29,371.62 L3088.66,371.47 L3091.02,371.32 L3093.36,371.17 L3095.71,371.01 L3098.06,370.83 L3100.42,370.64 L3102.78,370.45 L3105.14,370.24 L3107.51,370.03 L3109.87,369.80 L3112.23,369.57 L3114.61,369.33 L3117.00,369.07 L3119.39,368.80 L3121.77,368.53 L3124.11,368.26 L3126.40,368.00 L3128.63,367.75 L3130.81,367.51 L3132.95,367.27 L3135.07,367.02 L3137.19,366.74 L3139.31,366.42 L3141.42,366.06 L3143.53,365.67 L3145.62,365.24 L3147.72,364.80 L3149.81,364.35 L3151.90,363.90 L3154.00,363.45 L3156.11,362.99 L3158.22,362.53 L3160.32,362.05 L3162.42,361.56 L3164.50,361.07 L3166.56,360.57 L3168.60,360.08 L3170.64,359.57 L3172.67,359.05 L3174.71,358.50 L3176.78,357.92 L3178.87,357.30 L3181.00,356.64 L3183.13,355.95 L3185.25,355.25 L3187.34,354.54 L3189.37,353.83 L3191.32,353.12 L3193.20,352.42 L3195.04,351.70 L3196.88,350.97 L3198.76,350.21 L3200.71,349.42 L3202.79,348.56 L3204.99,347.65 L3207.22,346.70 L3209.40,345.77 L3211.46,344.88 L3213.30,344.07 L3214.98,343.30 L3216.56,342.55 L3218.02,341.84 L3219.31,341.21 L3220.37,340.68 L3221.17,340.29" fill="none" stroke="#2828c8" stroke-width="1.2"/><circle cx="3001.40" cy="373.35" r="2.6" fill="none" stroke="#2828c8" stroke-width="1"/><circle cx="3013.36" cy="373.35" r="2.6" fill="none" stroke="#2828c8" stroke-width="1"/><circle cx="3026.59" cy="373.35" r="2.6" fill="none" stroke="#2828c8" stroke-width="1"/><circle cx="3040.76" cy="373.35" r="2.6" fill="none" stroke="#2828c8" stroke-width="1"/><circle cx="3054.92" cy="373.04" r="2.6" fill="none" stroke="#2828c8" stroke-width="1"/><circle cx="3069.09" cy="372.72" r="2.6" fill="none" stroke="#2828c8" stroke-width="1"/><circle cx="3083.89" cy="371.78" r="2.6" fill="none" stroke="#2828c8" stroke-width="1"/><circle cx="3098.06" cy="370.83" r="2.6" fill="none" stroke="#2828c8" stroke-width="1"/><circle cx="3112.23" cy="369.57" r="2.6" fill="none" stroke="#2828c8" stroke-width="1"/><circle cx="3126.40" cy="368.00" r="2.6" fill="none" stroke="#2828c8" stroke-width="1"/><circle cx="3139.31" cy="366.42" r="2.6" fill="none" stroke="#2828c8" stroke-width="1"/><circle cx="3151.90" cy="363.90" r="2.6" fill="none" stroke="#2828c8" stroke-width="1"/><circle cx="3164.50" cy="361.07" r="2.6" fill="none" stroke="#2828c8" stroke-width="1"/><circle cx="3176.78" cy="357.92" r="2.6" fill="none" stroke="#2828c8" stroke-width="1"/><circle cx="3189.37" cy="353.83" r="2.6" fill="none" stroke="#2828c8" stroke-width="1"/><circle cx="3200.71" cy="349.42" r="2.6" fill="none" stroke="#2828c8" stroke-width="1"/><circle cx="3213.30" cy="344.07" r="2.6" fill="none" stroke="#2828c8" stroke-width="1"/><path d="M2955.11,373.35 L2956.76,373.43 L2959.00,373.54 L2961.67,373.66 L2964.63,373.79 L2967.74,373.90 L2970.86,373.98 L2974.10,374.01 L2977.60,374.00 L2981.25,373.98 L2984.93,373.96 L2988.54,373.95 L2991.95,373.98 L2995.17,374.05 L2998.30,374.14 L3001.34,374.26 L3004.33,374.38 L3007.28,374.50 L3010.21,374.61 L3013.17,374.71 L3016.13,374.82 L3019.05,374.92 L3021.90,375.03 L3024.63,375.13 L3027.22,375.24 L3029.61,375.34 L3031.85,375.43 L3033.97,375.51 L3036.02,375.61 L3038.06,375.73 L3040.13,375.87 L3042.21,376.04 L3044.28,376.24 L3046.32,376.46 L3048.36,376.69 L3050.38,376.91 L3052.41,377.13 L3054.42,377.34 L3056.42,377.55 L3058.41,377.76 L3060.39,377.97 L3062.38,378.18 L3064.37,378.39 L3066.36,378.59 L3068.34,378.77 L3070.31,378.96 L3072.30,379.16 L3074.30,379.38 L3076.34,379.65 L3078.39,379.96 L3080.46,380.30 L3082.55,380.67 L3084.66,381.06 L3086.79,381.45 L3088.93,381.85 L3091.08,382.24 L3093.23,382.63 L3095.40,383.03 L3097.61,383.45 L3099.85,383.89 L3102.15,384.37 L3104.51,384.88 L3106.92,385.42 L3109.38,385.98 L3111.87,386.57 L3114.39,387.19 L3116.95,387.83 L3119.54,388.51 L3122.16,389.21 L3124.82,389.94 L3127.52,390.69 L3130.25,391.46 L3133.01,392.24 L3135.81,393.03 L3138.63,393.84 L3141.49,394.66 L3144.39,395.51 L3147.34,396.38 L3150.33,397.28 L3153.38,398.21 L3156.48,399.16 L3159.64,400.13 L3162.82,401.14 L3166.02,402.18 L3169.22,403.26 L3172.41,404.38 L3175.59,405.54 L3178.78,406.73 L3182.02,407.95 L3185.33,409.21 L3188.74,410.50 L3192.40,411.90 L3196.33,413.41 L3200.33,414.95 L3204.20,416.45 L3207.75,417.83 L3210.78,419.01 L3213.31,419.99 L3215.49,420.85 L3217.35,421.58 L3218.91,422.20 L3220.18,422.70 L3221.17,423.10" fill="none" stroke="#d42a2a" stroke-width="1.1" stroke-dasharray="3,2"/><circle cx="2970.86" cy="373.98" r="2.6" fill="none" stroke="#d42a2a" stroke-width="1"/><circle cx="2991.95" cy="373.98" r="2.6" fill="none" stroke="#d42a2a" stroke-width="1"/><circle cx="3010.21" cy="374.61" r="2.6" fill="none" stroke="#d42a2a" stroke-width="1"/><circle cx="3027.22" cy="375.24" r="2.6" fill="none" stroke="#d42a2a" stroke-width="1"/><circle cx="3040.13" cy="375.87" r="2.6" fill="none" stroke="#d42a2a" stroke-width="1"/><circle cx="3052.41" cy="377.13" r="2.6" fill="none" stroke="#d42a2a" stroke-width="1"/><circle cx="3064.37" cy="378.39" r="2.6" fill="none" stroke="#d42a2a" stroke-width="1"/><circle cx="3076.34" cy="379.65" r="2.6" fill="none" stroke="#d42a2a" stroke-width="1"/><circle cx="3088.93" cy="381.85" r="2.6" fill="none" stroke="#d42a2a" stroke-width="1"/><circle cx="3102.15" cy="384.37" r="2.6" fill="none" stroke="#d42a2a" stroke-width="1"/><circle cx="3116.95" cy="387.83" r="2.6" fill="none" stroke="#d42a2a" stroke-width="1"/><circle cx="3133.01" cy="392.24" r="2.6" fill="none" stroke="#d42a2a" stroke-width="1"/><circle cx="3150.33" cy="397.28" r="2.6" fill="none" stroke="#d42a2a" stroke-width="1"/><circle cx="3169.22" cy="403.26" r="2.6" fill="none" stroke="#d42a2a" stroke-width="1"/><circle cx="3188.74" cy="410.50" r="2.6" fill="none" stroke="#d42a2a" stroke-width="1"/><circle cx="3210.78" cy="419.01" r="2.6" fill="none" stroke="#d42a2a" stroke-width="1"/><text x="3014.80" y="108.70" text-anchor="end" style="font-size:13.5px;font-family:'Liberation Serif',serif;letter-spacing:0.9px;" fill="#222"><tspan font-style='italic'>θ</tspan> = π/2</text><line x1="3023.5" y1="105.2" x2="3064.7" y2="105.2" stroke="#4cd64c" stroke-width="1.2" stroke-dasharray="4,2,1,2"/><text x="3014.80" y="132.60" text-anchor="end" style="font-size:13.5px;font-family:'Liberation Serif',serif;letter-spacing:0.9px;" fill="#222"><tspan font-style='italic'>θ</tspan> = π/4</text><line x1="3023.5" y1="129.5" x2="3064.7" y2="129.5" stroke="#2828c8" stroke-width="1.2" /><text x="3014.80" y="156.90" text-anchor="end" style="font-size:13.5px;font-family:'Liberation Serif',serif;letter-spacing:0.9px;" fill="#222"><tspan font-style='italic'>θ</tspan> = 0</text><line x1="3023.5" y1="153.5" x2="3064.7" y2="153.5" stroke="#d42a2a" stroke-width="1.2" stroke-dasharray="3,2"/><text x="3014.80" y="305.70" text-anchor="end" style="font-size:13.5px;font-family:'Liberation Serif',serif;letter-spacing:0.9px;" fill="#222"><tspan font-style='italic'>θ</tspan> = 0</text><line x1="3023.5" y1="301.9" x2="3064.7" y2="301.9" stroke="#d42a2a" stroke-width="1.2" stroke-dasharray="3,2"/><text x="3014.80" y="329.90" text-anchor="end" style="font-size:13.5px;font-family:'Liberation Serif',serif;letter-spacing:0.9px;" fill="#222"><tspan font-style='italic'>θ</tspan> = π/4</text><line x1="3023.5" y1="326.8" x2="3064.7" y2="326.8" stroke="#2828c8" stroke-width="1.2" /></svg>
<div class="t rot" style="left:2891px;top:174px;font-size:14px"><span class="fr "><span class="n">|<i>E</i>|<i>M</i>&lt;<i>r</i><sup>2</sup>&gt;</span><span class="d">2<i>ħ</i><sup>2</sup></span></span></div>
<div class="t rot" style="left:2902px;top:364px;font-size:14px"><span class="fr "><span class="n">&lt;<i>x</i><sup>2</sup>&gt;</span><span class="d">&lt;<i>r</i><sup>2</sup>&gt;</span></span></div>
<div class="t" style="left:3088px;top:499.5px;font-size:13px;transform:translateX(-50%)"><span class="fr "><span class="n">|<i>E</i>|<i>Md</i><sup>2</sup></span><span class="d">2<i>ħ</i><sup>2</sup></span></span></div>
<div class="t s j" style="left:2863.0px;top:516.31px;width:371.0px;letter-spacing:0.650px;"><span>FIG. 3: The upper part is energy times mean square radius,</span></div>
<div class="t s j" style="left:2863.0px;top:532.04px;width:371.0px;letter-spacing:0.650px;"><span><span class="abw"><svg class="ab" width="5" height="15" viewBox="0 0 5 15"><polyline points="4.3,0.5 0.8,7.5 4.3,14.5" fill="none" stroke="#333" stroke-width="0.9"/></svg></span><i>r</i><sup>2</sup><span class="abw"><svg class="ab" width="5" height="15" viewBox="0 0 5 15"><polyline points="0.7,0.5 4.2,7.5 0.7,14.5" fill="none" stroke="#333" stroke-width="0.9"/></svg></span>. The lower part is the ratio of the second moment in the</span></div>
<div class="t s j" style="left:2863.0px;top:547.77px;width:371.0px;letter-spacing:0.650px;"><span><i>x</i>-direction and <span class="abw"><svg class="ab" width="5" height="15" viewBox="0 0 5 15"><polyline points="4.3,0.5 0.8,7.5 4.3,14.5" fill="none" stroke="#333" stroke-width="0.9"/></svg></span><i>r</i><sup>2</sup><span class="abw"><svg class="ab" width="5" height="15" viewBox="0 0 5 15"><polyline points="0.7,0.5 4.2,7.5 0.7,14.5" fill="none" stroke="#333" stroke-width="0.9"/></svg></span> for different polarization angles <i>θ</i>. The</span></div>
<div class="t s j" style="left:2863.0px;top:563.50px;width:371.0px;letter-spacing:0.650px;"><span>energy on the <i>x</i>-axis is obtained by varying the strength <i>U</i></span></div>
<div class="t s j" style="left:2863.0px;top:579.23px;width:371.0px;letter-spacing:0.650px;"><span>around zero, shown for <i>U</i> < 0 and <i>U</i> > 0 as curves with and</span></div>
<div class="t s j" style="left:2863.0px;top:594.96px;width:371.0px;letter-spacing:0.650px;"><span>without points, respectively. The horizontal line at 1/3 is the</span></div>
<div class="t s" style="left:2863.0px;top:610.69px;letter-spacing:0.650px;"><span>universal limit.</span></div>
<div class="t j" style="left:2863.0px;top:664.77px;width:371.0px;letter-spacing:0.570px;"><span>to the universal limit for <i>E</i> <span class=ar>→</span> 0 proves that only <i>m</i> = 0</span></div>
<div class="t j" style="left:2863.0px;top:682.90px;width:371.0px;letter-spacing:0.570px;"><span>waves remain in analogy to halo nuclei in three dimen-</span></div>
<div class="t j" style="left:2863.0px;top:701.03px;width:371.0px;letter-spacing:0.570px;"><span>sions.&nbsp; For much stronger binding <i>E</i><span class="abw"><svg class="ab" width="5" height="15" viewBox="0 0 5 15"><polyline points="4.3,0.5 0.8,7.5 4.3,14.5" fill="none" stroke="#333" stroke-width="0.9"/></svg></span><i>r</i><sup>2</sup><span class="abw"><svg class="ab" width="5" height="15" viewBox="0 0 5 15"><polyline points="0.7,0.5 4.2,7.5 0.7,14.5" fill="none" stroke="#333" stroke-width="0.9"/></svg></span> increases as <i>E</i></span></div>
<div class="t j" style="left:2863.0px;top:719.16px;width:371.0px;letter-spacing:0.570px;"><span>becomes large whereas <span class="abw"><svg class="ab" width="5" height="15" viewBox="0 0 5 15"><polyline points="4.3,0.5 0.8,7.5 4.3,14.5" fill="none" stroke="#333" stroke-width="0.9"/></svg></span><i>r</i><sup>2</sup><span class="abw"><svg class="ab" width="5" height="15" viewBox="0 0 5 15"><polyline points="0.7,0.5 4.2,7.5 0.7,14.5" fill="none" stroke="#333" stroke-width="0.9"/></svg></span> is confined by the radius of</span></div>
<div class="t" style="left:2863.0px;top:737.29px;letter-spacing:0.570px;"><span>the attractive potential.</span></div>
<div class="t j" style="left:2879.0px;top:758.37px;width:355.0px;letter-spacing:0.570px;"><span>Another feature of universality is that the deviation</span></div>
<div class="t j" style="left:2863.0px;top:776.50px;width:371.0px;letter-spacing:0.570px;"><span>from cylindrical symmetry on average disappears when</span></div>
<div class="t j" style="left:2863.0px;top:794.63px;width:371.0px;letter-spacing:0.570px;"><span><i>E</i> <span class=ar>→</span> 0 as shown in Fig. 3.&nbsp; The rate of disappearance</span></div>
<div class="t j" style="left:2863.0px;top:812.76px;width:371.0px;letter-spacing:0.570px;"><span>varies strongly with polarization angle. For <i>θ</i> = <i>π/</i>2 the</span></div>
<div class="t j" style="left:2863.0px;top:830.89px;width:371.0px;letter-spacing:0.464px;"><span>potential itself is already cylindrical, whereas the largest</span></div>
<div class="t j" style="left:2863.0px;top:849.02px;width:371.0px;letter-spacing:0.313px;"><span>deformation of potential and wave function occurs for <i>θ</i> =</span></div>
<div class="t j" style="left:2863.0px;top:867.15px;width:371.0px;letter-spacing:0.481px;"><span>0. Increasing the angle results in less deformation for all</span></div>
<div class="t j" style="left:2863.0px;top:885.28px;width:371.0px;letter-spacing:0.460px;"><span>energies. The elongation is largest along the polarization</span></div>
<div class="t j" style="left:2863.0px;top:903.41px;width:371.0px;letter-spacing:0.570px;"><span>direction for all <i>U</i> > 0. The deformations for <i>U</i> < 0 are</span></div>
<div class="t" style="left:2863.0px;top:921.54px;letter-spacing:0.570px;"><span>much smaller for comparable energies.</span></div>
<div class="t j" style="left:2879.0px;top:940.87px;width:355.0px;letter-spacing:0.570px;"><span><i>Perspectives.</i>&nbsp;&nbsp;&nbsp; The two-body system has to be thor-</span></div>
<div class="t j" style="left:2863.0px;top:959.12px;width:371.0px;letter-spacing:0.570px;"><span>oughly understood to provide a solid ground for extrac-</span></div>
<div class="t j" style="left:2863.0px;top:977.37px;width:371.0px;letter-spacing:0.570px;"><span>tion of properties of the <i>N</i>-body system.&nbsp; We present an</span></div>
<div class="t j" style="left:2863.0px;top:995.62px;width:371.0px;letter-spacing:0.570px;"><span>alternative proof that an arbitrary anisotropic 2D poten-</span></div>
<div class="t j" style="left:2863.0px;top:1013.87px;width:371.0px;letter-spacing:0.570px;"><span>tial with zero net volume has at least one bound state</span></div>
<div class="t j" style="left:2863.0px;top:1032.12px;width:371.0px;letter-spacing:0.489px;"><span>for infinitesimal potential strength and rigorously derive</span></div>
<div class="t j" style="left:2863.0px;top:1050.37px;width:371.0px;letter-spacing:0.475px;"><span>a general expression for the energy for very weak poten-</span></div>
<div class="t j" style="left:2863.0px;top:1068.62px;width:371.0px;letter-spacing:0.570px;"><span>tials where the system reaches universality with a wave</span></div>
<div class="t j" style="left:2863.0px;top:1086.87px;width:371.0px;letter-spacing:0.438px;"><span>function given as a modified Bessel function entirely de-</span></div>
<div class="t j" style="left:3262.0px;top:88.87px;width:371.0px;letter-spacing:0.570px;"><span>termined by the binding energy.&nbsp; The analytic result for</span></div>
<div class="t j" style="left:3262.0px;top:107.00px;width:371.0px;letter-spacing:0.406px;"><span>the energy is worked out in details for dipolar molecules,</span></div>
<div class="t j" style="left:3262.0px;top:125.13px;width:371.0px;letter-spacing:0.380px;"><span>and we illustrate the result by accurate numerical compu-</span></div>
<div class="t j" style="left:3262.0px;top:143.26px;width:371.0px;letter-spacing:0.570px;"><span>tations.&nbsp; High-order terms in the potential strength are</span></div>
<div class="t j" style="left:3262.0px;top:161.39px;width:371.0px;letter-spacing:0.570px;"><span>necessary to get accurate values.&nbsp; We investigate char-</span></div>
<div class="t j" style="left:3262.0px;top:179.52px;width:371.0px;letter-spacing:0.504px;"><span>acteristics of universality, that is approach to cylindrical</span></div>
<div class="t j" style="left:3262.0px;top:197.65px;width:371.0px;letter-spacing:0.418px;"><span>symmetry, where the monopole component dominate and</span></div>
<div class="t j" style="left:3262.0px;top:215.78px;width:371.0px;letter-spacing:0.349px;"><span>the mean square radius becomes inversely proportional to</span></div>
<div class="t j" style="left:3262.0px;top:233.91px;width:371.0px;letter-spacing:0.519px;"><span>the binding energy.&nbsp; The universal limit is reached when</span></div>
<div class="t j" style="left:3262.0px;top:252.04px;width:371.0px;letter-spacing:0.570px;"><span>the reduced strength, |<i>U</i>|, decreases below unity, which</span></div>
<div class="t" style="left:3262.0px;top:270.17px;letter-spacing:0.570px;"><span>is the regime of current experiments [12].</span></div>
<div class="t j" style="left:3278.0px;top:292.87px;width:355.0px;letter-spacing:0.570px;"><span>These results imply that three particles in 2D without</span></div>
<div class="t j" style="left:3262.0px;top:311.00px;width:371.0px;letter-spacing:0.570px;"><span>quantum statistical restrictions would have at least two</span></div>
<div class="t j" style="left:3262.0px;top:329.13px;width:371.0px;letter-spacing:0.570px;"><span>bound states for weak couplings with universal features</span></div>
<div class="t j" style="left:3262.0px;top:347.26px;width:371.0px;letter-spacing:0.570px;"><span>[20].&nbsp;&nbsp; In conclusion, reliable predictions of many-body</span></div>
<div class="t j" style="left:3262.0px;top:365.39px;width:371.0px;letter-spacing:0.380px;"><span>structures, including regions of various phases, must take</span></div>
<div class="t j" style="left:3262.0px;top:383.52px;width:371.0px;letter-spacing:0.527px;"><span>these few-body structures into account as they persist to</span></div>
<div class="t" style="left:3262.0px;top:401.65px;letter-spacing:0.570px;"><span>arbitrarily small potential strength.</span></div>
<div style="position:absolute;left:3391.7px;top:445px;width:109px;height:1.1px;background:#222"></div>
<div class="t s" style="left:3283.0px;top:487.41px;transform:translateX(-100%);letter-spacing:0.2px">[1]</div>
<div class="t s j" style="left:3289.0px;top:487.41px;width:344.0px;letter-spacing:0.650px;"><span>L. D. Landau and E. M. Lifshitz, <i>Quantum Mechanics</i></span></div>
<div class="t s" style="left:3289.0px;top:503.25px;letter-spacing:0.650px;"><span>(Butterworth-Heinemann, Oxford, 1977).</span></div>
<div class="t s" style="left:3283.0px;top:519.09px;transform:translateX(-100%);letter-spacing:0.2px">[2]</div>
<div class="t s" style="left:3289.0px;top:519.09px;letter-spacing:0.650px;"><span>B. Simon, Ann. Phys. <b>97</b>, 279 (1976).</span></div>
<div class="t s" style="left:3283.0px;top:534.93px;transform:translateX(-100%);letter-spacing:0.2px">[3]</div>
<div class="t s j" style="left:3289.0px;top:534.93px;width:344.0px;letter-spacing:0.584px;"><span>M. Combescure, C. Fayard, A. Khare, and J.-M. Richard,</span></div>
<div class="t s" style="left:3289.0px;top:550.77px;letter-spacing:0.650px;"><span>J. Phys. A. <b>44</b>, 275302 (2011).</span></div>
<div class="t s" style="left:3283.0px;top:566.61px;transform:translateX(-100%);letter-spacing:0.2px">[4]</div>
<div class="t s j" style="left:3289.0px;top:566.61px;width:344.0px;letter-spacing:0.650px;"><span>J. Deslippe, C. D. Spataru, D. Prendergast, and S. G.</span></div>
<div class="t s" style="left:3289.0px;top:582.45px;letter-spacing:0.650px;"><span>Louie, Nano Lett. <b>7</b>, 1626 (2007).</span></div>
<div class="t s" style="left:3283.0px;top:598.29px;transform:translateX(-100%);letter-spacing:0.2px">[5]</div>
<div class="t s" style="left:3289.0px;top:598.29px;letter-spacing:0.650px;"><span>D. G. Lidzey <i>et al.</i>, Nature <b>395</b>, 53 (1998).</span></div>
<div class="t s" style="left:3283.0px;top:614.13px;transform:translateX(-100%);letter-spacing:0.2px">[6]</div>
<div class="t s j" style="left:3289.0px;top:614.13px;width:344.0px;letter-spacing:0.650px;"><span>X.-Y. Zhu, Q. Yang, and M. Muntwiler, Acc. Chem. Res.</span></div>
<div class="t s" style="left:3289.0px;top:629.97px;letter-spacing:0.650px;"><span><b>42</b>, 1779 (2009).</span></div>
<div class="t s" style="left:3283.0px;top:645.81px;transform:translateX(-100%);letter-spacing:0.2px">[7]</div>
<div class="t s j" style="left:3289.0px;top:645.81px;width:344.0px;letter-spacing:0.636px;"><span>K. Miyake, Prog. Theor. Phys. <b>69</b>, 1794 (1983); M. Ran-</span></div>
<div class="t s j" style="left:3289.0px;top:661.65px;width:344.0px;letter-spacing:0.616px;"><span>deria, J.-M. Duan, and L.-Y. Shieh, Phys. Rev. B <b>41</b>, 327</span></div>
<div class="t s j" style="left:3289.0px;top:677.49px;width:344.0px;letter-spacing:0.650px;"><span>(1990); D. S. Petrov, M. A. Baranov, and G. V. Shlyap-</span></div>
<div class="t s" style="left:3289.0px;top:693.33px;letter-spacing:0.650px;"><span>nikov, Phys. Rev. A <b>67</b>, 031601(R) (2003).</span></div>
<div class="t s" style="left:3283.0px;top:709.17px;transform:translateX(-100%);letter-spacing:0.2px">[8]</div>
<div class="t s j" style="left:3289.0px;top:709.17px;width:344.0px;letter-spacing:0.650px;"><span>F. E. Olsson <i>et al.</i>, Phys. Rev. Lett. <b>93</b>, 206803 (2004);</span></div>
<div class="t s j" style="left:3289.0px;top:725.01px;width:344.0px;letter-spacing:0.650px;"><span>L. Limot, E. Pehlke, J. Kröger, and R. Berndt, Phys.</span></div>
<div class="t s" style="left:3289.0px;top:740.85px;letter-spacing:0.650px;"><span>Rev. Lett. <b>94</b>, 036805 (2005).</span></div>
<div class="t s" style="left:3283.0px;top:756.69px;transform:translateX(-100%);letter-spacing:0.2px">[9]</div>
<div class="t s j" style="left:3289.0px;top:756.69px;width:344.0px;letter-spacing:0.650px;"><span>S. Díaz-Tendero, A. G. Borisov and J. P. Gauyacq, Phys.</span></div>
<div class="t s j" style="left:3289.0px;top:772.53px;width:344.0px;letter-spacing:0.650px;"><span>Rev. B <b>76</b>, 155428 (2007); B. Borca <i>et al.</i>, Phys. Rev.</span></div>
<div class="t s" style="left:3289.0px;top:788.37px;letter-spacing:0.650px;"><span>Lett. <b>105</b>, 036804 (2010).</span></div>
<div class="t s" style="left:3283.0px;top:804.21px;transform:translateX(-100%);letter-spacing:0.2px">[10]</div>
<div class="t s j" style="left:3289.0px;top:804.21px;width:344.0px;letter-spacing:0.650px;"><span>S. N. Coppersmith, R D. Blank, and L P. Kadanoff, J.</span></div>
<div class="t s" style="left:3289.0px;top:820.05px;letter-spacing:0.650px;"><span>Stat. Phys. <b>97</b>, 429 (1999).</span></div>
<div class="t s" style="left:3283.0px;top:835.89px;transform:translateX(-100%);letter-spacing:0.2px">[11]</div>
<div class="t s j" style="left:3289.0px;top:835.89px;width:344.0px;letter-spacing:0.650px;"><span>M. A. Baranov, Phys. Rep. <b>464</b>, 71 (2008); T. Lahaye,</span></div>
<div class="t s j" style="left:3289.0px;top:851.73px;width:344.0px;letter-spacing:0.650px;"><span>C. Menotti, L. Santos, M. Lewenstein, and T. Pfau, Rep.</span></div>
<div class="t s" style="left:3289.0px;top:867.57px;letter-spacing:0.650px;"><span>Prog. Phys. <b>72</b>, 126401 (2009).</span></div>
<div class="t s" style="left:3283.0px;top:883.41px;transform:translateX(-100%);letter-spacing:0.2px">[12]</div>
<div class="t s" style="left:3289.0px;top:883.41px;letter-spacing:0.524px;"><span>M. H. G. de Miranda <i>et al.</i>, Nature Physics <b>7</b>, 502 (2011).</span></div>
<div class="t s" style="left:3283.0px;top:899.25px;transform:translateX(-100%);letter-spacing:0.2px">[13]</div>
<div class="t s j" style="left:3289.0px;top:899.25px;width:344.0px;letter-spacing:0.600px;"><span>G. M. Bruun and E. Taylor, Phys. Rev. Lett. <b>101</b>, 245301</span></div>
<div class="t s j" style="left:3289.0px;top:915.09px;width:344.0px;letter-spacing:0.650px;"><span>(2008); Y. Yamaguchi, T. Sogo, T. Ito, and T. Miyakawa,</span></div>
<div class="t s j" style="left:3289.0px;top:930.93px;width:344.0px;letter-spacing:0.650px;"><span>Phys. Rev. A <b>82</b>, 013643 (2010); K. Sun, C. Wu, and S.</span></div>
<div class="t s j" style="left:3289.0px;top:946.77px;width:344.0px;letter-spacing:0.522px;"><span>Das Sarma, Phys. Rev. B <b>82</b>, 075105 (2010); N. T. Zinner</span></div>
<div class="t s" style="left:3289.0px;top:962.61px;letter-spacing:0.650px;"><span>and G. M. Bruun, arXiv:1102.1551v1.</span></div>
<div class="t s" style="left:3283.0px;top:978.45px;transform:translateX(-100%);letter-spacing:0.2px">[14]</div>
<div class="t s j" style="left:3289.0px;top:978.45px;width:344.0px;letter-spacing:0.650px;"><span>J. R. Armstrong, N. T. Zinner, D. V. Fedorov, A. S.</span></div>
<div class="t s" style="left:3289.0px;top:994.29px;letter-spacing:0.650px;"><span>Jensen, Europhys. Lett. <b>91</b>, 16001 (2010).</span></div>
<div class="t s" style="left:3283.0px;top:1010.13px;transform:translateX(-100%);letter-spacing:0.2px">[15]</div>
<div class="t s j" style="left:3289.0px;top:1010.13px;width:344.0px;letter-spacing:0.650px;"><span>M. Klawunn, A. Pikovski, and L. Santos, Phys. Rev. A</span></div>
<div class="t s" style="left:3289.0px;top:1025.97px;letter-spacing:0.650px;"><span><b>82</b>, 044701 (2010).</span></div>
<div class="t s" style="left:3283.0px;top:1041.81px;transform:translateX(-100%);letter-spacing:0.2px">[16]</div>
<div class="t s j" style="left:3289.0px;top:1041.81px;width:344.0px;letter-spacing:0.518px;"><span>M. A. Baranov, A. Micheli, S. Ronen, and P. Zoller, Phys.</span></div>
<div class="t s" style="left:3289.0px;top:1057.65px;letter-spacing:0.650px;"><span>Rev. A <b>83</b>, 043602 (2011).</span></div>
<div class="t s" style="left:3283.0px;top:1073.49px;transform:translateX(-100%);letter-spacing:0.2px">[17]</div>
<div class="t s j" style="left:3289.0px;top:1073.49px;width:344.0px;letter-spacing:0.650px;"><span>E. Nielsen, D.V. Fedorov, A.S. Jensen, Few-Body Syst.</span></div>
<div class="t s" style="left:3289.0px;top:1089.33px;letter-spacing:0.650px;"><span><b>27</b>, 15 (1999).</span></div>
<div class="t" style="left:4559.0px;top:50.87px;transform:translateX(-100%);letter-spacing:0.3px">5</div>
<div class="t s" style="left:3811.0px;top:90.91px;transform:translateX(-100%);letter-spacing:0.2px">[18]</div>
<div class="t s" style="left:3817.0px;top:90.91px;letter-spacing:0.650px;"><span>R.G. Newton, J. Math. Phys. 27 (1986) 2720.</span></div>
<div class="t s" style="left:3811.0px;top:106.66px;transform:translateX(-100%);letter-spacing:0.2px">[19]</div>
<div class="t s j" style="left:3817.0px;top:106.66px;width:344.0px;letter-spacing:0.650px;"><span>A. G. Volosniev, N. T. Zinner, D. V. Fedorov, A. S.</span></div>
<div class="t s" style="left:3817.0px;top:122.41px;letter-spacing:0.650px;"><span>Jensen, B. Wunsch, J. Phys. B. <b>44</b>, 125301 (2011).</span></div>
<div class="t s" style="left:4210.0px;top:90.91px;transform:translateX(-100%);letter-spacing:0.2px">[20]</div>
<div class="t s j" style="left:4216.0px;top:90.91px;width:344.0px;letter-spacing:0.650px;"><span>E. Nielsen, D.V. Fedorov, A.S. Jensen, E. Garrido, Phys.</span></div>
<div class="t s" style="left:4216.0px;top:106.66px;letter-spacing:0.650px;"><span>Rep. <b>347</b>, 373 (2001).</span></div></body></html>
